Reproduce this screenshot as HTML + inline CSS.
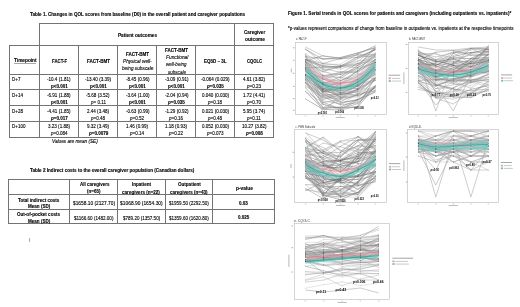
<!DOCTYPE html><html><head><meta charset="utf-8"><style>
html,body{margin:0;padding:0;background:#fff;}
body{width:520px;height:307px;position:relative;overflow:hidden;font-family:"Liberation Sans", sans-serif;}
.t{position:absolute;white-space:nowrap;line-height:1;color:#000;transform-origin:0 50%;-webkit-text-stroke:0.12px #000;}
.h{position:absolute;height:1px;background:#737373;}
.v{position:absolute;width:1px;background:#737373;}
svg{position:absolute;left:0;top:0;}
</style></head><body>
<div class="h" style="left:39px;top:23px;width:235px"></div>
<div class="h" style="left:9px;top:45px;width:265px"></div>
<div class="h" style="left:9px;top:74px;width:265px"></div>
<div class="h" style="left:9px;top:89px;width:265px"></div>
<div class="h" style="left:9px;top:105px;width:265px"></div>
<div class="h" style="left:9px;top:121px;width:265px"></div>
<div class="h" style="left:9px;top:137px;width:265px"></div>
<div class="h" style="left:8px;top:179px;width:267px"></div>
<div class="h" style="left:8px;top:194px;width:267px"></div>
<div class="h" style="left:8px;top:209px;width:267px"></div>
<div class="h" style="left:8px;top:223px;width:267px"></div>
<div class="v" style="left:39px;top:23px;height:115px"></div>
<div class="v" style="left:234px;top:23px;height:115px"></div>
<div class="v" style="left:273px;top:23px;height:115px"></div>
<div class="v" style="left:9px;top:45px;height:93px"></div>
<div class="v" style="left:78px;top:45px;height:92px"></div>
<div class="v" style="left:117px;top:45px;height:92px"></div>
<div class="v" style="left:156px;top:45px;height:92px"></div>
<div class="v" style="left:195px;top:45px;height:92px"></div>
<div class="v" style="left:8px;top:179px;height:45px"></div>
<div class="v" style="left:69px;top:179px;height:45px"></div>
<div class="v" style="left:117px;top:179px;height:45px"></div>
<div class="v" style="left:165px;top:179px;height:45px"></div>
<div class="v" style="left:212px;top:179px;height:45px"></div>
<div class="v" style="left:274px;top:179px;height:45px"></div>
<svg width="520" height="307" viewBox="0 0 520 307"><rect x="295.5" y="42.5" width="91.0" height="72.0" fill="#fff" stroke="#c4c4c4" stroke-width="0.7"/><polyline points="305.4,59.3 322.9,63.5 340.3,65.3 357.8,65.2 375.2,48.5" fill="none" stroke="#6c6c6c" stroke-width="0.42"/><polyline points="305.4,75.4 322.9,90.8 340.3,93.5 357.8,90.2 375.2,69.8" fill="none" stroke="#a2a2a2" stroke-width="0.42"/><polyline points="305.4,83.0 322.9,97.1 340.3,98.5 357.8,88.9 375.2,89.1" fill="none" stroke="#b4b4b4" stroke-width="0.42"/><polyline points="305.4,62.0 322.9,84.6 340.3,87.6 357.8,86.2 375.2,69.6" fill="none" stroke="#5a5a5a" stroke-width="0.42"/><polyline points="305.4,67.6 322.9,82.4 340.3,85.4 357.8,84.7 375.2,65.6" fill="none" stroke="#a2a2a2" stroke-width="0.42"/><polyline points="305.4,69.8 322.9,85.3 340.3,92.7 357.8,86.5 375.2,73.9" fill="none" stroke="#5a5a5a" stroke-width="0.42"/><polyline points="305.4,86.1 322.9,96.6 340.3,104.8 357.8,102.8 375.2,91.1" fill="none" stroke="#7e7e7e" stroke-width="0.42"/><polyline points="305.4,65.7 322.9,77.7 340.3,72.0 357.8,70.8 375.2,53.9" fill="none" stroke="#b4b4b4" stroke-width="0.42"/><polyline points="305.4,74.9 322.9,83.7 340.3,76.9 357.8,65.4 375.2,56.2" fill="none" stroke="#5a5a5a" stroke-width="0.42"/><polyline points="305.4,81.7 322.9,100.8 340.3,103.6 357.8,99.1 375.2,78.2" fill="none" stroke="#7e7e7e" stroke-width="0.42"/><polyline points="305.4,53.7 322.9,64.4 340.3,64.2 357.8,53.8 375.2,57.9" fill="none" stroke="#b4b4b4" stroke-width="0.42"/><polyline points="305.4,75.4 322.9,82.4 340.3,83.8 357.8,76.5 375.2,62.6" fill="none" stroke="#5a5a5a" stroke-width="0.42"/><polyline points="305.4,60.9 322.9,55.8 340.3,58.4 357.8,54.4 375.2,45.7" fill="none" stroke="#6c6c6c" stroke-width="0.42"/><polyline points="305.4,82.4 322.9,97.6 340.3,93.4 357.8,89.7 375.2,71.8" fill="none" stroke="#a2a2a2" stroke-width="0.42"/><polyline points="305.4,56.2 322.9,67.5 340.3,65.7 357.8,60.7 375.2,60.1" fill="none" stroke="#b4b4b4" stroke-width="0.42"/><polyline points="305.4,61.8 322.9,78.5 340.3,71.5 357.8,71.7 375.2,50.1" fill="none" stroke="#b4b4b4" stroke-width="0.42"/><polyline points="305.4,85.3 322.9,98.2 340.3,98.7 357.8,93.5 375.2,85.7" fill="none" stroke="#b4b4b4" stroke-width="0.42"/><polyline points="305.4,59.6 322.9,65.5 340.3,67.4 357.8,58.5 375.2,49.5" fill="none" stroke="#5a5a5a" stroke-width="0.42"/><polyline points="305.4,59.2 322.9,66.4 340.3,67.3 357.8,61.6 375.2,48.2" fill="none" stroke="#909090" stroke-width="0.42"/><polyline points="305.4,77.4 322.9,99.5 340.3,94.6 357.8,91.3 375.2,65.0" fill="none" stroke="#6c6c6c" stroke-width="0.42"/><polyline points="305.4,61.0 322.9,66.3 340.3,69.1 357.8,63.5 375.2,61.2" fill="none" stroke="#909090" stroke-width="0.42"/><polyline points="305.4,68.3 322.9,89.9 340.3,96.3 357.8,89.3 375.2,77.5" fill="none" stroke="#909090" stroke-width="0.42"/><polyline points="305.4,63.4 322.9,76.7 340.3,77.6 357.8,79.4 375.2,59.4" fill="none" stroke="#909090" stroke-width="0.42"/><polyline points="305.4,67.3 322.9,88.1 340.3,90.9 357.8,82.0 375.2,70.2" fill="none" stroke="#6c6c6c" stroke-width="0.42"/><polyline points="305.4,59.4 322.9,68.5 340.3,72.2 357.8,72.8 375.2,59.4" fill="none" stroke="#7e7e7e" stroke-width="0.42"/><polyline points="305.4,67.9 322.9,88.7 340.3,97.0 357.8,95.2 375.2,90.4" fill="none" stroke="#909090" stroke-width="0.42"/><polyline points="305.4,78.1 322.9,90.8 340.3,101.6 357.8,94.2 375.2,75.3" fill="none" stroke="#6c6c6c" stroke-width="0.42"/><polyline points="305.4,70.9 322.9,77.6 340.3,83.7 357.8,74.6 375.2,69.5" fill="none" stroke="#a2a2a2" stroke-width="0.42"/><polyline points="305.4,61.3 322.9,92.8 340.3,97.9 357.8,88.9 375.2,78.7" fill="none" stroke="#909090" stroke-width="0.42"/><polyline points="305.4,78.0 322.9,91.8 340.3,88.6 357.8,82.6 375.2,69.5" fill="none" stroke="#6c6c6c" stroke-width="0.42"/><polyline points="305.4,91.6 322.9,108.6 340.3,107.1 357.8,99.5 375.2,92.2" fill="none" stroke="#5a5a5a" stroke-width="0.42"/><polyline points="305.4,91.3 322.9,102.9 340.3,99.2 357.8,89.8 375.2,80.3" fill="none" stroke="#909090" stroke-width="0.42"/><polyline points="305.4,64.6 322.9,72.0 340.3,74.8 357.8,71.0 375.2,54.1" fill="none" stroke="#a2a2a2" stroke-width="0.42"/><polyline points="305.4,62.0 322.9,69.6 340.3,80.6 357.8,75.4 375.2,60.6" fill="none" stroke="#a2a2a2" stroke-width="0.42"/><polyline points="305.4,54.8 322.9,87.0 340.3,89.9 357.8,79.5 375.2,67.9" fill="none" stroke="#909090" stroke-width="0.42"/><polyline points="305.4,87.5 322.9,107.3 340.3,107.4 357.8,107.1 375.2,85.9" fill="none" stroke="#5a5a5a" stroke-width="0.42"/><polyline points="305.4,62.0 322.9,75.5 340.3,77.2 357.8,69.1 375.2,62.6" fill="none" stroke="#b4b4b4" stroke-width="0.42"/><polyline points="305.4,48.8 322.9,63.4 340.3,58.6 357.8,55.2 375.2,54.4" fill="none" stroke="#7e7e7e" stroke-width="0.42"/><polyline points="305.4,64.3 322.9,91.9 340.3,84.1 357.8,70.5 375.2,59.4" fill="none" stroke="#7e7e7e" stroke-width="0.42"/><polyline points="305.4,74.2 322.9,89.8 340.3,92.6 357.8,95.6 375.2,87.9" fill="none" stroke="#6c6c6c" stroke-width="0.42"/><polyline points="305.4,75.2 322.9,83.6 340.3,79.0 357.8,67.2 375.2,46.7" fill="none" stroke="#909090" stroke-width="0.42"/><polyline points="305.4,60.1 322.9,78.9 340.3,82.8 357.8,81.8 375.2,62.1" fill="none" stroke="#b4b4b4" stroke-width="0.42"/><polyline points="305.4,79.3 322.9,94.8 340.3,99.0 357.8,83.8 375.2,80.2" fill="none" stroke="#a2a2a2" stroke-width="0.42"/><polyline points="305.4,68.7 322.9,93.6 340.3,102.5 357.8,100.1 375.2,87.4" fill="none" stroke="#5a5a5a" stroke-width="0.42"/><polyline points="305.4,75.2 322.9,90.9 340.3,94.7 357.8,92.0 375.2,77.8" fill="none" stroke="#6c6c6c" stroke-width="0.42"/><polyline points="305.4,75.6 322.9,76.2 340.3,87.4 357.8,84.9 375.2,67.7" fill="none" stroke="#a2a2a2" stroke-width="0.42"/><polyline points="305.4,65.0 322.9,79.5 340.3,80.6 357.8,73.5 375.2,79.4" fill="none" stroke="#909090" stroke-width="0.42"/><polyline points="305.4,67.9 322.9,75.6 340.3,74.5 357.8,67.8 375.2,56.2" fill="none" stroke="#a2a2a2" stroke-width="0.42"/><polyline points="305.4,98.8 322.9,109.3 340.3,110.0 357.8,106.2 375.2,77.8" fill="none" stroke="#5a5a5a" stroke-width="0.42"/><polyline points="305.4,49.3 322.9,59.4 340.3,57.5 357.8,52.9 375.2,47.6" fill="none" stroke="#5a5a5a" stroke-width="0.42"/><polyline points="305.4,69.9 322.9,86.8 340.3,86.0 357.8,94.1 375.2,70.4" fill="none" stroke="#b4b4b4" stroke-width="0.42"/><polyline points="305.4,75.6 322.9,96.1 340.3,96.3 357.8,88.7 375.2,80.6" fill="none" stroke="#a2a2a2" stroke-width="0.42"/><polyline points="305.4,56.7 322.9,58.5 340.3,59.0 357.8,57.3 375.2,55.5" fill="none" stroke="#6c6c6c" stroke-width="0.42"/><polyline points="305.4,74.3 322.9,88.4 340.3,91.4 357.8,85.5 375.2,74.2" fill="none" stroke="#7e7e7e" stroke-width="0.42"/><polyline points="305.4,74.3 322.9,89.5 340.3,88.7 357.8,79.6 375.2,67.8" fill="none" stroke="#6c6c6c" stroke-width="0.42"/><polyline points="305.4,83.5 322.9,102.2 340.3,109.0 357.8,103.6 375.2,86.9" fill="none" stroke="#6c6c6c" stroke-width="0.42"/><polyline points="305.4,79.6 322.9,104.4 340.3,108.4 357.8,101.5 375.2,86.1" fill="none" stroke="#7e7e7e" stroke-width="0.42"/><polyline points="305.4,65.3 322.9,84.4 340.3,84.3 357.8,80.5 375.2,64.1" fill="none" stroke="#6c6c6c" stroke-width="0.42"/><polyline points="305.4,80.3 322.9,95.5 340.3,104.9 357.8,93.7 375.2,90.9" fill="none" stroke="#a2a2a2" stroke-width="0.42"/><polyline points="305.4,82.7 322.9,95.0 340.3,94.1 357.8,85.5 375.2,73.1" fill="none" stroke="#6c6c6c" stroke-width="0.42"/><polyline points="305.4,74.5 322.9,83.9 340.3,97.7 357.8,96.8 375.2,85.9" fill="none" stroke="#7e7e7e" stroke-width="0.42"/><polyline points="305.4,57.0 322.9,75.6 340.3,73.2 357.8,63.6 375.2,53.5" fill="none" stroke="#7e7e7e" stroke-width="0.42"/><polyline points="305.4,54.3 322.9,69.9 340.3,66.2 357.8,63.5 375.2,55.5" fill="none" stroke="#a2a2a2" stroke-width="0.42"/><polyline points="305.4,66.1 322.9,83.9 340.3,88.6 357.8,85.0 375.2,64.8" fill="none" stroke="#7e7e7e" stroke-width="0.42"/><polyline points="305.4,63.9 322.9,74.6 340.3,82.7 357.8,77.0 375.2,52.9" fill="none" stroke="#b4b4b4" stroke-width="0.42"/><polyline points="305.4,69.9 322.9,79.5 340.3,74.0 357.8,68.5 375.2,62.6" fill="none" stroke="#909090" stroke-width="0.42"/><polyline points="305.4,68.2 322.9,89.4 340.3,81.2 357.8,71.2 375.2,62.1" fill="none" stroke="#6c6c6c" stroke-width="0.42"/><polyline points="305.4,74.8 322.9,91.3 340.3,93.9 357.8,77.7 375.2,62.6" fill="none" stroke="#a2a2a2" stroke-width="0.42"/><polyline points="305.4,67.7 322.9,67.3 340.3,66.4 357.8,67.5 375.2,57.4" fill="none" stroke="#7e7e7e" stroke-width="0.42"/><polyline points="305.4,79.4 322.9,92.6 340.3,87.9 357.8,88.5 375.2,62.8" fill="none" stroke="#909090" stroke-width="0.42"/><polyline points="305.4,76.7 322.9,88.9 340.3,90.8 357.8,88.3 375.2,63.7" fill="none" stroke="#909090" stroke-width="0.42"/><polyline points="305.4,62.2 322.9,71.5 340.3,66.3 357.8,56.8 375.2,49.7" fill="none" stroke="#5a5a5a" stroke-width="0.42"/><polyline points="305.4,47.0 322.9,56.0 340.3,58.0 357.8,53.0 375.2,48.0" fill="none" stroke="#9a9a9a" stroke-width="0.5"/><polyline points="305.4,60.0 322.9,108.0 340.3,100.0 357.8,95.0 375.2,80.0" fill="none" stroke="#9a9a9a" stroke-width="0.5"/><polyline points="305.4,55.0 322.9,104.0 340.3,110.0 357.8,100.0 375.2,90.0" fill="none" stroke="#9a9a9a" stroke-width="0.5"/><polyline points="305.4,80.0 322.9,112.0 340.3,95.0 357.8,90.0 375.2,70.0" fill="none" stroke="#9a9a9a" stroke-width="0.5"/><polygon points="305.4,62.5 306.4,63.4 307.8,64.5 309.4,65.8 311.1,67.3 313.1,68.8 315.1,70.4 317.1,71.9 319.1,73.3 321.1,74.5 322.9,75.5 324.6,76.4 326.4,77.2 328.1,77.9 329.9,78.6 331.6,79.1 333.3,79.6 335.1,80.0 336.8,80.3 338.6,80.4 340.3,80.5 342.0,80.4 343.8,80.3 345.5,80.0 347.3,79.6 349.1,79.1 350.8,78.6 352.6,77.9 354.3,77.2 356.1,76.4 357.8,75.5 359.6,74.5 361.6,73.2 363.6,71.8 365.6,70.3 367.6,68.8 369.5,67.3 371.3,65.8 372.8,64.5 374.2,63.4 375.2,62.5 375.2,75.5 374.2,75.9 372.8,76.4 371.3,77.1 369.5,77.9 367.6,78.7 365.6,79.6 363.6,80.4 361.6,81.2 359.6,81.9 357.8,82.5 356.1,83.0 354.3,83.5 352.6,83.9 350.8,84.3 349.1,84.6 347.3,84.9 345.5,85.2 343.8,85.3 342.0,85.5 340.3,85.5 338.6,85.5 336.8,85.3 335.1,85.2 333.3,84.9 331.6,84.6 329.9,84.3 328.1,83.9 326.4,83.4 324.6,83.0 322.9,82.5 321.1,81.9 319.1,81.2 317.1,80.4 315.1,79.5 313.1,78.7 311.1,77.9 309.4,77.1 307.8,76.4 306.4,75.9 305.4,75.5" fill="#eeb4bd" fill-opacity="0.4"/><polyline points="305.4,69.0 306.4,69.6 307.8,70.5 309.4,71.5 311.1,72.6 313.1,73.8 315.1,75.0 317.1,76.1 319.1,77.2 321.1,78.2 322.9,79.0 324.6,79.7 326.4,80.3 328.1,80.9 329.9,81.4 331.6,81.9 333.3,82.3 335.1,82.6 336.8,82.8 338.6,83.0 340.3,83.0 342.0,83.0 343.8,82.8 345.5,82.6 347.3,82.3 349.1,81.9 350.8,81.4 352.6,80.9 354.3,80.3 356.1,79.7 357.8,79.0 359.6,78.2 361.6,77.2 363.6,76.1 365.6,75.0 367.6,73.8 369.5,72.6 371.3,71.5 372.8,70.5 374.2,69.6 375.2,69.0" fill="none" stroke="#d9707f" stroke-width="0.6" stroke-opacity="0.9"/><polygon points="305.4,64.5 306.4,65.6 307.8,67.0 309.4,68.6 311.1,70.5 313.1,72.4 315.1,74.4 317.1,76.3 319.1,78.0 321.1,79.5 322.9,80.7 324.6,81.7 326.4,82.7 328.1,83.5 329.9,84.1 331.6,84.7 333.3,85.2 335.1,85.5 336.8,85.7 338.6,85.8 340.3,85.8 342.0,85.6 343.8,85.3 345.5,84.9 347.3,84.4 349.1,83.7 350.8,83.0 352.6,82.1 354.3,81.1 356.1,80.0 357.8,78.7 359.6,77.2 361.6,75.5 363.6,73.4 365.6,71.3 367.6,69.0 369.5,66.8 371.3,64.7 372.8,62.8 374.2,61.2 375.2,60.0 375.2,73.0 374.2,73.7 372.8,74.7 371.3,75.9 369.5,77.2 367.6,78.7 365.6,80.2 363.6,81.7 361.6,83.1 359.6,84.3 357.8,85.3 356.1,86.1 354.3,86.9 352.6,87.5 350.8,88.2 349.1,88.7 347.3,89.1 345.5,89.5 343.8,89.8 342.0,90.1 340.3,90.2 338.6,90.3 336.8,90.2 335.1,90.1 333.3,89.9 331.6,89.7 329.9,89.3 328.1,88.9 326.4,88.4 324.6,87.9 322.9,87.3 321.1,86.5 319.1,85.6 317.1,84.5 315.1,83.3 313.1,82.1 311.1,80.9 309.4,79.8 307.8,78.8 306.4,78.1 305.4,77.5" fill="#6cc2b9" fill-opacity="0.62"/><polyline points="305.4,71.0 306.4,71.8 307.8,72.9 309.4,74.2 311.1,75.7 313.1,77.2 315.1,78.8 317.1,80.4 319.1,81.8 321.1,83.0 322.9,84.0 324.6,84.8 326.4,85.5 328.1,86.2 329.9,86.7 331.6,87.2 333.3,87.6 335.1,87.8 336.8,88.0 338.6,88.0 340.3,88.0 342.0,87.8 343.8,87.6 345.5,87.2 347.3,86.8 349.1,86.2 350.8,85.6 352.6,84.8 354.3,84.0 356.1,83.0 357.8,82.0 359.6,80.8 361.6,79.3 363.6,77.6 365.6,75.7 367.6,73.9 369.5,72.0 371.3,70.3 372.8,68.8 374.2,67.5 375.2,66.5" fill="none" stroke="#279a90" stroke-width="0.8" stroke-opacity="0.9"/><circle cx="305.4" cy="59.3" r="0.3" fill="#444" fill-opacity="0.55"/><circle cx="322.9" cy="63.5" r="0.3" fill="#444" fill-opacity="0.55"/><circle cx="340.3" cy="65.3" r="0.3" fill="#444" fill-opacity="0.55"/><circle cx="357.8" cy="65.2" r="0.3" fill="#444" fill-opacity="0.55"/><circle cx="375.2" cy="48.5" r="0.3" fill="#444" fill-opacity="0.55"/><circle cx="305.4" cy="75.4" r="0.3" fill="#444" fill-opacity="0.55"/><circle cx="322.9" cy="90.8" r="0.3" fill="#444" fill-opacity="0.55"/><circle cx="340.3" cy="93.5" r="0.3" fill="#444" fill-opacity="0.55"/><circle cx="357.8" cy="90.2" r="0.3" fill="#444" fill-opacity="0.55"/><circle cx="375.2" cy="69.8" r="0.3" fill="#444" fill-opacity="0.55"/><circle cx="305.4" cy="83.0" r="0.3" fill="#444" fill-opacity="0.55"/><circle cx="322.9" cy="97.1" r="0.3" fill="#444" fill-opacity="0.55"/><circle cx="340.3" cy="98.5" r="0.3" fill="#444" fill-opacity="0.55"/><circle cx="357.8" cy="88.9" r="0.3" fill="#444" fill-opacity="0.55"/><circle cx="375.2" cy="89.1" r="0.3" fill="#444" fill-opacity="0.55"/><circle cx="305.4" cy="62.0" r="0.3" fill="#444" fill-opacity="0.55"/><circle cx="322.9" cy="84.6" r="0.3" fill="#444" fill-opacity="0.55"/><circle cx="340.3" cy="87.6" r="0.3" fill="#444" fill-opacity="0.55"/><circle cx="357.8" cy="86.2" r="0.3" fill="#444" fill-opacity="0.55"/><circle cx="375.2" cy="69.6" r="0.3" fill="#444" fill-opacity="0.55"/><circle cx="305.4" cy="67.6" r="0.3" fill="#444" fill-opacity="0.55"/><circle cx="322.9" cy="82.4" r="0.3" fill="#444" fill-opacity="0.55"/><circle cx="340.3" cy="85.4" r="0.3" fill="#444" fill-opacity="0.55"/><circle cx="357.8" cy="84.7" r="0.3" fill="#444" fill-opacity="0.55"/><circle cx="375.2" cy="65.6" r="0.3" fill="#444" fill-opacity="0.55"/><circle cx="305.4" cy="69.8" r="0.3" fill="#444" fill-opacity="0.55"/><circle cx="322.9" cy="85.3" r="0.3" fill="#444" fill-opacity="0.55"/><circle cx="340.3" cy="92.7" r="0.3" fill="#444" fill-opacity="0.55"/><circle cx="357.8" cy="86.5" r="0.3" fill="#444" fill-opacity="0.55"/><circle cx="375.2" cy="73.9" r="0.3" fill="#444" fill-opacity="0.55"/><circle cx="305.4" cy="86.1" r="0.3" fill="#444" fill-opacity="0.55"/><circle cx="322.9" cy="96.6" r="0.3" fill="#444" fill-opacity="0.55"/><circle cx="340.3" cy="104.8" r="0.3" fill="#444" fill-opacity="0.55"/><circle cx="357.8" cy="102.8" r="0.3" fill="#444" fill-opacity="0.55"/><circle cx="375.2" cy="91.1" r="0.3" fill="#444" fill-opacity="0.55"/><circle cx="305.4" cy="65.7" r="0.3" fill="#444" fill-opacity="0.55"/><circle cx="322.9" cy="77.7" r="0.3" fill="#444" fill-opacity="0.55"/><circle cx="340.3" cy="72.0" r="0.3" fill="#444" fill-opacity="0.55"/><circle cx="357.8" cy="70.8" r="0.3" fill="#444" fill-opacity="0.55"/><circle cx="375.2" cy="53.9" r="0.3" fill="#444" fill-opacity="0.55"/><circle cx="305.4" cy="74.9" r="0.3" fill="#444" fill-opacity="0.55"/><circle cx="322.9" cy="83.7" r="0.3" fill="#444" fill-opacity="0.55"/><circle cx="340.3" cy="76.9" r="0.3" fill="#444" fill-opacity="0.55"/><circle cx="357.8" cy="65.4" r="0.3" fill="#444" fill-opacity="0.55"/><circle cx="375.2" cy="56.2" r="0.3" fill="#444" fill-opacity="0.55"/><circle cx="305.4" cy="81.7" r="0.3" fill="#444" fill-opacity="0.55"/><circle cx="322.9" cy="100.8" r="0.3" fill="#444" fill-opacity="0.55"/><circle cx="340.3" cy="103.6" r="0.3" fill="#444" fill-opacity="0.55"/><circle cx="357.8" cy="99.1" r="0.3" fill="#444" fill-opacity="0.55"/><circle cx="375.2" cy="78.2" r="0.3" fill="#444" fill-opacity="0.55"/><circle cx="305.4" cy="53.7" r="0.3" fill="#444" fill-opacity="0.55"/><circle cx="322.9" cy="64.4" r="0.3" fill="#444" fill-opacity="0.55"/><circle cx="340.3" cy="64.2" r="0.3" fill="#444" fill-opacity="0.55"/><circle cx="357.8" cy="53.8" r="0.3" fill="#444" fill-opacity="0.55"/><circle cx="375.2" cy="57.9" r="0.3" fill="#444" fill-opacity="0.55"/><circle cx="305.4" cy="75.4" r="0.3" fill="#444" fill-opacity="0.55"/><circle cx="322.9" cy="82.4" r="0.3" fill="#444" fill-opacity="0.55"/><circle cx="340.3" cy="83.8" r="0.3" fill="#444" fill-opacity="0.55"/><circle cx="357.8" cy="76.5" r="0.3" fill="#444" fill-opacity="0.55"/><circle cx="375.2" cy="62.6" r="0.3" fill="#444" fill-opacity="0.55"/><circle cx="305.4" cy="60.9" r="0.3" fill="#444" fill-opacity="0.55"/><circle cx="322.9" cy="55.8" r="0.3" fill="#444" fill-opacity="0.55"/><circle cx="340.3" cy="58.4" r="0.3" fill="#444" fill-opacity="0.55"/><circle cx="357.8" cy="54.4" r="0.3" fill="#444" fill-opacity="0.55"/><circle cx="375.2" cy="45.7" r="0.3" fill="#444" fill-opacity="0.55"/><circle cx="305.4" cy="82.4" r="0.3" fill="#444" fill-opacity="0.55"/><circle cx="322.9" cy="97.6" r="0.3" fill="#444" fill-opacity="0.55"/><circle cx="340.3" cy="93.4" r="0.3" fill="#444" fill-opacity="0.55"/><circle cx="357.8" cy="89.7" r="0.3" fill="#444" fill-opacity="0.55"/><circle cx="375.2" cy="71.8" r="0.3" fill="#444" fill-opacity="0.55"/><circle cx="305.4" cy="56.2" r="0.3" fill="#444" fill-opacity="0.55"/><circle cx="322.9" cy="67.5" r="0.3" fill="#444" fill-opacity="0.55"/><circle cx="340.3" cy="65.7" r="0.3" fill="#444" fill-opacity="0.55"/><circle cx="357.8" cy="60.7" r="0.3" fill="#444" fill-opacity="0.55"/><circle cx="375.2" cy="60.1" r="0.3" fill="#444" fill-opacity="0.55"/><circle cx="305.4" cy="61.8" r="0.3" fill="#444" fill-opacity="0.55"/><circle cx="322.9" cy="78.5" r="0.3" fill="#444" fill-opacity="0.55"/><circle cx="340.3" cy="71.5" r="0.3" fill="#444" fill-opacity="0.55"/><circle cx="357.8" cy="71.7" r="0.3" fill="#444" fill-opacity="0.55"/><circle cx="375.2" cy="50.1" r="0.3" fill="#444" fill-opacity="0.55"/><circle cx="305.4" cy="85.3" r="0.3" fill="#444" fill-opacity="0.55"/><circle cx="322.9" cy="98.2" r="0.3" fill="#444" fill-opacity="0.55"/><circle cx="340.3" cy="98.7" r="0.3" fill="#444" fill-opacity="0.55"/><circle cx="357.8" cy="93.5" r="0.3" fill="#444" fill-opacity="0.55"/><circle cx="375.2" cy="85.7" r="0.3" fill="#444" fill-opacity="0.55"/><circle cx="305.4" cy="59.6" r="0.3" fill="#444" fill-opacity="0.55"/><circle cx="322.9" cy="65.5" r="0.3" fill="#444" fill-opacity="0.55"/><circle cx="340.3" cy="67.4" r="0.3" fill="#444" fill-opacity="0.55"/><circle cx="357.8" cy="58.5" r="0.3" fill="#444" fill-opacity="0.55"/><circle cx="375.2" cy="49.5" r="0.3" fill="#444" fill-opacity="0.55"/><circle cx="305.4" cy="59.2" r="0.3" fill="#444" fill-opacity="0.55"/><circle cx="322.9" cy="66.4" r="0.3" fill="#444" fill-opacity="0.55"/><circle cx="340.3" cy="67.3" r="0.3" fill="#444" fill-opacity="0.55"/><circle cx="357.8" cy="61.6" r="0.3" fill="#444" fill-opacity="0.55"/><circle cx="375.2" cy="48.2" r="0.3" fill="#444" fill-opacity="0.55"/><circle cx="305.4" cy="77.4" r="0.3" fill="#444" fill-opacity="0.55"/><circle cx="322.9" cy="99.5" r="0.3" fill="#444" fill-opacity="0.55"/><circle cx="340.3" cy="94.6" r="0.3" fill="#444" fill-opacity="0.55"/><circle cx="357.8" cy="91.3" r="0.3" fill="#444" fill-opacity="0.55"/><circle cx="375.2" cy="65.0" r="0.3" fill="#444" fill-opacity="0.55"/><circle cx="305.4" cy="61.0" r="0.3" fill="#444" fill-opacity="0.55"/><circle cx="322.9" cy="66.3" r="0.3" fill="#444" fill-opacity="0.55"/><circle cx="340.3" cy="69.1" r="0.3" fill="#444" fill-opacity="0.55"/><circle cx="357.8" cy="63.5" r="0.3" fill="#444" fill-opacity="0.55"/><circle cx="375.2" cy="61.2" r="0.3" fill="#444" fill-opacity="0.55"/><circle cx="305.4" cy="68.3" r="0.3" fill="#444" fill-opacity="0.55"/><circle cx="322.9" cy="89.9" r="0.3" fill="#444" fill-opacity="0.55"/><circle cx="340.3" cy="96.3" r="0.3" fill="#444" fill-opacity="0.55"/><circle cx="357.8" cy="89.3" r="0.3" fill="#444" fill-opacity="0.55"/><circle cx="375.2" cy="77.5" r="0.3" fill="#444" fill-opacity="0.55"/><circle cx="305.4" cy="63.4" r="0.3" fill="#444" fill-opacity="0.55"/><circle cx="322.9" cy="76.7" r="0.3" fill="#444" fill-opacity="0.55"/><circle cx="340.3" cy="77.6" r="0.3" fill="#444" fill-opacity="0.55"/><circle cx="357.8" cy="79.4" r="0.3" fill="#444" fill-opacity="0.55"/><circle cx="375.2" cy="59.4" r="0.3" fill="#444" fill-opacity="0.55"/><circle cx="305.4" cy="67.3" r="0.3" fill="#444" fill-opacity="0.55"/><circle cx="322.9" cy="88.1" r="0.3" fill="#444" fill-opacity="0.55"/><circle cx="340.3" cy="90.9" r="0.3" fill="#444" fill-opacity="0.55"/><circle cx="357.8" cy="82.0" r="0.3" fill="#444" fill-opacity="0.55"/><circle cx="375.2" cy="70.2" r="0.3" fill="#444" fill-opacity="0.55"/><circle cx="305.4" cy="59.4" r="0.3" fill="#444" fill-opacity="0.55"/><circle cx="322.9" cy="68.5" r="0.3" fill="#444" fill-opacity="0.55"/><circle cx="340.3" cy="72.2" r="0.3" fill="#444" fill-opacity="0.55"/><circle cx="357.8" cy="72.8" r="0.3" fill="#444" fill-opacity="0.55"/><circle cx="375.2" cy="59.4" r="0.3" fill="#444" fill-opacity="0.55"/><circle cx="305.4" cy="67.9" r="0.3" fill="#444" fill-opacity="0.55"/><circle cx="322.9" cy="88.7" r="0.3" fill="#444" fill-opacity="0.55"/><circle cx="340.3" cy="97.0" r="0.3" fill="#444" fill-opacity="0.55"/><circle cx="357.8" cy="95.2" r="0.3" fill="#444" fill-opacity="0.55"/><circle cx="375.2" cy="90.4" r="0.3" fill="#444" fill-opacity="0.55"/><circle cx="305.4" cy="78.1" r="0.3" fill="#444" fill-opacity="0.55"/><circle cx="322.9" cy="90.8" r="0.3" fill="#444" fill-opacity="0.55"/><circle cx="340.3" cy="101.6" r="0.3" fill="#444" fill-opacity="0.55"/><circle cx="357.8" cy="94.2" r="0.3" fill="#444" fill-opacity="0.55"/><circle cx="375.2" cy="75.3" r="0.3" fill="#444" fill-opacity="0.55"/><circle cx="305.4" cy="70.9" r="0.3" fill="#444" fill-opacity="0.55"/><circle cx="322.9" cy="77.6" r="0.3" fill="#444" fill-opacity="0.55"/><circle cx="340.3" cy="83.7" r="0.3" fill="#444" fill-opacity="0.55"/><circle cx="357.8" cy="74.6" r="0.3" fill="#444" fill-opacity="0.55"/><circle cx="375.2" cy="69.5" r="0.3" fill="#444" fill-opacity="0.55"/><circle cx="305.4" cy="61.3" r="0.3" fill="#444" fill-opacity="0.55"/><circle cx="322.9" cy="92.8" r="0.3" fill="#444" fill-opacity="0.55"/><circle cx="340.3" cy="97.9" r="0.3" fill="#444" fill-opacity="0.55"/><circle cx="357.8" cy="88.9" r="0.3" fill="#444" fill-opacity="0.55"/><circle cx="375.2" cy="78.7" r="0.3" fill="#444" fill-opacity="0.55"/><circle cx="305.4" cy="78.0" r="0.3" fill="#444" fill-opacity="0.55"/><circle cx="322.9" cy="91.8" r="0.3" fill="#444" fill-opacity="0.55"/><circle cx="340.3" cy="88.6" r="0.3" fill="#444" fill-opacity="0.55"/><circle cx="357.8" cy="82.6" r="0.3" fill="#444" fill-opacity="0.55"/><circle cx="375.2" cy="69.5" r="0.3" fill="#444" fill-opacity="0.55"/><circle cx="305.4" cy="91.6" r="0.3" fill="#444" fill-opacity="0.55"/><circle cx="322.9" cy="108.6" r="0.3" fill="#444" fill-opacity="0.55"/><circle cx="340.3" cy="107.1" r="0.3" fill="#444" fill-opacity="0.55"/><circle cx="357.8" cy="99.5" r="0.3" fill="#444" fill-opacity="0.55"/><circle cx="375.2" cy="92.2" r="0.3" fill="#444" fill-opacity="0.55"/><circle cx="305.4" cy="91.3" r="0.3" fill="#444" fill-opacity="0.55"/><circle cx="322.9" cy="102.9" r="0.3" fill="#444" fill-opacity="0.55"/><circle cx="340.3" cy="99.2" r="0.3" fill="#444" fill-opacity="0.55"/><circle cx="357.8" cy="89.8" r="0.3" fill="#444" fill-opacity="0.55"/><circle cx="375.2" cy="80.3" r="0.3" fill="#444" fill-opacity="0.55"/><circle cx="305.4" cy="64.6" r="0.3" fill="#444" fill-opacity="0.55"/><circle cx="322.9" cy="72.0" r="0.3" fill="#444" fill-opacity="0.55"/><circle cx="340.3" cy="74.8" r="0.3" fill="#444" fill-opacity="0.55"/><circle cx="357.8" cy="71.0" r="0.3" fill="#444" fill-opacity="0.55"/><circle cx="375.2" cy="54.1" r="0.3" fill="#444" fill-opacity="0.55"/><circle cx="305.4" cy="62.0" r="0.3" fill="#444" fill-opacity="0.55"/><circle cx="322.9" cy="69.6" r="0.3" fill="#444" fill-opacity="0.55"/><circle cx="340.3" cy="80.6" r="0.3" fill="#444" fill-opacity="0.55"/><circle cx="357.8" cy="75.4" r="0.3" fill="#444" fill-opacity="0.55"/><circle cx="375.2" cy="60.6" r="0.3" fill="#444" fill-opacity="0.55"/><circle cx="305.4" cy="54.8" r="0.3" fill="#444" fill-opacity="0.55"/><circle cx="322.9" cy="87.0" r="0.3" fill="#444" fill-opacity="0.55"/><circle cx="340.3" cy="89.9" r="0.3" fill="#444" fill-opacity="0.55"/><circle cx="357.8" cy="79.5" r="0.3" fill="#444" fill-opacity="0.55"/><circle cx="375.2" cy="67.9" r="0.3" fill="#444" fill-opacity="0.55"/><circle cx="305.4" cy="87.5" r="0.3" fill="#444" fill-opacity="0.55"/><circle cx="322.9" cy="107.3" r="0.3" fill="#444" fill-opacity="0.55"/><circle cx="340.3" cy="107.4" r="0.3" fill="#444" fill-opacity="0.55"/><circle cx="357.8" cy="107.1" r="0.3" fill="#444" fill-opacity="0.55"/><circle cx="375.2" cy="85.9" r="0.3" fill="#444" fill-opacity="0.55"/><circle cx="305.4" cy="62.0" r="0.3" fill="#444" fill-opacity="0.55"/><circle cx="322.9" cy="75.5" r="0.3" fill="#444" fill-opacity="0.55"/><circle cx="340.3" cy="77.2" r="0.3" fill="#444" fill-opacity="0.55"/><circle cx="357.8" cy="69.1" r="0.3" fill="#444" fill-opacity="0.55"/><circle cx="375.2" cy="62.6" r="0.3" fill="#444" fill-opacity="0.55"/><circle cx="305.4" cy="48.8" r="0.3" fill="#444" fill-opacity="0.55"/><circle cx="322.9" cy="63.4" r="0.3" fill="#444" fill-opacity="0.55"/><circle cx="340.3" cy="58.6" r="0.3" fill="#444" fill-opacity="0.55"/><circle cx="357.8" cy="55.2" r="0.3" fill="#444" fill-opacity="0.55"/><circle cx="375.2" cy="54.4" r="0.3" fill="#444" fill-opacity="0.55"/><circle cx="305.4" cy="64.3" r="0.3" fill="#444" fill-opacity="0.55"/><circle cx="322.9" cy="91.9" r="0.3" fill="#444" fill-opacity="0.55"/><circle cx="340.3" cy="84.1" r="0.3" fill="#444" fill-opacity="0.55"/><circle cx="357.8" cy="70.5" r="0.3" fill="#444" fill-opacity="0.55"/><circle cx="375.2" cy="59.4" r="0.3" fill="#444" fill-opacity="0.55"/><circle cx="305.4" cy="74.2" r="0.3" fill="#444" fill-opacity="0.55"/><circle cx="322.9" cy="89.8" r="0.3" fill="#444" fill-opacity="0.55"/><circle cx="340.3" cy="92.6" r="0.3" fill="#444" fill-opacity="0.55"/><circle cx="357.8" cy="95.6" r="0.3" fill="#444" fill-opacity="0.55"/><circle cx="375.2" cy="87.9" r="0.3" fill="#444" fill-opacity="0.55"/><circle cx="305.4" cy="75.2" r="0.3" fill="#444" fill-opacity="0.55"/><circle cx="322.9" cy="83.6" r="0.3" fill="#444" fill-opacity="0.55"/><circle cx="340.3" cy="79.0" r="0.3" fill="#444" fill-opacity="0.55"/><circle cx="357.8" cy="67.2" r="0.3" fill="#444" fill-opacity="0.55"/><circle cx="375.2" cy="46.7" r="0.3" fill="#444" fill-opacity="0.55"/><circle cx="305.4" cy="60.1" r="0.3" fill="#444" fill-opacity="0.55"/><circle cx="322.9" cy="78.9" r="0.3" fill="#444" fill-opacity="0.55"/><circle cx="340.3" cy="82.8" r="0.3" fill="#444" fill-opacity="0.55"/><circle cx="357.8" cy="81.8" r="0.3" fill="#444" fill-opacity="0.55"/><circle cx="375.2" cy="62.1" r="0.3" fill="#444" fill-opacity="0.55"/><circle cx="305.4" cy="79.3" r="0.3" fill="#444" fill-opacity="0.55"/><circle cx="322.9" cy="94.8" r="0.3" fill="#444" fill-opacity="0.55"/><circle cx="340.3" cy="99.0" r="0.3" fill="#444" fill-opacity="0.55"/><circle cx="357.8" cy="83.8" r="0.3" fill="#444" fill-opacity="0.55"/><circle cx="375.2" cy="80.2" r="0.3" fill="#444" fill-opacity="0.55"/><circle cx="305.4" cy="68.7" r="0.3" fill="#444" fill-opacity="0.55"/><circle cx="322.9" cy="93.6" r="0.3" fill="#444" fill-opacity="0.55"/><circle cx="340.3" cy="102.5" r="0.3" fill="#444" fill-opacity="0.55"/><circle cx="357.8" cy="100.1" r="0.3" fill="#444" fill-opacity="0.55"/><circle cx="375.2" cy="87.4" r="0.3" fill="#444" fill-opacity="0.55"/><circle cx="305.4" cy="75.2" r="0.3" fill="#444" fill-opacity="0.55"/><circle cx="322.9" cy="90.9" r="0.3" fill="#444" fill-opacity="0.55"/><circle cx="340.3" cy="94.7" r="0.3" fill="#444" fill-opacity="0.55"/><circle cx="357.8" cy="92.0" r="0.3" fill="#444" fill-opacity="0.55"/><circle cx="375.2" cy="77.8" r="0.3" fill="#444" fill-opacity="0.55"/><circle cx="305.4" cy="75.6" r="0.3" fill="#444" fill-opacity="0.55"/><circle cx="322.9" cy="76.2" r="0.3" fill="#444" fill-opacity="0.55"/><circle cx="340.3" cy="87.4" r="0.3" fill="#444" fill-opacity="0.55"/><circle cx="357.8" cy="84.9" r="0.3" fill="#444" fill-opacity="0.55"/><circle cx="375.2" cy="67.7" r="0.3" fill="#444" fill-opacity="0.55"/><circle cx="305.4" cy="65.0" r="0.3" fill="#444" fill-opacity="0.55"/><circle cx="322.9" cy="79.5" r="0.3" fill="#444" fill-opacity="0.55"/><circle cx="340.3" cy="80.6" r="0.3" fill="#444" fill-opacity="0.55"/><circle cx="357.8" cy="73.5" r="0.3" fill="#444" fill-opacity="0.55"/><circle cx="375.2" cy="79.4" r="0.3" fill="#444" fill-opacity="0.55"/><circle cx="305.4" cy="67.9" r="0.3" fill="#444" fill-opacity="0.55"/><circle cx="322.9" cy="75.6" r="0.3" fill="#444" fill-opacity="0.55"/><circle cx="340.3" cy="74.5" r="0.3" fill="#444" fill-opacity="0.55"/><circle cx="357.8" cy="67.8" r="0.3" fill="#444" fill-opacity="0.55"/><circle cx="375.2" cy="56.2" r="0.3" fill="#444" fill-opacity="0.55"/><circle cx="305.4" cy="98.8" r="0.3" fill="#444" fill-opacity="0.55"/><circle cx="322.9" cy="109.3" r="0.3" fill="#444" fill-opacity="0.55"/><circle cx="340.3" cy="110.0" r="0.3" fill="#444" fill-opacity="0.55"/><circle cx="357.8" cy="106.2" r="0.3" fill="#444" fill-opacity="0.55"/><circle cx="375.2" cy="77.8" r="0.3" fill="#444" fill-opacity="0.55"/><circle cx="305.4" cy="49.3" r="0.3" fill="#444" fill-opacity="0.55"/><circle cx="322.9" cy="59.4" r="0.3" fill="#444" fill-opacity="0.55"/><circle cx="340.3" cy="57.5" r="0.3" fill="#444" fill-opacity="0.55"/><circle cx="357.8" cy="52.9" r="0.3" fill="#444" fill-opacity="0.55"/><circle cx="375.2" cy="47.6" r="0.3" fill="#444" fill-opacity="0.55"/><circle cx="305.4" cy="69.9" r="0.3" fill="#444" fill-opacity="0.55"/><circle cx="322.9" cy="86.8" r="0.3" fill="#444" fill-opacity="0.55"/><circle cx="340.3" cy="86.0" r="0.3" fill="#444" fill-opacity="0.55"/><circle cx="357.8" cy="94.1" r="0.3" fill="#444" fill-opacity="0.55"/><circle cx="375.2" cy="70.4" r="0.3" fill="#444" fill-opacity="0.55"/><circle cx="305.4" cy="75.6" r="0.3" fill="#444" fill-opacity="0.55"/><circle cx="322.9" cy="96.1" r="0.3" fill="#444" fill-opacity="0.55"/><circle cx="340.3" cy="96.3" r="0.3" fill="#444" fill-opacity="0.55"/><circle cx="357.8" cy="88.7" r="0.3" fill="#444" fill-opacity="0.55"/><circle cx="375.2" cy="80.6" r="0.3" fill="#444" fill-opacity="0.55"/><circle cx="305.4" cy="56.7" r="0.3" fill="#444" fill-opacity="0.55"/><circle cx="322.9" cy="58.5" r="0.3" fill="#444" fill-opacity="0.55"/><circle cx="340.3" cy="59.0" r="0.3" fill="#444" fill-opacity="0.55"/><circle cx="357.8" cy="57.3" r="0.3" fill="#444" fill-opacity="0.55"/><circle cx="375.2" cy="55.5" r="0.3" fill="#444" fill-opacity="0.55"/><circle cx="305.4" cy="74.3" r="0.3" fill="#444" fill-opacity="0.55"/><circle cx="322.9" cy="88.4" r="0.3" fill="#444" fill-opacity="0.55"/><circle cx="340.3" cy="91.4" r="0.3" fill="#444" fill-opacity="0.55"/><circle cx="357.8" cy="85.5" r="0.3" fill="#444" fill-opacity="0.55"/><circle cx="375.2" cy="74.2" r="0.3" fill="#444" fill-opacity="0.55"/><circle cx="305.4" cy="74.3" r="0.3" fill="#444" fill-opacity="0.55"/><circle cx="322.9" cy="89.5" r="0.3" fill="#444" fill-opacity="0.55"/><circle cx="340.3" cy="88.7" r="0.3" fill="#444" fill-opacity="0.55"/><circle cx="357.8" cy="79.6" r="0.3" fill="#444" fill-opacity="0.55"/><circle cx="375.2" cy="67.8" r="0.3" fill="#444" fill-opacity="0.55"/><circle cx="305.4" cy="83.5" r="0.3" fill="#444" fill-opacity="0.55"/><circle cx="322.9" cy="102.2" r="0.3" fill="#444" fill-opacity="0.55"/><circle cx="340.3" cy="109.0" r="0.3" fill="#444" fill-opacity="0.55"/><circle cx="357.8" cy="103.6" r="0.3" fill="#444" fill-opacity="0.55"/><circle cx="375.2" cy="86.9" r="0.3" fill="#444" fill-opacity="0.55"/><circle cx="305.4" cy="79.6" r="0.3" fill="#444" fill-opacity="0.55"/><circle cx="322.9" cy="104.4" r="0.3" fill="#444" fill-opacity="0.55"/><circle cx="340.3" cy="108.4" r="0.3" fill="#444" fill-opacity="0.55"/><circle cx="357.8" cy="101.5" r="0.3" fill="#444" fill-opacity="0.55"/><circle cx="375.2" cy="86.1" r="0.3" fill="#444" fill-opacity="0.55"/><circle cx="305.4" cy="65.3" r="0.3" fill="#444" fill-opacity="0.55"/><circle cx="322.9" cy="84.4" r="0.3" fill="#444" fill-opacity="0.55"/><circle cx="340.3" cy="84.3" r="0.3" fill="#444" fill-opacity="0.55"/><circle cx="357.8" cy="80.5" r="0.3" fill="#444" fill-opacity="0.55"/><circle cx="375.2" cy="64.1" r="0.3" fill="#444" fill-opacity="0.55"/><circle cx="305.4" cy="80.3" r="0.3" fill="#444" fill-opacity="0.55"/><circle cx="322.9" cy="95.5" r="0.3" fill="#444" fill-opacity="0.55"/><circle cx="340.3" cy="104.9" r="0.3" fill="#444" fill-opacity="0.55"/><circle cx="357.8" cy="93.7" r="0.3" fill="#444" fill-opacity="0.55"/><circle cx="375.2" cy="90.9" r="0.3" fill="#444" fill-opacity="0.55"/><circle cx="305.4" cy="82.7" r="0.3" fill="#444" fill-opacity="0.55"/><circle cx="322.9" cy="95.0" r="0.3" fill="#444" fill-opacity="0.55"/><circle cx="340.3" cy="94.1" r="0.3" fill="#444" fill-opacity="0.55"/><circle cx="357.8" cy="85.5" r="0.3" fill="#444" fill-opacity="0.55"/><circle cx="375.2" cy="73.1" r="0.3" fill="#444" fill-opacity="0.55"/><circle cx="305.4" cy="74.5" r="0.3" fill="#444" fill-opacity="0.55"/><circle cx="322.9" cy="83.9" r="0.3" fill="#444" fill-opacity="0.55"/><circle cx="340.3" cy="97.7" r="0.3" fill="#444" fill-opacity="0.55"/><circle cx="357.8" cy="96.8" r="0.3" fill="#444" fill-opacity="0.55"/><circle cx="375.2" cy="85.9" r="0.3" fill="#444" fill-opacity="0.55"/><circle cx="305.4" cy="57.0" r="0.3" fill="#444" fill-opacity="0.55"/><circle cx="322.9" cy="75.6" r="0.3" fill="#444" fill-opacity="0.55"/><circle cx="340.3" cy="73.2" r="0.3" fill="#444" fill-opacity="0.55"/><circle cx="357.8" cy="63.6" r="0.3" fill="#444" fill-opacity="0.55"/><circle cx="375.2" cy="53.5" r="0.3" fill="#444" fill-opacity="0.55"/><circle cx="305.4" cy="54.3" r="0.3" fill="#444" fill-opacity="0.55"/><circle cx="322.9" cy="69.9" r="0.3" fill="#444" fill-opacity="0.55"/><circle cx="340.3" cy="66.2" r="0.3" fill="#444" fill-opacity="0.55"/><circle cx="357.8" cy="63.5" r="0.3" fill="#444" fill-opacity="0.55"/><circle cx="375.2" cy="55.5" r="0.3" fill="#444" fill-opacity="0.55"/><circle cx="305.4" cy="66.1" r="0.3" fill="#444" fill-opacity="0.55"/><circle cx="322.9" cy="83.9" r="0.3" fill="#444" fill-opacity="0.55"/><circle cx="340.3" cy="88.6" r="0.3" fill="#444" fill-opacity="0.55"/><circle cx="357.8" cy="85.0" r="0.3" fill="#444" fill-opacity="0.55"/><circle cx="375.2" cy="64.8" r="0.3" fill="#444" fill-opacity="0.55"/><circle cx="305.4" cy="63.9" r="0.3" fill="#444" fill-opacity="0.55"/><circle cx="322.9" cy="74.6" r="0.3" fill="#444" fill-opacity="0.55"/><circle cx="340.3" cy="82.7" r="0.3" fill="#444" fill-opacity="0.55"/><circle cx="357.8" cy="77.0" r="0.3" fill="#444" fill-opacity="0.55"/><circle cx="375.2" cy="52.9" r="0.3" fill="#444" fill-opacity="0.55"/><circle cx="305.4" cy="69.9" r="0.3" fill="#444" fill-opacity="0.55"/><circle cx="322.9" cy="79.5" r="0.3" fill="#444" fill-opacity="0.55"/><circle cx="340.3" cy="74.0" r="0.3" fill="#444" fill-opacity="0.55"/><circle cx="357.8" cy="68.5" r="0.3" fill="#444" fill-opacity="0.55"/><circle cx="375.2" cy="62.6" r="0.3" fill="#444" fill-opacity="0.55"/><circle cx="305.4" cy="68.2" r="0.3" fill="#444" fill-opacity="0.55"/><circle cx="322.9" cy="89.4" r="0.3" fill="#444" fill-opacity="0.55"/><circle cx="340.3" cy="81.2" r="0.3" fill="#444" fill-opacity="0.55"/><circle cx="357.8" cy="71.2" r="0.3" fill="#444" fill-opacity="0.55"/><circle cx="375.2" cy="62.1" r="0.3" fill="#444" fill-opacity="0.55"/><circle cx="305.4" cy="74.8" r="0.3" fill="#444" fill-opacity="0.55"/><circle cx="322.9" cy="91.3" r="0.3" fill="#444" fill-opacity="0.55"/><circle cx="340.3" cy="93.9" r="0.3" fill="#444" fill-opacity="0.55"/><circle cx="357.8" cy="77.7" r="0.3" fill="#444" fill-opacity="0.55"/><circle cx="375.2" cy="62.6" r="0.3" fill="#444" fill-opacity="0.55"/><circle cx="305.4" cy="67.7" r="0.3" fill="#444" fill-opacity="0.55"/><circle cx="322.9" cy="67.3" r="0.3" fill="#444" fill-opacity="0.55"/><circle cx="340.3" cy="66.4" r="0.3" fill="#444" fill-opacity="0.55"/><circle cx="357.8" cy="67.5" r="0.3" fill="#444" fill-opacity="0.55"/><circle cx="375.2" cy="57.4" r="0.3" fill="#444" fill-opacity="0.55"/><circle cx="305.4" cy="79.4" r="0.3" fill="#444" fill-opacity="0.55"/><circle cx="322.9" cy="92.6" r="0.3" fill="#444" fill-opacity="0.55"/><circle cx="340.3" cy="87.9" r="0.3" fill="#444" fill-opacity="0.55"/><circle cx="357.8" cy="88.5" r="0.3" fill="#444" fill-opacity="0.55"/><circle cx="375.2" cy="62.8" r="0.3" fill="#444" fill-opacity="0.55"/><circle cx="305.4" cy="76.7" r="0.3" fill="#444" fill-opacity="0.55"/><circle cx="322.9" cy="88.9" r="0.3" fill="#444" fill-opacity="0.55"/><circle cx="340.3" cy="90.8" r="0.3" fill="#444" fill-opacity="0.55"/><circle cx="357.8" cy="88.3" r="0.3" fill="#444" fill-opacity="0.55"/><circle cx="375.2" cy="63.7" r="0.3" fill="#444" fill-opacity="0.55"/><circle cx="305.4" cy="62.2" r="0.3" fill="#444" fill-opacity="0.55"/><circle cx="322.9" cy="71.5" r="0.3" fill="#444" fill-opacity="0.55"/><circle cx="340.3" cy="66.3" r="0.3" fill="#444" fill-opacity="0.55"/><circle cx="357.8" cy="56.8" r="0.3" fill="#444" fill-opacity="0.55"/><circle cx="375.2" cy="49.7" r="0.3" fill="#444" fill-opacity="0.55"/><rect x="335.8" y="117.0" width="9" height="1.0" fill="#bdbdbd"/><rect x="304.6" y="115.6" width="1.6" height="0.8" fill="#c4c4c4"/><rect x="322.1" y="115.6" width="1.6" height="0.8" fill="#c4c4c4"/><rect x="339.5" y="115.6" width="1.6" height="0.8" fill="#c4c4c4"/><rect x="357.0" y="115.6" width="1.6" height="0.8" fill="#c4c4c4"/><rect x="374.4" y="115.6" width="1.6" height="0.8" fill="#c4c4c4"/><rect x="292.9" y="47.3" width="1.6" height="1.0" fill="#b0b0b0"/><rect x="292.9" y="59.8" width="1.6" height="1.0" fill="#b0b0b0"/><rect x="292.9" y="72.8" width="1.6" height="1.0" fill="#b0b0b0"/><rect x="292.9" y="85.9" width="1.6" height="1.0" fill="#b0b0b0"/><rect x="292.9" y="98.1" width="1.6" height="1.0" fill="#b0b0b0"/><rect x="292.9" y="109.8" width="1.6" height="1.0" fill="#b0b0b0"/><rect x="290.8" y="68.6" width="1.0" height="3.9" fill="#b8b8b8"/><rect x="388.6" y="74.7" width="11.6" height="1.0" fill="#a6a6a6"/><rect x="388.6" y="77.4" width="2.4" height="1.9" fill="#c8c8c8"/><rect x="388.9" y="77.7" width="1.8" height="1.3" fill="#e9a6b0"/><rect x="388.6" y="80.1" width="2.4" height="1.9" fill="#c8c8c8"/><rect x="388.9" y="80.4" width="1.8" height="1.3" fill="#6cc0b8"/><rect x="391.8" y="77.9" width="8.4" height="0.9" fill="#c2c2c2"/><rect x="391.8" y="80.6" width="9.4" height="0.9" fill="#c2c2c2"/><rect x="408.5" y="42.5" width="90.0" height="72.0" fill="#fff" stroke="#c4c4c4" stroke-width="0.7"/><polyline points="418.2,89.4 435.8,92.7 453.3,95.1 470.9,93.0 488.4,91.2" fill="none" stroke="#909090" stroke-width="0.42"/><polyline points="418.2,52.0 435.8,57.1 453.3,52.6 470.9,52.9 488.4,49.0" fill="none" stroke="#7e7e7e" stroke-width="0.42"/><polyline points="418.2,60.9 435.8,66.9 453.3,61.4 470.9,61.0 488.4,51.1" fill="none" stroke="#b4b4b4" stroke-width="0.42"/><polyline points="418.2,60.0 435.8,76.3 453.3,74.0 470.9,66.5 488.4,62.4" fill="none" stroke="#b4b4b4" stroke-width="0.42"/><polyline points="418.2,68.3 435.8,76.7 453.3,71.5 470.9,69.7 488.4,52.9" fill="none" stroke="#b4b4b4" stroke-width="0.42"/><polyline points="418.2,80.4 435.8,79.6 453.3,78.3 470.9,75.5 488.4,71.0" fill="none" stroke="#6c6c6c" stroke-width="0.42"/><polyline points="418.2,63.5 435.8,74.9 453.3,53.1 470.9,48.7 488.4,49.3" fill="none" stroke="#5a5a5a" stroke-width="0.42"/><polyline points="418.2,60.4 435.8,78.2 453.3,71.5 470.9,67.3 488.4,46.1" fill="none" stroke="#6c6c6c" stroke-width="0.42"/><polyline points="418.2,67.4 435.8,63.1 453.3,52.9 470.9,63.3 488.4,61.3" fill="none" stroke="#909090" stroke-width="0.42"/><polyline points="418.2,64.6 435.8,72.9 453.3,63.4 470.9,53.2 488.4,49.3" fill="none" stroke="#909090" stroke-width="0.42"/><polyline points="418.2,50.7 435.8,59.7 453.3,51.6 470.9,48.6 488.4,56.2" fill="none" stroke="#909090" stroke-width="0.42"/><polyline points="418.2,82.4 435.8,96.7 453.3,92.8 470.9,77.5 488.4,65.0" fill="none" stroke="#b4b4b4" stroke-width="0.42"/><polyline points="418.2,64.1 435.8,64.1 453.3,65.1 470.9,67.3 488.4,60.0" fill="none" stroke="#7e7e7e" stroke-width="0.42"/><polyline points="418.2,60.3 435.8,72.9 453.3,70.3 470.9,71.7 488.4,62.5" fill="none" stroke="#6c6c6c" stroke-width="0.42"/><polyline points="418.2,81.1 435.8,86.2 453.3,78.9 470.9,75.8 488.4,64.3" fill="none" stroke="#5a5a5a" stroke-width="0.42"/><polyline points="418.2,55.2 435.8,61.3 453.3,65.1 470.9,48.2 488.4,49.0" fill="none" stroke="#7e7e7e" stroke-width="0.42"/><polyline points="418.2,63.2 435.8,69.2 453.3,73.4 470.9,61.6 488.4,59.5" fill="none" stroke="#a2a2a2" stroke-width="0.42"/><polyline points="418.2,62.4 435.8,70.3 453.3,68.3 470.9,62.5 488.4,51.9" fill="none" stroke="#909090" stroke-width="0.42"/><polyline points="418.2,69.0 435.8,91.1 453.3,96.9 470.9,97.6 488.4,89.2" fill="none" stroke="#5a5a5a" stroke-width="0.42"/><polyline points="418.2,60.0 435.8,71.6 453.3,83.6 470.9,72.1 488.4,71.3" fill="none" stroke="#7e7e7e" stroke-width="0.42"/><polyline points="418.2,75.3 435.8,84.6 453.3,88.8 470.9,93.8 488.4,81.1" fill="none" stroke="#5a5a5a" stroke-width="0.42"/><polyline points="418.2,78.4 435.8,97.5 453.3,99.1 470.9,95.3 488.4,90.1" fill="none" stroke="#a2a2a2" stroke-width="0.42"/><polyline points="418.2,68.3 435.8,72.5 453.3,76.2 470.9,81.6 488.4,74.1" fill="none" stroke="#909090" stroke-width="0.42"/><polyline points="418.2,68.0 435.8,80.0 453.3,79.7 470.9,82.1 488.4,77.6" fill="none" stroke="#a2a2a2" stroke-width="0.42"/><polyline points="418.2,53.7 435.8,54.0 453.3,58.1 470.9,58.7 488.4,60.2" fill="none" stroke="#909090" stroke-width="0.42"/><polyline points="418.2,68.1 435.8,77.3 453.3,67.5 470.9,72.7 488.4,59.9" fill="none" stroke="#6c6c6c" stroke-width="0.42"/><polyline points="418.2,76.1 435.8,75.8 453.3,71.6 470.9,69.3 488.4,60.1" fill="none" stroke="#b4b4b4" stroke-width="0.42"/><polyline points="418.2,58.6 435.8,72.7 453.3,76.6 470.9,75.9 488.4,67.3" fill="none" stroke="#7e7e7e" stroke-width="0.42"/><polyline points="418.2,57.4 435.8,61.8 453.3,58.5 470.9,55.2 488.4,54.4" fill="none" stroke="#909090" stroke-width="0.42"/><polyline points="418.2,64.1 435.8,66.3 453.3,62.5 470.9,67.1 488.4,62.1" fill="none" stroke="#b4b4b4" stroke-width="0.42"/><polyline points="418.2,68.2 435.8,78.0 453.3,81.5 470.9,79.2 488.4,81.4" fill="none" stroke="#6c6c6c" stroke-width="0.42"/><polyline points="418.2,74.0 435.8,62.0 453.3,61.1 470.9,75.9 488.4,60.8" fill="none" stroke="#909090" stroke-width="0.42"/><polyline points="418.2,67.2 435.8,82.7 453.3,82.7 470.9,87.7 488.4,72.8" fill="none" stroke="#b4b4b4" stroke-width="0.42"/><polyline points="418.2,53.4 435.8,60.0 453.3,55.5 470.9,49.9 488.4,47.9" fill="none" stroke="#a2a2a2" stroke-width="0.42"/><polyline points="418.2,68.7 435.8,76.7 453.3,74.3 470.9,72.9 488.4,66.0" fill="none" stroke="#b4b4b4" stroke-width="0.42"/><polyline points="418.2,58.7 435.8,70.3 453.3,72.5 470.9,70.0 488.4,68.9" fill="none" stroke="#7e7e7e" stroke-width="0.42"/><polyline points="418.2,54.9 435.8,61.9 453.3,58.8 470.9,63.8 488.4,61.3" fill="none" stroke="#5a5a5a" stroke-width="0.42"/><polyline points="418.2,87.2 435.8,93.8 453.3,91.6 470.9,82.0 488.4,79.4" fill="none" stroke="#7e7e7e" stroke-width="0.42"/><polyline points="418.2,63.2 435.8,70.1 453.3,63.7 470.9,64.3 488.4,59.6" fill="none" stroke="#7e7e7e" stroke-width="0.42"/><polyline points="418.2,70.0 435.8,80.2 453.3,74.8 470.9,58.3 488.4,50.4" fill="none" stroke="#7e7e7e" stroke-width="0.42"/><polyline points="418.2,59.6 435.8,63.9 453.3,69.7 470.9,66.1 488.4,70.7" fill="none" stroke="#7e7e7e" stroke-width="0.42"/><polyline points="418.2,67.8 435.8,80.6 453.3,83.7 470.9,85.5 488.4,70.7" fill="none" stroke="#b4b4b4" stroke-width="0.42"/><polyline points="418.2,76.9 435.8,85.7 453.3,79.8 470.9,80.5 488.4,76.9" fill="none" stroke="#7e7e7e" stroke-width="0.42"/><polyline points="418.2,78.9 435.8,92.0 453.3,94.2 470.9,81.4 488.4,87.1" fill="none" stroke="#b4b4b4" stroke-width="0.42"/><polyline points="418.2,80.9 435.8,94.3 453.3,97.1 470.9,94.6 488.4,82.6" fill="none" stroke="#b4b4b4" stroke-width="0.42"/><polyline points="418.2,73.0 435.8,81.2 453.3,75.2 470.9,74.4 488.4,70.8" fill="none" stroke="#909090" stroke-width="0.42"/><polyline points="418.2,83.0 435.8,97.6 453.3,88.0 470.9,73.3 488.4,66.7" fill="none" stroke="#a2a2a2" stroke-width="0.42"/><polyline points="418.2,63.9 435.8,65.4 453.3,56.6 470.9,52.4 488.4,51.7" fill="none" stroke="#5a5a5a" stroke-width="0.42"/><polyline points="418.2,59.1 435.8,73.1 453.3,74.6 470.9,67.0 488.4,53.2" fill="none" stroke="#a2a2a2" stroke-width="0.42"/><polyline points="418.2,64.1 435.8,84.3 453.3,81.2 470.9,88.6 488.4,77.1" fill="none" stroke="#b4b4b4" stroke-width="0.42"/><polyline points="418.2,63.9 435.8,76.8 453.3,72.1 470.9,69.5 488.4,54.0" fill="none" stroke="#6c6c6c" stroke-width="0.42"/><polyline points="418.2,72.6 435.8,88.7 453.3,84.8 470.9,82.9 488.4,74.1" fill="none" stroke="#909090" stroke-width="0.42"/><polyline points="418.2,49.6 435.8,76.8 453.3,80.6 470.9,82.5 488.4,79.2" fill="none" stroke="#a2a2a2" stroke-width="0.42"/><polyline points="418.2,67.7 435.8,92.3 453.3,81.4 470.9,76.5 488.4,67.5" fill="none" stroke="#a2a2a2" stroke-width="0.42"/><polyline points="418.2,63.9 435.8,76.8 453.3,72.4 470.9,61.5 488.4,47.6" fill="none" stroke="#6c6c6c" stroke-width="0.42"/><polyline points="418.2,70.6 435.8,85.2 453.3,90.1 470.9,96.7 488.4,87.0" fill="none" stroke="#a2a2a2" stroke-width="0.42"/><polyline points="418.2,75.9 435.8,88.7 453.3,87.7 470.9,80.2 488.4,80.3" fill="none" stroke="#b4b4b4" stroke-width="0.42"/><polyline points="418.2,59.2 435.8,65.1 453.3,59.3 470.9,66.8 488.4,60.4" fill="none" stroke="#5a5a5a" stroke-width="0.42"/><polyline points="418.2,61.0 435.8,67.2 453.3,65.9 470.9,63.4 488.4,45.5" fill="none" stroke="#7e7e7e" stroke-width="0.42"/><polyline points="418.2,54.4 435.8,65.9 453.3,72.4 470.9,63.3 488.4,58.1" fill="none" stroke="#5a5a5a" stroke-width="0.42"/><polyline points="418.2,60.2 435.8,52.3 453.3,50.4 470.9,55.1 488.4,55.2" fill="none" stroke="#6c6c6c" stroke-width="0.42"/><polyline points="418.2,63.9 435.8,71.6 453.3,62.8 470.9,60.7 488.4,49.0" fill="none" stroke="#909090" stroke-width="0.42"/><polyline points="418.2,68.2 435.8,85.8 453.3,78.5 470.9,80.6 488.4,84.5" fill="none" stroke="#a2a2a2" stroke-width="0.42"/><polyline points="418.2,64.0 435.8,79.8 453.3,80.3 470.9,74.3 488.4,54.2" fill="none" stroke="#6c6c6c" stroke-width="0.42"/><polyline points="418.2,55.2 435.8,52.8 453.3,67.1 470.9,65.6 488.4,58.4" fill="none" stroke="#a2a2a2" stroke-width="0.42"/><polyline points="418.2,52.5 435.8,72.5 453.3,65.5 470.9,71.4 488.4,73.0" fill="none" stroke="#7e7e7e" stroke-width="0.42"/><polyline points="418.2,66.7 435.8,70.1 453.3,69.8 470.9,58.8 488.4,57.4" fill="none" stroke="#5a5a5a" stroke-width="0.42"/><polyline points="418.2,82.9 435.8,97.1 453.3,96.6 470.9,89.4 488.4,85.6" fill="none" stroke="#5a5a5a" stroke-width="0.42"/><polyline points="418.2,55.7 435.8,60.6 453.3,64.9 470.9,77.0 488.4,71.5" fill="none" stroke="#5a5a5a" stroke-width="0.42"/><polyline points="418.2,66.3 435.8,61.1 453.3,62.1 470.9,53.6 488.4,52.2" fill="none" stroke="#b4b4b4" stroke-width="0.42"/><polyline points="418.2,51.1 435.8,60.1 453.3,57.7 470.9,58.7 488.4,51.1" fill="none" stroke="#909090" stroke-width="0.42"/><polyline points="418.2,66.0 435.8,84.2 453.3,89.1 470.9,90.7 488.4,89.0" fill="none" stroke="#7e7e7e" stroke-width="0.42"/><polyline points="418.2,60.0 435.8,111.0 453.3,62.0 470.9,62.0 488.4,58.0" fill="none" stroke="#9a9a9a" stroke-width="0.5"/><polyline points="418.2,72.0 435.8,85.0 453.3,111.0 470.9,75.0 488.4,70.0" fill="none" stroke="#9a9a9a" stroke-width="0.5"/><polyline points="418.2,47.0 435.8,50.0 453.3,50.0 470.9,48.0 488.4,47.0" fill="none" stroke="#9a9a9a" stroke-width="0.5"/><polyline points="418.2,80.0 435.8,105.0 453.3,88.0 470.9,80.0 488.4,75.0" fill="none" stroke="#9a9a9a" stroke-width="0.5"/><polyline points="418.2,85.0 435.8,98.0 453.3,104.0 470.9,92.0 488.4,84.0" fill="none" stroke="#9a9a9a" stroke-width="0.5"/><polygon points="418.2,62.5 419.2,62.8 420.6,63.3 422.2,63.8 424.0,64.3 425.9,64.9 427.9,65.5 430.0,66.0 432.0,66.6 434.0,67.0 435.8,67.4 437.6,67.7 439.3,68.0 441.1,68.2 442.8,68.5 444.6,68.7 446.3,68.8 448.0,68.9 449.8,69.0 451.5,69.0 453.3,69.0 455.1,68.9 456.8,68.8 458.6,68.6 460.3,68.4 462.1,68.2 463.9,67.9 465.6,67.5 467.4,67.2 469.1,66.8 470.9,66.4 472.7,65.9 474.7,65.3 476.7,64.7 478.7,64.0 480.7,63.3 482.7,62.7 484.4,62.0 486.0,61.4 487.4,60.9 488.4,60.5 488.4,71.5 487.4,71.6 486.0,71.7 484.4,71.9 482.7,72.2 480.7,72.4 478.7,72.7 476.7,72.9 474.7,73.2 472.7,73.4 470.9,73.6 469.1,73.8 467.4,74.0 465.6,74.1 463.9,74.3 462.1,74.5 460.3,74.6 458.6,74.7 456.8,74.8 455.1,74.9 453.3,75.0 451.5,75.0 449.8,75.0 448.0,75.0 446.3,75.0 444.6,75.0 442.8,74.9 441.1,74.8 439.3,74.8 437.6,74.7 435.8,74.6 434.0,74.5 432.0,74.4 430.0,74.3 427.9,74.1 425.9,74.0 424.0,73.8 422.2,73.7 420.6,73.6 419.2,73.5 418.2,73.5" fill="#eeb4bd" fill-opacity="0.4"/><polyline points="418.2,68.0 419.2,68.2 420.6,68.4 422.2,68.7 424.0,69.1 425.9,69.4 427.9,69.8 430.0,70.2 432.0,70.5 434.0,70.8 435.8,71.0 437.6,71.2 439.3,71.4 441.1,71.5 442.8,71.7 444.6,71.8 446.3,71.9 448.0,72.0 449.8,72.0 451.5,72.0 453.3,72.0 455.1,71.9 456.8,71.8 458.6,71.7 460.3,71.5 462.1,71.3 463.9,71.1 465.6,70.8 467.4,70.6 469.1,70.3 470.9,70.0 472.7,69.7 474.7,69.3 476.7,68.8 478.7,68.4 480.7,67.9 482.7,67.4 484.4,67.0 486.0,66.6 487.4,66.2 488.4,66.0" fill="none" stroke="#d9707f" stroke-width="0.6" stroke-opacity="0.9"/><polygon points="418.2,64.0 419.2,64.4 420.6,65.0 422.2,65.7 424.0,66.5 425.9,67.3 427.9,68.0 430.0,68.8 432.0,69.5 434.0,70.1 435.8,70.6 437.6,71.0 439.3,71.4 441.1,71.8 442.8,72.1 444.6,72.3 446.3,72.6 448.0,72.7 449.8,72.8 451.5,72.8 453.3,72.8 455.1,72.7 456.8,72.5 458.6,72.3 460.3,72.0 462.1,71.6 463.9,71.2 465.6,70.8 467.4,70.2 469.1,69.7 470.9,69.1 472.7,68.4 474.7,67.6 476.7,66.7 478.7,65.7 480.7,64.7 482.7,63.6 484.4,62.7 486.0,61.8 487.4,61.1 488.4,60.5 488.4,70.5 487.4,70.7 486.0,71.1 484.4,71.5 482.7,72.0 480.7,72.5 478.7,73.0 476.7,73.5 474.7,74.1 472.7,74.5 470.9,74.9 469.1,75.2 467.4,75.5 465.6,75.8 463.9,76.1 462.1,76.4 460.3,76.6 458.6,76.8 456.8,77.0 455.1,77.1 453.3,77.2 451.5,77.3 449.8,77.3 448.0,77.2 446.3,77.2 444.6,77.1 442.8,77.0 441.1,76.9 439.3,76.7 437.6,76.6 435.8,76.4 434.0,76.2 432.0,76.0 430.0,75.7 427.9,75.4 425.9,75.1 424.0,74.8 422.2,74.5 420.6,74.3 419.2,74.1 418.2,74.0" fill="#6cc2b9" fill-opacity="0.62"/><polyline points="418.2,69.0 419.2,69.3 420.6,69.7 422.2,70.1 424.0,70.6 425.9,71.2 427.9,71.7 430.0,72.2 432.0,72.7 434.0,73.2 435.8,73.5 437.6,73.8 439.3,74.1 441.1,74.3 442.8,74.5 444.6,74.7 446.3,74.9 448.0,75.0 449.8,75.0 451.5,75.0 453.3,75.0 455.1,74.9 456.8,74.7 458.6,74.5 460.3,74.3 462.1,74.0 463.9,73.7 465.6,73.3 467.4,72.9 469.1,72.5 470.9,72.0 472.7,71.5 474.7,70.8 476.7,70.1 478.7,69.3 480.7,68.6 482.7,67.8 484.4,67.1 486.0,66.4 487.4,65.9 488.4,65.5" fill="none" stroke="#279a90" stroke-width="0.8" stroke-opacity="0.9"/><circle cx="418.2" cy="89.4" r="0.3" fill="#444" fill-opacity="0.55"/><circle cx="435.8" cy="92.7" r="0.3" fill="#444" fill-opacity="0.55"/><circle cx="453.3" cy="95.1" r="0.3" fill="#444" fill-opacity="0.55"/><circle cx="470.9" cy="93.0" r="0.3" fill="#444" fill-opacity="0.55"/><circle cx="488.4" cy="91.2" r="0.3" fill="#444" fill-opacity="0.55"/><circle cx="418.2" cy="52.0" r="0.3" fill="#444" fill-opacity="0.55"/><circle cx="435.8" cy="57.1" r="0.3" fill="#444" fill-opacity="0.55"/><circle cx="453.3" cy="52.6" r="0.3" fill="#444" fill-opacity="0.55"/><circle cx="470.9" cy="52.9" r="0.3" fill="#444" fill-opacity="0.55"/><circle cx="488.4" cy="49.0" r="0.3" fill="#444" fill-opacity="0.55"/><circle cx="418.2" cy="60.9" r="0.3" fill="#444" fill-opacity="0.55"/><circle cx="435.8" cy="66.9" r="0.3" fill="#444" fill-opacity="0.55"/><circle cx="453.3" cy="61.4" r="0.3" fill="#444" fill-opacity="0.55"/><circle cx="470.9" cy="61.0" r="0.3" fill="#444" fill-opacity="0.55"/><circle cx="488.4" cy="51.1" r="0.3" fill="#444" fill-opacity="0.55"/><circle cx="418.2" cy="60.0" r="0.3" fill="#444" fill-opacity="0.55"/><circle cx="435.8" cy="76.3" r="0.3" fill="#444" fill-opacity="0.55"/><circle cx="453.3" cy="74.0" r="0.3" fill="#444" fill-opacity="0.55"/><circle cx="470.9" cy="66.5" r="0.3" fill="#444" fill-opacity="0.55"/><circle cx="488.4" cy="62.4" r="0.3" fill="#444" fill-opacity="0.55"/><circle cx="418.2" cy="68.3" r="0.3" fill="#444" fill-opacity="0.55"/><circle cx="435.8" cy="76.7" r="0.3" fill="#444" fill-opacity="0.55"/><circle cx="453.3" cy="71.5" r="0.3" fill="#444" fill-opacity="0.55"/><circle cx="470.9" cy="69.7" r="0.3" fill="#444" fill-opacity="0.55"/><circle cx="488.4" cy="52.9" r="0.3" fill="#444" fill-opacity="0.55"/><circle cx="418.2" cy="80.4" r="0.3" fill="#444" fill-opacity="0.55"/><circle cx="435.8" cy="79.6" r="0.3" fill="#444" fill-opacity="0.55"/><circle cx="453.3" cy="78.3" r="0.3" fill="#444" fill-opacity="0.55"/><circle cx="470.9" cy="75.5" r="0.3" fill="#444" fill-opacity="0.55"/><circle cx="488.4" cy="71.0" r="0.3" fill="#444" fill-opacity="0.55"/><circle cx="418.2" cy="63.5" r="0.3" fill="#444" fill-opacity="0.55"/><circle cx="435.8" cy="74.9" r="0.3" fill="#444" fill-opacity="0.55"/><circle cx="453.3" cy="53.1" r="0.3" fill="#444" fill-opacity="0.55"/><circle cx="470.9" cy="48.7" r="0.3" fill="#444" fill-opacity="0.55"/><circle cx="488.4" cy="49.3" r="0.3" fill="#444" fill-opacity="0.55"/><circle cx="418.2" cy="60.4" r="0.3" fill="#444" fill-opacity="0.55"/><circle cx="435.8" cy="78.2" r="0.3" fill="#444" fill-opacity="0.55"/><circle cx="453.3" cy="71.5" r="0.3" fill="#444" fill-opacity="0.55"/><circle cx="470.9" cy="67.3" r="0.3" fill="#444" fill-opacity="0.55"/><circle cx="488.4" cy="46.1" r="0.3" fill="#444" fill-opacity="0.55"/><circle cx="418.2" cy="67.4" r="0.3" fill="#444" fill-opacity="0.55"/><circle cx="435.8" cy="63.1" r="0.3" fill="#444" fill-opacity="0.55"/><circle cx="453.3" cy="52.9" r="0.3" fill="#444" fill-opacity="0.55"/><circle cx="470.9" cy="63.3" r="0.3" fill="#444" fill-opacity="0.55"/><circle cx="488.4" cy="61.3" r="0.3" fill="#444" fill-opacity="0.55"/><circle cx="418.2" cy="64.6" r="0.3" fill="#444" fill-opacity="0.55"/><circle cx="435.8" cy="72.9" r="0.3" fill="#444" fill-opacity="0.55"/><circle cx="453.3" cy="63.4" r="0.3" fill="#444" fill-opacity="0.55"/><circle cx="470.9" cy="53.2" r="0.3" fill="#444" fill-opacity="0.55"/><circle cx="488.4" cy="49.3" r="0.3" fill="#444" fill-opacity="0.55"/><circle cx="418.2" cy="50.7" r="0.3" fill="#444" fill-opacity="0.55"/><circle cx="435.8" cy="59.7" r="0.3" fill="#444" fill-opacity="0.55"/><circle cx="453.3" cy="51.6" r="0.3" fill="#444" fill-opacity="0.55"/><circle cx="470.9" cy="48.6" r="0.3" fill="#444" fill-opacity="0.55"/><circle cx="488.4" cy="56.2" r="0.3" fill="#444" fill-opacity="0.55"/><circle cx="418.2" cy="82.4" r="0.3" fill="#444" fill-opacity="0.55"/><circle cx="435.8" cy="96.7" r="0.3" fill="#444" fill-opacity="0.55"/><circle cx="453.3" cy="92.8" r="0.3" fill="#444" fill-opacity="0.55"/><circle cx="470.9" cy="77.5" r="0.3" fill="#444" fill-opacity="0.55"/><circle cx="488.4" cy="65.0" r="0.3" fill="#444" fill-opacity="0.55"/><circle cx="418.2" cy="64.1" r="0.3" fill="#444" fill-opacity="0.55"/><circle cx="435.8" cy="64.1" r="0.3" fill="#444" fill-opacity="0.55"/><circle cx="453.3" cy="65.1" r="0.3" fill="#444" fill-opacity="0.55"/><circle cx="470.9" cy="67.3" r="0.3" fill="#444" fill-opacity="0.55"/><circle cx="488.4" cy="60.0" r="0.3" fill="#444" fill-opacity="0.55"/><circle cx="418.2" cy="60.3" r="0.3" fill="#444" fill-opacity="0.55"/><circle cx="435.8" cy="72.9" r="0.3" fill="#444" fill-opacity="0.55"/><circle cx="453.3" cy="70.3" r="0.3" fill="#444" fill-opacity="0.55"/><circle cx="470.9" cy="71.7" r="0.3" fill="#444" fill-opacity="0.55"/><circle cx="488.4" cy="62.5" r="0.3" fill="#444" fill-opacity="0.55"/><circle cx="418.2" cy="81.1" r="0.3" fill="#444" fill-opacity="0.55"/><circle cx="435.8" cy="86.2" r="0.3" fill="#444" fill-opacity="0.55"/><circle cx="453.3" cy="78.9" r="0.3" fill="#444" fill-opacity="0.55"/><circle cx="470.9" cy="75.8" r="0.3" fill="#444" fill-opacity="0.55"/><circle cx="488.4" cy="64.3" r="0.3" fill="#444" fill-opacity="0.55"/><circle cx="418.2" cy="55.2" r="0.3" fill="#444" fill-opacity="0.55"/><circle cx="435.8" cy="61.3" r="0.3" fill="#444" fill-opacity="0.55"/><circle cx="453.3" cy="65.1" r="0.3" fill="#444" fill-opacity="0.55"/><circle cx="470.9" cy="48.2" r="0.3" fill="#444" fill-opacity="0.55"/><circle cx="488.4" cy="49.0" r="0.3" fill="#444" fill-opacity="0.55"/><circle cx="418.2" cy="63.2" r="0.3" fill="#444" fill-opacity="0.55"/><circle cx="435.8" cy="69.2" r="0.3" fill="#444" fill-opacity="0.55"/><circle cx="453.3" cy="73.4" r="0.3" fill="#444" fill-opacity="0.55"/><circle cx="470.9" cy="61.6" r="0.3" fill="#444" fill-opacity="0.55"/><circle cx="488.4" cy="59.5" r="0.3" fill="#444" fill-opacity="0.55"/><circle cx="418.2" cy="62.4" r="0.3" fill="#444" fill-opacity="0.55"/><circle cx="435.8" cy="70.3" r="0.3" fill="#444" fill-opacity="0.55"/><circle cx="453.3" cy="68.3" r="0.3" fill="#444" fill-opacity="0.55"/><circle cx="470.9" cy="62.5" r="0.3" fill="#444" fill-opacity="0.55"/><circle cx="488.4" cy="51.9" r="0.3" fill="#444" fill-opacity="0.55"/><circle cx="418.2" cy="69.0" r="0.3" fill="#444" fill-opacity="0.55"/><circle cx="435.8" cy="91.1" r="0.3" fill="#444" fill-opacity="0.55"/><circle cx="453.3" cy="96.9" r="0.3" fill="#444" fill-opacity="0.55"/><circle cx="470.9" cy="97.6" r="0.3" fill="#444" fill-opacity="0.55"/><circle cx="488.4" cy="89.2" r="0.3" fill="#444" fill-opacity="0.55"/><circle cx="418.2" cy="60.0" r="0.3" fill="#444" fill-opacity="0.55"/><circle cx="435.8" cy="71.6" r="0.3" fill="#444" fill-opacity="0.55"/><circle cx="453.3" cy="83.6" r="0.3" fill="#444" fill-opacity="0.55"/><circle cx="470.9" cy="72.1" r="0.3" fill="#444" fill-opacity="0.55"/><circle cx="488.4" cy="71.3" r="0.3" fill="#444" fill-opacity="0.55"/><circle cx="418.2" cy="75.3" r="0.3" fill="#444" fill-opacity="0.55"/><circle cx="435.8" cy="84.6" r="0.3" fill="#444" fill-opacity="0.55"/><circle cx="453.3" cy="88.8" r="0.3" fill="#444" fill-opacity="0.55"/><circle cx="470.9" cy="93.8" r="0.3" fill="#444" fill-opacity="0.55"/><circle cx="488.4" cy="81.1" r="0.3" fill="#444" fill-opacity="0.55"/><circle cx="418.2" cy="78.4" r="0.3" fill="#444" fill-opacity="0.55"/><circle cx="435.8" cy="97.5" r="0.3" fill="#444" fill-opacity="0.55"/><circle cx="453.3" cy="99.1" r="0.3" fill="#444" fill-opacity="0.55"/><circle cx="470.9" cy="95.3" r="0.3" fill="#444" fill-opacity="0.55"/><circle cx="488.4" cy="90.1" r="0.3" fill="#444" fill-opacity="0.55"/><circle cx="418.2" cy="68.3" r="0.3" fill="#444" fill-opacity="0.55"/><circle cx="435.8" cy="72.5" r="0.3" fill="#444" fill-opacity="0.55"/><circle cx="453.3" cy="76.2" r="0.3" fill="#444" fill-opacity="0.55"/><circle cx="470.9" cy="81.6" r="0.3" fill="#444" fill-opacity="0.55"/><circle cx="488.4" cy="74.1" r="0.3" fill="#444" fill-opacity="0.55"/><circle cx="418.2" cy="68.0" r="0.3" fill="#444" fill-opacity="0.55"/><circle cx="435.8" cy="80.0" r="0.3" fill="#444" fill-opacity="0.55"/><circle cx="453.3" cy="79.7" r="0.3" fill="#444" fill-opacity="0.55"/><circle cx="470.9" cy="82.1" r="0.3" fill="#444" fill-opacity="0.55"/><circle cx="488.4" cy="77.6" r="0.3" fill="#444" fill-opacity="0.55"/><circle cx="418.2" cy="53.7" r="0.3" fill="#444" fill-opacity="0.55"/><circle cx="435.8" cy="54.0" r="0.3" fill="#444" fill-opacity="0.55"/><circle cx="453.3" cy="58.1" r="0.3" fill="#444" fill-opacity="0.55"/><circle cx="470.9" cy="58.7" r="0.3" fill="#444" fill-opacity="0.55"/><circle cx="488.4" cy="60.2" r="0.3" fill="#444" fill-opacity="0.55"/><circle cx="418.2" cy="68.1" r="0.3" fill="#444" fill-opacity="0.55"/><circle cx="435.8" cy="77.3" r="0.3" fill="#444" fill-opacity="0.55"/><circle cx="453.3" cy="67.5" r="0.3" fill="#444" fill-opacity="0.55"/><circle cx="470.9" cy="72.7" r="0.3" fill="#444" fill-opacity="0.55"/><circle cx="488.4" cy="59.9" r="0.3" fill="#444" fill-opacity="0.55"/><circle cx="418.2" cy="76.1" r="0.3" fill="#444" fill-opacity="0.55"/><circle cx="435.8" cy="75.8" r="0.3" fill="#444" fill-opacity="0.55"/><circle cx="453.3" cy="71.6" r="0.3" fill="#444" fill-opacity="0.55"/><circle cx="470.9" cy="69.3" r="0.3" fill="#444" fill-opacity="0.55"/><circle cx="488.4" cy="60.1" r="0.3" fill="#444" fill-opacity="0.55"/><circle cx="418.2" cy="58.6" r="0.3" fill="#444" fill-opacity="0.55"/><circle cx="435.8" cy="72.7" r="0.3" fill="#444" fill-opacity="0.55"/><circle cx="453.3" cy="76.6" r="0.3" fill="#444" fill-opacity="0.55"/><circle cx="470.9" cy="75.9" r="0.3" fill="#444" fill-opacity="0.55"/><circle cx="488.4" cy="67.3" r="0.3" fill="#444" fill-opacity="0.55"/><circle cx="418.2" cy="57.4" r="0.3" fill="#444" fill-opacity="0.55"/><circle cx="435.8" cy="61.8" r="0.3" fill="#444" fill-opacity="0.55"/><circle cx="453.3" cy="58.5" r="0.3" fill="#444" fill-opacity="0.55"/><circle cx="470.9" cy="55.2" r="0.3" fill="#444" fill-opacity="0.55"/><circle cx="488.4" cy="54.4" r="0.3" fill="#444" fill-opacity="0.55"/><circle cx="418.2" cy="64.1" r="0.3" fill="#444" fill-opacity="0.55"/><circle cx="435.8" cy="66.3" r="0.3" fill="#444" fill-opacity="0.55"/><circle cx="453.3" cy="62.5" r="0.3" fill="#444" fill-opacity="0.55"/><circle cx="470.9" cy="67.1" r="0.3" fill="#444" fill-opacity="0.55"/><circle cx="488.4" cy="62.1" r="0.3" fill="#444" fill-opacity="0.55"/><circle cx="418.2" cy="68.2" r="0.3" fill="#444" fill-opacity="0.55"/><circle cx="435.8" cy="78.0" r="0.3" fill="#444" fill-opacity="0.55"/><circle cx="453.3" cy="81.5" r="0.3" fill="#444" fill-opacity="0.55"/><circle cx="470.9" cy="79.2" r="0.3" fill="#444" fill-opacity="0.55"/><circle cx="488.4" cy="81.4" r="0.3" fill="#444" fill-opacity="0.55"/><circle cx="418.2" cy="74.0" r="0.3" fill="#444" fill-opacity="0.55"/><circle cx="435.8" cy="62.0" r="0.3" fill="#444" fill-opacity="0.55"/><circle cx="453.3" cy="61.1" r="0.3" fill="#444" fill-opacity="0.55"/><circle cx="470.9" cy="75.9" r="0.3" fill="#444" fill-opacity="0.55"/><circle cx="488.4" cy="60.8" r="0.3" fill="#444" fill-opacity="0.55"/><circle cx="418.2" cy="67.2" r="0.3" fill="#444" fill-opacity="0.55"/><circle cx="435.8" cy="82.7" r="0.3" fill="#444" fill-opacity="0.55"/><circle cx="453.3" cy="82.7" r="0.3" fill="#444" fill-opacity="0.55"/><circle cx="470.9" cy="87.7" r="0.3" fill="#444" fill-opacity="0.55"/><circle cx="488.4" cy="72.8" r="0.3" fill="#444" fill-opacity="0.55"/><circle cx="418.2" cy="53.4" r="0.3" fill="#444" fill-opacity="0.55"/><circle cx="435.8" cy="60.0" r="0.3" fill="#444" fill-opacity="0.55"/><circle cx="453.3" cy="55.5" r="0.3" fill="#444" fill-opacity="0.55"/><circle cx="470.9" cy="49.9" r="0.3" fill="#444" fill-opacity="0.55"/><circle cx="488.4" cy="47.9" r="0.3" fill="#444" fill-opacity="0.55"/><circle cx="418.2" cy="68.7" r="0.3" fill="#444" fill-opacity="0.55"/><circle cx="435.8" cy="76.7" r="0.3" fill="#444" fill-opacity="0.55"/><circle cx="453.3" cy="74.3" r="0.3" fill="#444" fill-opacity="0.55"/><circle cx="470.9" cy="72.9" r="0.3" fill="#444" fill-opacity="0.55"/><circle cx="488.4" cy="66.0" r="0.3" fill="#444" fill-opacity="0.55"/><circle cx="418.2" cy="58.7" r="0.3" fill="#444" fill-opacity="0.55"/><circle cx="435.8" cy="70.3" r="0.3" fill="#444" fill-opacity="0.55"/><circle cx="453.3" cy="72.5" r="0.3" fill="#444" fill-opacity="0.55"/><circle cx="470.9" cy="70.0" r="0.3" fill="#444" fill-opacity="0.55"/><circle cx="488.4" cy="68.9" r="0.3" fill="#444" fill-opacity="0.55"/><circle cx="418.2" cy="54.9" r="0.3" fill="#444" fill-opacity="0.55"/><circle cx="435.8" cy="61.9" r="0.3" fill="#444" fill-opacity="0.55"/><circle cx="453.3" cy="58.8" r="0.3" fill="#444" fill-opacity="0.55"/><circle cx="470.9" cy="63.8" r="0.3" fill="#444" fill-opacity="0.55"/><circle cx="488.4" cy="61.3" r="0.3" fill="#444" fill-opacity="0.55"/><circle cx="418.2" cy="87.2" r="0.3" fill="#444" fill-opacity="0.55"/><circle cx="435.8" cy="93.8" r="0.3" fill="#444" fill-opacity="0.55"/><circle cx="453.3" cy="91.6" r="0.3" fill="#444" fill-opacity="0.55"/><circle cx="470.9" cy="82.0" r="0.3" fill="#444" fill-opacity="0.55"/><circle cx="488.4" cy="79.4" r="0.3" fill="#444" fill-opacity="0.55"/><circle cx="418.2" cy="63.2" r="0.3" fill="#444" fill-opacity="0.55"/><circle cx="435.8" cy="70.1" r="0.3" fill="#444" fill-opacity="0.55"/><circle cx="453.3" cy="63.7" r="0.3" fill="#444" fill-opacity="0.55"/><circle cx="470.9" cy="64.3" r="0.3" fill="#444" fill-opacity="0.55"/><circle cx="488.4" cy="59.6" r="0.3" fill="#444" fill-opacity="0.55"/><circle cx="418.2" cy="70.0" r="0.3" fill="#444" fill-opacity="0.55"/><circle cx="435.8" cy="80.2" r="0.3" fill="#444" fill-opacity="0.55"/><circle cx="453.3" cy="74.8" r="0.3" fill="#444" fill-opacity="0.55"/><circle cx="470.9" cy="58.3" r="0.3" fill="#444" fill-opacity="0.55"/><circle cx="488.4" cy="50.4" r="0.3" fill="#444" fill-opacity="0.55"/><circle cx="418.2" cy="59.6" r="0.3" fill="#444" fill-opacity="0.55"/><circle cx="435.8" cy="63.9" r="0.3" fill="#444" fill-opacity="0.55"/><circle cx="453.3" cy="69.7" r="0.3" fill="#444" fill-opacity="0.55"/><circle cx="470.9" cy="66.1" r="0.3" fill="#444" fill-opacity="0.55"/><circle cx="488.4" cy="70.7" r="0.3" fill="#444" fill-opacity="0.55"/><circle cx="418.2" cy="67.8" r="0.3" fill="#444" fill-opacity="0.55"/><circle cx="435.8" cy="80.6" r="0.3" fill="#444" fill-opacity="0.55"/><circle cx="453.3" cy="83.7" r="0.3" fill="#444" fill-opacity="0.55"/><circle cx="470.9" cy="85.5" r="0.3" fill="#444" fill-opacity="0.55"/><circle cx="488.4" cy="70.7" r="0.3" fill="#444" fill-opacity="0.55"/><circle cx="418.2" cy="76.9" r="0.3" fill="#444" fill-opacity="0.55"/><circle cx="435.8" cy="85.7" r="0.3" fill="#444" fill-opacity="0.55"/><circle cx="453.3" cy="79.8" r="0.3" fill="#444" fill-opacity="0.55"/><circle cx="470.9" cy="80.5" r="0.3" fill="#444" fill-opacity="0.55"/><circle cx="488.4" cy="76.9" r="0.3" fill="#444" fill-opacity="0.55"/><circle cx="418.2" cy="78.9" r="0.3" fill="#444" fill-opacity="0.55"/><circle cx="435.8" cy="92.0" r="0.3" fill="#444" fill-opacity="0.55"/><circle cx="453.3" cy="94.2" r="0.3" fill="#444" fill-opacity="0.55"/><circle cx="470.9" cy="81.4" r="0.3" fill="#444" fill-opacity="0.55"/><circle cx="488.4" cy="87.1" r="0.3" fill="#444" fill-opacity="0.55"/><circle cx="418.2" cy="80.9" r="0.3" fill="#444" fill-opacity="0.55"/><circle cx="435.8" cy="94.3" r="0.3" fill="#444" fill-opacity="0.55"/><circle cx="453.3" cy="97.1" r="0.3" fill="#444" fill-opacity="0.55"/><circle cx="470.9" cy="94.6" r="0.3" fill="#444" fill-opacity="0.55"/><circle cx="488.4" cy="82.6" r="0.3" fill="#444" fill-opacity="0.55"/><circle cx="418.2" cy="73.0" r="0.3" fill="#444" fill-opacity="0.55"/><circle cx="435.8" cy="81.2" r="0.3" fill="#444" fill-opacity="0.55"/><circle cx="453.3" cy="75.2" r="0.3" fill="#444" fill-opacity="0.55"/><circle cx="470.9" cy="74.4" r="0.3" fill="#444" fill-opacity="0.55"/><circle cx="488.4" cy="70.8" r="0.3" fill="#444" fill-opacity="0.55"/><circle cx="418.2" cy="83.0" r="0.3" fill="#444" fill-opacity="0.55"/><circle cx="435.8" cy="97.6" r="0.3" fill="#444" fill-opacity="0.55"/><circle cx="453.3" cy="88.0" r="0.3" fill="#444" fill-opacity="0.55"/><circle cx="470.9" cy="73.3" r="0.3" fill="#444" fill-opacity="0.55"/><circle cx="488.4" cy="66.7" r="0.3" fill="#444" fill-opacity="0.55"/><circle cx="418.2" cy="63.9" r="0.3" fill="#444" fill-opacity="0.55"/><circle cx="435.8" cy="65.4" r="0.3" fill="#444" fill-opacity="0.55"/><circle cx="453.3" cy="56.6" r="0.3" fill="#444" fill-opacity="0.55"/><circle cx="470.9" cy="52.4" r="0.3" fill="#444" fill-opacity="0.55"/><circle cx="488.4" cy="51.7" r="0.3" fill="#444" fill-opacity="0.55"/><circle cx="418.2" cy="59.1" r="0.3" fill="#444" fill-opacity="0.55"/><circle cx="435.8" cy="73.1" r="0.3" fill="#444" fill-opacity="0.55"/><circle cx="453.3" cy="74.6" r="0.3" fill="#444" fill-opacity="0.55"/><circle cx="470.9" cy="67.0" r="0.3" fill="#444" fill-opacity="0.55"/><circle cx="488.4" cy="53.2" r="0.3" fill="#444" fill-opacity="0.55"/><circle cx="418.2" cy="64.1" r="0.3" fill="#444" fill-opacity="0.55"/><circle cx="435.8" cy="84.3" r="0.3" fill="#444" fill-opacity="0.55"/><circle cx="453.3" cy="81.2" r="0.3" fill="#444" fill-opacity="0.55"/><circle cx="470.9" cy="88.6" r="0.3" fill="#444" fill-opacity="0.55"/><circle cx="488.4" cy="77.1" r="0.3" fill="#444" fill-opacity="0.55"/><circle cx="418.2" cy="63.9" r="0.3" fill="#444" fill-opacity="0.55"/><circle cx="435.8" cy="76.8" r="0.3" fill="#444" fill-opacity="0.55"/><circle cx="453.3" cy="72.1" r="0.3" fill="#444" fill-opacity="0.55"/><circle cx="470.9" cy="69.5" r="0.3" fill="#444" fill-opacity="0.55"/><circle cx="488.4" cy="54.0" r="0.3" fill="#444" fill-opacity="0.55"/><circle cx="418.2" cy="72.6" r="0.3" fill="#444" fill-opacity="0.55"/><circle cx="435.8" cy="88.7" r="0.3" fill="#444" fill-opacity="0.55"/><circle cx="453.3" cy="84.8" r="0.3" fill="#444" fill-opacity="0.55"/><circle cx="470.9" cy="82.9" r="0.3" fill="#444" fill-opacity="0.55"/><circle cx="488.4" cy="74.1" r="0.3" fill="#444" fill-opacity="0.55"/><circle cx="418.2" cy="49.6" r="0.3" fill="#444" fill-opacity="0.55"/><circle cx="435.8" cy="76.8" r="0.3" fill="#444" fill-opacity="0.55"/><circle cx="453.3" cy="80.6" r="0.3" fill="#444" fill-opacity="0.55"/><circle cx="470.9" cy="82.5" r="0.3" fill="#444" fill-opacity="0.55"/><circle cx="488.4" cy="79.2" r="0.3" fill="#444" fill-opacity="0.55"/><circle cx="418.2" cy="67.7" r="0.3" fill="#444" fill-opacity="0.55"/><circle cx="435.8" cy="92.3" r="0.3" fill="#444" fill-opacity="0.55"/><circle cx="453.3" cy="81.4" r="0.3" fill="#444" fill-opacity="0.55"/><circle cx="470.9" cy="76.5" r="0.3" fill="#444" fill-opacity="0.55"/><circle cx="488.4" cy="67.5" r="0.3" fill="#444" fill-opacity="0.55"/><circle cx="418.2" cy="63.9" r="0.3" fill="#444" fill-opacity="0.55"/><circle cx="435.8" cy="76.8" r="0.3" fill="#444" fill-opacity="0.55"/><circle cx="453.3" cy="72.4" r="0.3" fill="#444" fill-opacity="0.55"/><circle cx="470.9" cy="61.5" r="0.3" fill="#444" fill-opacity="0.55"/><circle cx="488.4" cy="47.6" r="0.3" fill="#444" fill-opacity="0.55"/><circle cx="418.2" cy="70.6" r="0.3" fill="#444" fill-opacity="0.55"/><circle cx="435.8" cy="85.2" r="0.3" fill="#444" fill-opacity="0.55"/><circle cx="453.3" cy="90.1" r="0.3" fill="#444" fill-opacity="0.55"/><circle cx="470.9" cy="96.7" r="0.3" fill="#444" fill-opacity="0.55"/><circle cx="488.4" cy="87.0" r="0.3" fill="#444" fill-opacity="0.55"/><circle cx="418.2" cy="75.9" r="0.3" fill="#444" fill-opacity="0.55"/><circle cx="435.8" cy="88.7" r="0.3" fill="#444" fill-opacity="0.55"/><circle cx="453.3" cy="87.7" r="0.3" fill="#444" fill-opacity="0.55"/><circle cx="470.9" cy="80.2" r="0.3" fill="#444" fill-opacity="0.55"/><circle cx="488.4" cy="80.3" r="0.3" fill="#444" fill-opacity="0.55"/><circle cx="418.2" cy="59.2" r="0.3" fill="#444" fill-opacity="0.55"/><circle cx="435.8" cy="65.1" r="0.3" fill="#444" fill-opacity="0.55"/><circle cx="453.3" cy="59.3" r="0.3" fill="#444" fill-opacity="0.55"/><circle cx="470.9" cy="66.8" r="0.3" fill="#444" fill-opacity="0.55"/><circle cx="488.4" cy="60.4" r="0.3" fill="#444" fill-opacity="0.55"/><circle cx="418.2" cy="61.0" r="0.3" fill="#444" fill-opacity="0.55"/><circle cx="435.8" cy="67.2" r="0.3" fill="#444" fill-opacity="0.55"/><circle cx="453.3" cy="65.9" r="0.3" fill="#444" fill-opacity="0.55"/><circle cx="470.9" cy="63.4" r="0.3" fill="#444" fill-opacity="0.55"/><circle cx="488.4" cy="45.5" r="0.3" fill="#444" fill-opacity="0.55"/><circle cx="418.2" cy="54.4" r="0.3" fill="#444" fill-opacity="0.55"/><circle cx="435.8" cy="65.9" r="0.3" fill="#444" fill-opacity="0.55"/><circle cx="453.3" cy="72.4" r="0.3" fill="#444" fill-opacity="0.55"/><circle cx="470.9" cy="63.3" r="0.3" fill="#444" fill-opacity="0.55"/><circle cx="488.4" cy="58.1" r="0.3" fill="#444" fill-opacity="0.55"/><circle cx="418.2" cy="60.2" r="0.3" fill="#444" fill-opacity="0.55"/><circle cx="435.8" cy="52.3" r="0.3" fill="#444" fill-opacity="0.55"/><circle cx="453.3" cy="50.4" r="0.3" fill="#444" fill-opacity="0.55"/><circle cx="470.9" cy="55.1" r="0.3" fill="#444" fill-opacity="0.55"/><circle cx="488.4" cy="55.2" r="0.3" fill="#444" fill-opacity="0.55"/><circle cx="418.2" cy="63.9" r="0.3" fill="#444" fill-opacity="0.55"/><circle cx="435.8" cy="71.6" r="0.3" fill="#444" fill-opacity="0.55"/><circle cx="453.3" cy="62.8" r="0.3" fill="#444" fill-opacity="0.55"/><circle cx="470.9" cy="60.7" r="0.3" fill="#444" fill-opacity="0.55"/><circle cx="488.4" cy="49.0" r="0.3" fill="#444" fill-opacity="0.55"/><circle cx="418.2" cy="68.2" r="0.3" fill="#444" fill-opacity="0.55"/><circle cx="435.8" cy="85.8" r="0.3" fill="#444" fill-opacity="0.55"/><circle cx="453.3" cy="78.5" r="0.3" fill="#444" fill-opacity="0.55"/><circle cx="470.9" cy="80.6" r="0.3" fill="#444" fill-opacity="0.55"/><circle cx="488.4" cy="84.5" r="0.3" fill="#444" fill-opacity="0.55"/><circle cx="418.2" cy="64.0" r="0.3" fill="#444" fill-opacity="0.55"/><circle cx="435.8" cy="79.8" r="0.3" fill="#444" fill-opacity="0.55"/><circle cx="453.3" cy="80.3" r="0.3" fill="#444" fill-opacity="0.55"/><circle cx="470.9" cy="74.3" r="0.3" fill="#444" fill-opacity="0.55"/><circle cx="488.4" cy="54.2" r="0.3" fill="#444" fill-opacity="0.55"/><circle cx="418.2" cy="55.2" r="0.3" fill="#444" fill-opacity="0.55"/><circle cx="435.8" cy="52.8" r="0.3" fill="#444" fill-opacity="0.55"/><circle cx="453.3" cy="67.1" r="0.3" fill="#444" fill-opacity="0.55"/><circle cx="470.9" cy="65.6" r="0.3" fill="#444" fill-opacity="0.55"/><circle cx="488.4" cy="58.4" r="0.3" fill="#444" fill-opacity="0.55"/><circle cx="418.2" cy="52.5" r="0.3" fill="#444" fill-opacity="0.55"/><circle cx="435.8" cy="72.5" r="0.3" fill="#444" fill-opacity="0.55"/><circle cx="453.3" cy="65.5" r="0.3" fill="#444" fill-opacity="0.55"/><circle cx="470.9" cy="71.4" r="0.3" fill="#444" fill-opacity="0.55"/><circle cx="488.4" cy="73.0" r="0.3" fill="#444" fill-opacity="0.55"/><circle cx="418.2" cy="66.7" r="0.3" fill="#444" fill-opacity="0.55"/><circle cx="435.8" cy="70.1" r="0.3" fill="#444" fill-opacity="0.55"/><circle cx="453.3" cy="69.8" r="0.3" fill="#444" fill-opacity="0.55"/><circle cx="470.9" cy="58.8" r="0.3" fill="#444" fill-opacity="0.55"/><circle cx="488.4" cy="57.4" r="0.3" fill="#444" fill-opacity="0.55"/><circle cx="418.2" cy="82.9" r="0.3" fill="#444" fill-opacity="0.55"/><circle cx="435.8" cy="97.1" r="0.3" fill="#444" fill-opacity="0.55"/><circle cx="453.3" cy="96.6" r="0.3" fill="#444" fill-opacity="0.55"/><circle cx="470.9" cy="89.4" r="0.3" fill="#444" fill-opacity="0.55"/><circle cx="488.4" cy="85.6" r="0.3" fill="#444" fill-opacity="0.55"/><circle cx="418.2" cy="55.7" r="0.3" fill="#444" fill-opacity="0.55"/><circle cx="435.8" cy="60.6" r="0.3" fill="#444" fill-opacity="0.55"/><circle cx="453.3" cy="64.9" r="0.3" fill="#444" fill-opacity="0.55"/><circle cx="470.9" cy="77.0" r="0.3" fill="#444" fill-opacity="0.55"/><circle cx="488.4" cy="71.5" r="0.3" fill="#444" fill-opacity="0.55"/><circle cx="418.2" cy="66.3" r="0.3" fill="#444" fill-opacity="0.55"/><circle cx="435.8" cy="61.1" r="0.3" fill="#444" fill-opacity="0.55"/><circle cx="453.3" cy="62.1" r="0.3" fill="#444" fill-opacity="0.55"/><circle cx="470.9" cy="53.6" r="0.3" fill="#444" fill-opacity="0.55"/><circle cx="488.4" cy="52.2" r="0.3" fill="#444" fill-opacity="0.55"/><circle cx="418.2" cy="51.1" r="0.3" fill="#444" fill-opacity="0.55"/><circle cx="435.8" cy="60.1" r="0.3" fill="#444" fill-opacity="0.55"/><circle cx="453.3" cy="57.7" r="0.3" fill="#444" fill-opacity="0.55"/><circle cx="470.9" cy="58.7" r="0.3" fill="#444" fill-opacity="0.55"/><circle cx="488.4" cy="51.1" r="0.3" fill="#444" fill-opacity="0.55"/><circle cx="418.2" cy="66.0" r="0.3" fill="#444" fill-opacity="0.55"/><circle cx="435.8" cy="84.2" r="0.3" fill="#444" fill-opacity="0.55"/><circle cx="453.3" cy="89.1" r="0.3" fill="#444" fill-opacity="0.55"/><circle cx="470.9" cy="90.7" r="0.3" fill="#444" fill-opacity="0.55"/><circle cx="488.4" cy="89.0" r="0.3" fill="#444" fill-opacity="0.55"/><rect x="448.8" y="117.0" width="9" height="1.0" fill="#bdbdbd"/><rect x="417.4" y="115.6" width="1.6" height="0.8" fill="#c4c4c4"/><rect x="435.0" y="115.6" width="1.6" height="0.8" fill="#c4c4c4"/><rect x="452.5" y="115.6" width="1.6" height="0.8" fill="#c4c4c4"/><rect x="470.1" y="115.6" width="1.6" height="0.8" fill="#c4c4c4"/><rect x="487.6" y="115.6" width="1.6" height="0.8" fill="#c4c4c4"/><rect x="405.7" y="44.0" width="1.6" height="1.0" fill="#b0b0b0"/><rect x="405.7" y="68.0" width="1.6" height="1.0" fill="#b0b0b0"/><rect x="405.7" y="92.1" width="1.6" height="1.0" fill="#b0b0b0"/><rect x="403.4" y="72.4" width="1.0" height="11.7" fill="#b8b8b8"/><rect x="501.0" y="74.4" width="11.2" height="1.0" fill="#a6a6a6"/><rect x="501.0" y="77.1" width="2.4" height="1.9" fill="#c8c8c8"/><rect x="501.3" y="77.4" width="1.8" height="1.3" fill="#e9a6b0"/><rect x="501.0" y="79.8" width="2.4" height="1.9" fill="#c8c8c8"/><rect x="501.3" y="80.1" width="1.8" height="1.3" fill="#6cc0b8"/><rect x="504.2" y="77.6" width="7.8" height="0.9" fill="#c2c2c2"/><rect x="504.2" y="80.3" width="8.8" height="0.9" fill="#c2c2c2"/><rect x="294.5" y="129.5" width="92.0" height="73.0" fill="#fff" stroke="#c4c4c4" stroke-width="0.7"/><polyline points="305.6,163.3 323.1,185.8 340.5,180.4 358.0,184.4 375.4,168.8" fill="none" stroke="#909090" stroke-width="0.42"/><polyline points="305.6,158.3 323.1,187.3 340.5,191.8 358.0,186.4 375.4,180.7" fill="none" stroke="#b4b4b4" stroke-width="0.42"/><polyline points="305.6,177.8 323.1,187.5 340.5,195.8 358.0,182.0 375.4,165.3" fill="none" stroke="#5a5a5a" stroke-width="0.42"/><polyline points="305.6,155.9 323.1,152.5 340.5,142.0 358.0,149.7 375.4,134.3" fill="none" stroke="#909090" stroke-width="0.42"/><polyline points="305.6,159.6 323.1,166.4 340.5,170.0 358.0,153.0 375.4,139.2" fill="none" stroke="#b4b4b4" stroke-width="0.42"/><polyline points="305.6,165.3 323.1,182.8 340.5,178.2 358.0,169.6 375.4,136.5" fill="none" stroke="#5a5a5a" stroke-width="0.42"/><polyline points="305.6,154.9 323.1,143.0 340.5,146.8 358.0,151.7 375.4,145.3" fill="none" stroke="#909090" stroke-width="0.42"/><polyline points="305.6,173.2 323.1,186.5 340.5,186.6 358.0,185.8 375.4,178.1" fill="none" stroke="#6c6c6c" stroke-width="0.42"/><polyline points="305.6,176.6 323.1,184.3 340.5,182.0 358.0,171.6 375.4,148.7" fill="none" stroke="#6c6c6c" stroke-width="0.42"/><polyline points="305.6,161.4 323.1,163.5 340.5,176.1 358.0,154.3 375.4,131.6" fill="none" stroke="#b4b4b4" stroke-width="0.42"/><polyline points="305.6,148.7 323.1,137.7 340.5,157.8 358.0,140.8 375.4,137.0" fill="none" stroke="#b4b4b4" stroke-width="0.42"/><polyline points="305.6,154.6 323.1,181.2 340.5,166.3 358.0,171.0 375.4,150.7" fill="none" stroke="#b4b4b4" stroke-width="0.42"/><polyline points="305.6,159.8 323.1,163.1 340.5,171.9 358.0,156.6 375.4,142.9" fill="none" stroke="#5a5a5a" stroke-width="0.42"/><polyline points="305.6,166.9 323.1,195.4 340.5,176.7 358.0,185.4 375.4,181.9" fill="none" stroke="#6c6c6c" stroke-width="0.42"/><polyline points="305.6,155.2 323.1,168.3 340.5,167.1 358.0,176.9 375.4,166.0" fill="none" stroke="#7e7e7e" stroke-width="0.42"/><polyline points="305.6,159.0 323.1,166.7 340.5,167.9 358.0,161.3 375.4,139.5" fill="none" stroke="#6c6c6c" stroke-width="0.42"/><polyline points="305.6,190.8 323.1,181.7 340.5,152.3 358.0,146.1 375.4,131.7" fill="none" stroke="#6c6c6c" stroke-width="0.42"/><polyline points="305.6,167.2 323.1,175.2 340.5,176.8 358.0,174.8 375.4,171.5" fill="none" stroke="#7e7e7e" stroke-width="0.42"/><polyline points="305.6,155.7 323.1,162.0 340.5,182.5 358.0,182.2 375.4,159.4" fill="none" stroke="#6c6c6c" stroke-width="0.42"/><polyline points="305.6,189.5 323.1,192.8 340.5,190.5 358.0,174.9 375.4,164.9" fill="none" stroke="#6c6c6c" stroke-width="0.42"/><polyline points="305.6,150.3 323.1,149.8 340.5,141.1 358.0,140.4 375.4,138.5" fill="none" stroke="#a2a2a2" stroke-width="0.42"/><polyline points="305.6,155.9 323.1,151.4 340.5,160.5 358.0,156.0 375.4,151.5" fill="none" stroke="#b4b4b4" stroke-width="0.42"/><polyline points="305.6,178.8 323.1,187.1 340.5,188.8 358.0,183.4 375.4,159.1" fill="none" stroke="#b4b4b4" stroke-width="0.42"/><polyline points="305.6,171.4 323.1,195.1 340.5,199.7 358.0,192.5 375.4,176.9" fill="none" stroke="#5a5a5a" stroke-width="0.42"/><polyline points="305.6,151.1 323.1,153.0 340.5,152.4 358.0,139.8 375.4,139.5" fill="none" stroke="#7e7e7e" stroke-width="0.42"/><polyline points="305.6,139.9 323.1,153.4 340.5,156.9 358.0,141.5 375.4,156.5" fill="none" stroke="#6c6c6c" stroke-width="0.42"/><polyline points="305.6,161.9 323.1,182.9 340.5,179.3 358.0,170.0 375.4,151.3" fill="none" stroke="#5a5a5a" stroke-width="0.42"/><polyline points="305.6,171.1 323.1,172.0 340.5,183.9 358.0,176.1 375.4,172.4" fill="none" stroke="#7e7e7e" stroke-width="0.42"/><polyline points="305.6,162.5 323.1,170.1 340.5,159.8 358.0,148.7 375.4,133.0" fill="none" stroke="#6c6c6c" stroke-width="0.42"/><polyline points="305.6,171.2 323.1,183.7 340.5,180.4 358.0,179.1 375.4,176.0" fill="none" stroke="#909090" stroke-width="0.42"/><polyline points="305.6,159.9 323.1,165.5 340.5,165.0 358.0,167.3 375.4,159.7" fill="none" stroke="#5a5a5a" stroke-width="0.42"/><polyline points="305.6,149.0 323.1,162.7 340.5,161.4 358.0,149.7 375.4,149.0" fill="none" stroke="#b4b4b4" stroke-width="0.42"/><polyline points="305.6,173.5 323.1,176.2 340.5,180.0 358.0,179.5 375.4,160.1" fill="none" stroke="#5a5a5a" stroke-width="0.42"/><polyline points="305.6,160.3 323.1,177.0 340.5,163.9 358.0,161.8 375.4,156.2" fill="none" stroke="#5a5a5a" stroke-width="0.42"/><polyline points="305.6,169.1 323.1,165.6 340.5,171.5 358.0,158.7 375.4,151.4" fill="none" stroke="#5a5a5a" stroke-width="0.42"/><polyline points="305.6,170.5 323.1,182.6 340.5,178.7 358.0,168.4 375.4,164.0" fill="none" stroke="#7e7e7e" stroke-width="0.42"/><polyline points="305.6,149.4 323.1,164.4 340.5,172.0 358.0,164.5 375.4,175.4" fill="none" stroke="#7e7e7e" stroke-width="0.42"/><polyline points="305.6,163.0 323.1,194.4 340.5,179.3 358.0,154.1 375.4,150.9" fill="none" stroke="#5a5a5a" stroke-width="0.42"/><polyline points="305.6,170.9 323.1,177.8 340.5,180.3 358.0,158.2 375.4,138.9" fill="none" stroke="#7e7e7e" stroke-width="0.42"/><polyline points="305.6,147.5 323.1,155.3 340.5,166.3 358.0,161.8 375.4,152.5" fill="none" stroke="#909090" stroke-width="0.42"/><polyline points="305.6,152.2 323.1,157.9 340.5,161.9 358.0,154.3 375.4,154.0" fill="none" stroke="#a2a2a2" stroke-width="0.42"/><polyline points="305.6,149.7 323.1,178.6 340.5,172.8 358.0,177.4 375.4,156.6" fill="none" stroke="#b4b4b4" stroke-width="0.42"/><polyline points="305.6,185.1 323.1,196.4 340.5,197.0 358.0,197.3 375.4,178.0" fill="none" stroke="#b4b4b4" stroke-width="0.42"/><polyline points="305.6,147.4 323.1,137.1 340.5,151.1 358.0,139.9 375.4,141.1" fill="none" stroke="#7e7e7e" stroke-width="0.42"/><polyline points="305.6,161.6 323.1,191.5 340.5,178.9 358.0,176.1 375.4,159.2" fill="none" stroke="#5a5a5a" stroke-width="0.42"/><polyline points="305.6,169.4 323.1,161.5 340.5,160.9 358.0,163.4 375.4,166.0" fill="none" stroke="#5a5a5a" stroke-width="0.42"/><polyline points="305.6,184.4 323.1,185.8 340.5,189.3 358.0,183.3 375.4,156.5" fill="none" stroke="#7e7e7e" stroke-width="0.42"/><polyline points="305.6,141.8 323.1,159.4 340.5,164.6 358.0,158.3 375.4,157.5" fill="none" stroke="#7e7e7e" stroke-width="0.42"/><polyline points="305.6,148.0 323.1,163.2 340.5,166.3 358.0,160.8 375.4,152.7" fill="none" stroke="#909090" stroke-width="0.42"/><polyline points="305.6,164.5 323.1,177.1 340.5,182.5 358.0,195.0 375.4,178.9" fill="none" stroke="#909090" stroke-width="0.42"/><polyline points="305.6,176.2 323.1,192.3 340.5,192.1 358.0,194.3 375.4,172.7" fill="none" stroke="#909090" stroke-width="0.42"/><polyline points="305.6,178.2 323.1,180.2 340.5,178.7 358.0,176.7 375.4,172.0" fill="none" stroke="#5a5a5a" stroke-width="0.42"/><polyline points="305.6,174.7 323.1,193.6 340.5,194.8 358.0,181.2 375.4,173.7" fill="none" stroke="#6c6c6c" stroke-width="0.42"/><polyline points="305.6,166.2 323.1,166.7 340.5,178.5 358.0,175.3 375.4,152.7" fill="none" stroke="#b4b4b4" stroke-width="0.42"/><polyline points="305.6,168.2 323.1,164.9 340.5,160.0 358.0,158.6 375.4,131.9" fill="none" stroke="#a2a2a2" stroke-width="0.42"/><polyline points="305.6,162.5 323.1,159.0 340.5,168.6 358.0,157.1 375.4,145.9" fill="none" stroke="#b4b4b4" stroke-width="0.42"/><polyline points="305.6,141.0 323.1,147.5 340.5,159.0 358.0,158.2 375.4,135.2" fill="none" stroke="#909090" stroke-width="0.42"/><polyline points="305.6,174.9 323.1,193.9 340.5,193.5 358.0,194.8 375.4,171.2" fill="none" stroke="#909090" stroke-width="0.42"/><polyline points="305.6,160.8 323.1,181.9 340.5,196.7 358.0,192.7 375.4,168.8" fill="none" stroke="#6c6c6c" stroke-width="0.42"/><polyline points="305.6,137.1 323.1,151.0 340.5,141.1 358.0,137.1 375.4,150.7" fill="none" stroke="#a2a2a2" stroke-width="0.42"/><polyline points="305.6,176.9 323.1,194.9 340.5,197.1 358.0,192.3 375.4,179.7" fill="none" stroke="#7e7e7e" stroke-width="0.42"/><polyline points="305.6,157.8 323.1,171.7 340.5,176.9 358.0,176.0 375.4,158.8" fill="none" stroke="#5a5a5a" stroke-width="0.42"/><polyline points="305.6,188.6 323.1,198.6 340.5,185.9 358.0,192.8 375.4,171.0" fill="none" stroke="#7e7e7e" stroke-width="0.42"/><polyline points="305.6,138.4 323.1,161.0 340.5,160.5 358.0,156.2 375.4,140.6" fill="none" stroke="#5a5a5a" stroke-width="0.42"/><polyline points="305.6,163.8 323.1,161.9 340.5,164.0 358.0,154.8 375.4,141.7" fill="none" stroke="#b4b4b4" stroke-width="0.42"/><polyline points="305.6,132.7 323.1,150.9 340.5,156.9 358.0,136.3 375.4,146.0" fill="none" stroke="#909090" stroke-width="0.42"/><polyline points="305.6,162.4 323.1,178.7 340.5,181.7 358.0,189.2 375.4,176.4" fill="none" stroke="#5a5a5a" stroke-width="0.42"/><polyline points="305.6,148.0 323.1,151.2 340.5,160.9 358.0,150.4 375.4,145.8" fill="none" stroke="#909090" stroke-width="0.42"/><polyline points="305.6,176.3 323.1,192.2 340.5,195.7 358.0,189.1 375.4,176.0" fill="none" stroke="#a2a2a2" stroke-width="0.42"/><polyline points="305.6,153.7 323.1,157.6 340.5,146.5 358.0,136.5 375.4,149.2" fill="none" stroke="#7e7e7e" stroke-width="0.42"/><polyline points="305.6,142.0 323.1,153.5 340.5,160.6 358.0,152.5 375.4,153.2" fill="none" stroke="#5a5a5a" stroke-width="0.42"/><polyline points="305.6,175.2 323.1,195.6 340.5,193.2 358.0,174.8 375.4,167.3" fill="none" stroke="#a2a2a2" stroke-width="0.42"/><polyline points="305.6,166.3 323.1,183.6 340.5,190.3 358.0,196.7 375.4,180.8" fill="none" stroke="#b4b4b4" stroke-width="0.42"/><polyline points="305.6,171.3 323.1,172.4 340.5,154.6 358.0,145.6 375.4,147.6" fill="none" stroke="#7e7e7e" stroke-width="0.42"/><polyline points="305.6,138.5 323.1,158.7 340.5,155.6 358.0,147.0 375.4,134.4" fill="none" stroke="#b4b4b4" stroke-width="0.42"/><polyline points="305.6,165.0 323.1,165.2 340.5,169.4 358.0,168.4 375.4,163.7" fill="none" stroke="#7e7e7e" stroke-width="0.42"/><polyline points="305.6,151.4 323.1,177.0 340.5,197.1 358.0,182.1 375.4,155.7" fill="none" stroke="#909090" stroke-width="0.42"/><polyline points="305.6,164.4 323.1,155.8 340.5,162.2 358.0,162.2 375.4,137.7" fill="none" stroke="#7e7e7e" stroke-width="0.42"/><polyline points="305.6,133.0 323.1,140.0 340.5,150.0 358.0,160.0 375.4,132.0" fill="none" stroke="#9a9a9a" stroke-width="0.5"/><polyline points="305.6,140.0 323.1,198.0 340.5,190.0 358.0,185.0 375.4,170.0" fill="none" stroke="#9a9a9a" stroke-width="0.5"/><polygon points="305.6,156.0 306.6,156.7 308.0,157.6 309.6,158.6 311.3,159.7 313.3,160.9 315.3,162.1 317.3,163.3 319.3,164.3 321.3,165.3 323.1,166.0 324.8,166.6 326.6,167.2 328.3,167.7 330.1,168.1 331.8,168.4 333.5,168.7 335.3,168.9 337.0,169.0 338.8,169.1 340.5,169.0 342.2,168.9 344.0,168.6 345.7,168.3 347.5,167.9 349.3,167.4 351.0,166.8 352.8,166.2 354.5,165.5 356.3,164.8 358.0,164.0 359.8,163.1 361.8,162.0 363.8,160.9 365.8,159.6 367.8,158.3 369.7,157.0 371.5,155.8 373.0,154.7 374.4,153.7 375.4,153.0 375.4,165.0 374.4,165.3 373.0,165.6 371.5,166.1 369.7,166.6 367.8,167.2 365.8,167.8 363.8,168.4 361.8,169.0 359.8,169.6 358.0,170.0 356.3,170.4 354.5,170.8 352.8,171.2 351.0,171.5 349.3,171.9 347.5,172.2 345.7,172.5 344.0,172.7 342.2,172.9 340.5,173.0 338.8,173.1 337.0,173.1 335.3,173.1 333.5,173.0 331.8,172.9 330.1,172.8 328.3,172.6 326.6,172.5 324.8,172.2 323.1,172.0 321.3,171.7 319.3,171.3 317.3,170.8 315.3,170.3 313.3,169.8 311.3,169.3 309.6,168.9 308.0,168.5 306.6,168.2 305.6,168.0" fill="#eeb4bd" fill-opacity="0.4"/><polyline points="305.6,162.0 306.6,162.4 308.0,163.0 309.6,163.7 311.3,164.5 313.3,165.4 315.3,166.2 317.3,167.0 319.3,167.8 321.3,168.5 323.1,169.0 324.8,169.4 326.6,169.8 328.3,170.2 330.1,170.4 331.8,170.7 333.5,170.9 335.3,171.0 337.0,171.1 338.8,171.1 340.5,171.0 342.2,170.9 344.0,170.6 345.7,170.4 347.5,170.0 349.3,169.6 351.0,169.2 352.8,168.7 354.5,168.2 356.3,167.6 358.0,167.0 359.8,166.3 361.8,165.5 363.8,164.6 365.8,163.7 367.8,162.8 369.7,161.8 371.5,160.9 373.0,160.2 374.4,159.5 375.4,159.0" fill="none" stroke="#d9707f" stroke-width="0.6" stroke-opacity="0.9"/><polygon points="305.6,158.5 306.6,159.3 308.0,160.2 309.6,161.4 311.3,162.7 313.3,164.0 315.3,165.3 317.3,166.6 319.3,167.8 321.3,168.9 323.1,169.7 324.8,170.5 326.6,171.2 328.3,171.8 330.1,172.4 331.8,172.9 333.5,173.3 335.3,173.6 337.0,173.8 338.8,173.9 340.5,173.8 342.2,173.6 344.0,173.2 345.7,172.7 347.5,172.1 349.3,171.3 351.0,170.5 352.8,169.6 354.5,168.7 356.3,167.7 358.0,166.7 359.8,165.6 361.8,164.3 363.8,162.9 365.8,161.3 367.8,159.8 369.7,158.3 371.5,156.8 373.0,155.5 374.4,154.4 375.4,153.5 375.4,166.5 374.4,166.9 373.0,167.4 371.5,168.0 369.7,168.7 367.8,169.5 365.8,170.3 363.8,171.1 361.8,171.9 359.8,172.6 358.0,173.3 356.3,173.9 354.5,174.5 352.8,175.1 351.0,175.7 349.3,176.3 347.5,176.8 345.7,177.3 344.0,177.7 342.2,178.0 340.5,178.2 338.8,178.3 337.0,178.3 335.3,178.2 333.5,178.1 331.8,177.8 330.1,177.6 328.3,177.3 326.6,176.9 324.8,176.6 323.1,176.3 321.3,175.9 319.3,175.4 317.3,174.8 315.3,174.2 313.3,173.6 311.3,173.1 309.6,172.5 308.0,172.1 306.6,171.7 305.6,171.5" fill="#6cc2b9" fill-opacity="0.62"/><polyline points="305.6,165.0 306.6,165.5 308.0,166.2 309.6,167.0 311.3,167.9 313.3,168.8 315.3,169.8 317.3,170.7 319.3,171.6 321.3,172.4 323.1,173.0 324.8,173.5 326.6,174.1 328.3,174.6 330.1,175.0 331.8,175.4 333.5,175.7 335.3,175.9 337.0,176.1 338.8,176.1 340.5,176.0 342.2,175.8 344.0,175.4 345.7,175.0 347.5,174.4 349.3,173.8 351.0,173.1 352.8,172.4 354.5,171.6 356.3,170.8 358.0,170.0 359.8,169.1 361.8,168.1 363.8,167.0 365.8,165.8 367.8,164.6 369.7,163.5 371.5,162.4 373.0,161.4 374.4,160.6 375.4,160.0" fill="none" stroke="#279a90" stroke-width="0.8" stroke-opacity="0.9"/><circle cx="305.6" cy="163.3" r="0.3" fill="#444" fill-opacity="0.55"/><circle cx="323.1" cy="185.8" r="0.3" fill="#444" fill-opacity="0.55"/><circle cx="340.5" cy="180.4" r="0.3" fill="#444" fill-opacity="0.55"/><circle cx="358.0" cy="184.4" r="0.3" fill="#444" fill-opacity="0.55"/><circle cx="375.4" cy="168.8" r="0.3" fill="#444" fill-opacity="0.55"/><circle cx="305.6" cy="158.3" r="0.3" fill="#444" fill-opacity="0.55"/><circle cx="323.1" cy="187.3" r="0.3" fill="#444" fill-opacity="0.55"/><circle cx="340.5" cy="191.8" r="0.3" fill="#444" fill-opacity="0.55"/><circle cx="358.0" cy="186.4" r="0.3" fill="#444" fill-opacity="0.55"/><circle cx="375.4" cy="180.7" r="0.3" fill="#444" fill-opacity="0.55"/><circle cx="305.6" cy="177.8" r="0.3" fill="#444" fill-opacity="0.55"/><circle cx="323.1" cy="187.5" r="0.3" fill="#444" fill-opacity="0.55"/><circle cx="340.5" cy="195.8" r="0.3" fill="#444" fill-opacity="0.55"/><circle cx="358.0" cy="182.0" r="0.3" fill="#444" fill-opacity="0.55"/><circle cx="375.4" cy="165.3" r="0.3" fill="#444" fill-opacity="0.55"/><circle cx="305.6" cy="155.9" r="0.3" fill="#444" fill-opacity="0.55"/><circle cx="323.1" cy="152.5" r="0.3" fill="#444" fill-opacity="0.55"/><circle cx="340.5" cy="142.0" r="0.3" fill="#444" fill-opacity="0.55"/><circle cx="358.0" cy="149.7" r="0.3" fill="#444" fill-opacity="0.55"/><circle cx="375.4" cy="134.3" r="0.3" fill="#444" fill-opacity="0.55"/><circle cx="305.6" cy="159.6" r="0.3" fill="#444" fill-opacity="0.55"/><circle cx="323.1" cy="166.4" r="0.3" fill="#444" fill-opacity="0.55"/><circle cx="340.5" cy="170.0" r="0.3" fill="#444" fill-opacity="0.55"/><circle cx="358.0" cy="153.0" r="0.3" fill="#444" fill-opacity="0.55"/><circle cx="375.4" cy="139.2" r="0.3" fill="#444" fill-opacity="0.55"/><circle cx="305.6" cy="165.3" r="0.3" fill="#444" fill-opacity="0.55"/><circle cx="323.1" cy="182.8" r="0.3" fill="#444" fill-opacity="0.55"/><circle cx="340.5" cy="178.2" r="0.3" fill="#444" fill-opacity="0.55"/><circle cx="358.0" cy="169.6" r="0.3" fill="#444" fill-opacity="0.55"/><circle cx="375.4" cy="136.5" r="0.3" fill="#444" fill-opacity="0.55"/><circle cx="305.6" cy="154.9" r="0.3" fill="#444" fill-opacity="0.55"/><circle cx="323.1" cy="143.0" r="0.3" fill="#444" fill-opacity="0.55"/><circle cx="340.5" cy="146.8" r="0.3" fill="#444" fill-opacity="0.55"/><circle cx="358.0" cy="151.7" r="0.3" fill="#444" fill-opacity="0.55"/><circle cx="375.4" cy="145.3" r="0.3" fill="#444" fill-opacity="0.55"/><circle cx="305.6" cy="173.2" r="0.3" fill="#444" fill-opacity="0.55"/><circle cx="323.1" cy="186.5" r="0.3" fill="#444" fill-opacity="0.55"/><circle cx="340.5" cy="186.6" r="0.3" fill="#444" fill-opacity="0.55"/><circle cx="358.0" cy="185.8" r="0.3" fill="#444" fill-opacity="0.55"/><circle cx="375.4" cy="178.1" r="0.3" fill="#444" fill-opacity="0.55"/><circle cx="305.6" cy="176.6" r="0.3" fill="#444" fill-opacity="0.55"/><circle cx="323.1" cy="184.3" r="0.3" fill="#444" fill-opacity="0.55"/><circle cx="340.5" cy="182.0" r="0.3" fill="#444" fill-opacity="0.55"/><circle cx="358.0" cy="171.6" r="0.3" fill="#444" fill-opacity="0.55"/><circle cx="375.4" cy="148.7" r="0.3" fill="#444" fill-opacity="0.55"/><circle cx="305.6" cy="161.4" r="0.3" fill="#444" fill-opacity="0.55"/><circle cx="323.1" cy="163.5" r="0.3" fill="#444" fill-opacity="0.55"/><circle cx="340.5" cy="176.1" r="0.3" fill="#444" fill-opacity="0.55"/><circle cx="358.0" cy="154.3" r="0.3" fill="#444" fill-opacity="0.55"/><circle cx="375.4" cy="131.6" r="0.3" fill="#444" fill-opacity="0.55"/><circle cx="305.6" cy="148.7" r="0.3" fill="#444" fill-opacity="0.55"/><circle cx="323.1" cy="137.7" r="0.3" fill="#444" fill-opacity="0.55"/><circle cx="340.5" cy="157.8" r="0.3" fill="#444" fill-opacity="0.55"/><circle cx="358.0" cy="140.8" r="0.3" fill="#444" fill-opacity="0.55"/><circle cx="375.4" cy="137.0" r="0.3" fill="#444" fill-opacity="0.55"/><circle cx="305.6" cy="154.6" r="0.3" fill="#444" fill-opacity="0.55"/><circle cx="323.1" cy="181.2" r="0.3" fill="#444" fill-opacity="0.55"/><circle cx="340.5" cy="166.3" r="0.3" fill="#444" fill-opacity="0.55"/><circle cx="358.0" cy="171.0" r="0.3" fill="#444" fill-opacity="0.55"/><circle cx="375.4" cy="150.7" r="0.3" fill="#444" fill-opacity="0.55"/><circle cx="305.6" cy="159.8" r="0.3" fill="#444" fill-opacity="0.55"/><circle cx="323.1" cy="163.1" r="0.3" fill="#444" fill-opacity="0.55"/><circle cx="340.5" cy="171.9" r="0.3" fill="#444" fill-opacity="0.55"/><circle cx="358.0" cy="156.6" r="0.3" fill="#444" fill-opacity="0.55"/><circle cx="375.4" cy="142.9" r="0.3" fill="#444" fill-opacity="0.55"/><circle cx="305.6" cy="166.9" r="0.3" fill="#444" fill-opacity="0.55"/><circle cx="323.1" cy="195.4" r="0.3" fill="#444" fill-opacity="0.55"/><circle cx="340.5" cy="176.7" r="0.3" fill="#444" fill-opacity="0.55"/><circle cx="358.0" cy="185.4" r="0.3" fill="#444" fill-opacity="0.55"/><circle cx="375.4" cy="181.9" r="0.3" fill="#444" fill-opacity="0.55"/><circle cx="305.6" cy="155.2" r="0.3" fill="#444" fill-opacity="0.55"/><circle cx="323.1" cy="168.3" r="0.3" fill="#444" fill-opacity="0.55"/><circle cx="340.5" cy="167.1" r="0.3" fill="#444" fill-opacity="0.55"/><circle cx="358.0" cy="176.9" r="0.3" fill="#444" fill-opacity="0.55"/><circle cx="375.4" cy="166.0" r="0.3" fill="#444" fill-opacity="0.55"/><circle cx="305.6" cy="159.0" r="0.3" fill="#444" fill-opacity="0.55"/><circle cx="323.1" cy="166.7" r="0.3" fill="#444" fill-opacity="0.55"/><circle cx="340.5" cy="167.9" r="0.3" fill="#444" fill-opacity="0.55"/><circle cx="358.0" cy="161.3" r="0.3" fill="#444" fill-opacity="0.55"/><circle cx="375.4" cy="139.5" r="0.3" fill="#444" fill-opacity="0.55"/><circle cx="305.6" cy="190.8" r="0.3" fill="#444" fill-opacity="0.55"/><circle cx="323.1" cy="181.7" r="0.3" fill="#444" fill-opacity="0.55"/><circle cx="340.5" cy="152.3" r="0.3" fill="#444" fill-opacity="0.55"/><circle cx="358.0" cy="146.1" r="0.3" fill="#444" fill-opacity="0.55"/><circle cx="375.4" cy="131.7" r="0.3" fill="#444" fill-opacity="0.55"/><circle cx="305.6" cy="167.2" r="0.3" fill="#444" fill-opacity="0.55"/><circle cx="323.1" cy="175.2" r="0.3" fill="#444" fill-opacity="0.55"/><circle cx="340.5" cy="176.8" r="0.3" fill="#444" fill-opacity="0.55"/><circle cx="358.0" cy="174.8" r="0.3" fill="#444" fill-opacity="0.55"/><circle cx="375.4" cy="171.5" r="0.3" fill="#444" fill-opacity="0.55"/><circle cx="305.6" cy="155.7" r="0.3" fill="#444" fill-opacity="0.55"/><circle cx="323.1" cy="162.0" r="0.3" fill="#444" fill-opacity="0.55"/><circle cx="340.5" cy="182.5" r="0.3" fill="#444" fill-opacity="0.55"/><circle cx="358.0" cy="182.2" r="0.3" fill="#444" fill-opacity="0.55"/><circle cx="375.4" cy="159.4" r="0.3" fill="#444" fill-opacity="0.55"/><circle cx="305.6" cy="189.5" r="0.3" fill="#444" fill-opacity="0.55"/><circle cx="323.1" cy="192.8" r="0.3" fill="#444" fill-opacity="0.55"/><circle cx="340.5" cy="190.5" r="0.3" fill="#444" fill-opacity="0.55"/><circle cx="358.0" cy="174.9" r="0.3" fill="#444" fill-opacity="0.55"/><circle cx="375.4" cy="164.9" r="0.3" fill="#444" fill-opacity="0.55"/><circle cx="305.6" cy="150.3" r="0.3" fill="#444" fill-opacity="0.55"/><circle cx="323.1" cy="149.8" r="0.3" fill="#444" fill-opacity="0.55"/><circle cx="340.5" cy="141.1" r="0.3" fill="#444" fill-opacity="0.55"/><circle cx="358.0" cy="140.4" r="0.3" fill="#444" fill-opacity="0.55"/><circle cx="375.4" cy="138.5" r="0.3" fill="#444" fill-opacity="0.55"/><circle cx="305.6" cy="155.9" r="0.3" fill="#444" fill-opacity="0.55"/><circle cx="323.1" cy="151.4" r="0.3" fill="#444" fill-opacity="0.55"/><circle cx="340.5" cy="160.5" r="0.3" fill="#444" fill-opacity="0.55"/><circle cx="358.0" cy="156.0" r="0.3" fill="#444" fill-opacity="0.55"/><circle cx="375.4" cy="151.5" r="0.3" fill="#444" fill-opacity="0.55"/><circle cx="305.6" cy="178.8" r="0.3" fill="#444" fill-opacity="0.55"/><circle cx="323.1" cy="187.1" r="0.3" fill="#444" fill-opacity="0.55"/><circle cx="340.5" cy="188.8" r="0.3" fill="#444" fill-opacity="0.55"/><circle cx="358.0" cy="183.4" r="0.3" fill="#444" fill-opacity="0.55"/><circle cx="375.4" cy="159.1" r="0.3" fill="#444" fill-opacity="0.55"/><circle cx="305.6" cy="171.4" r="0.3" fill="#444" fill-opacity="0.55"/><circle cx="323.1" cy="195.1" r="0.3" fill="#444" fill-opacity="0.55"/><circle cx="340.5" cy="199.7" r="0.3" fill="#444" fill-opacity="0.55"/><circle cx="358.0" cy="192.5" r="0.3" fill="#444" fill-opacity="0.55"/><circle cx="375.4" cy="176.9" r="0.3" fill="#444" fill-opacity="0.55"/><circle cx="305.6" cy="151.1" r="0.3" fill="#444" fill-opacity="0.55"/><circle cx="323.1" cy="153.0" r="0.3" fill="#444" fill-opacity="0.55"/><circle cx="340.5" cy="152.4" r="0.3" fill="#444" fill-opacity="0.55"/><circle cx="358.0" cy="139.8" r="0.3" fill="#444" fill-opacity="0.55"/><circle cx="375.4" cy="139.5" r="0.3" fill="#444" fill-opacity="0.55"/><circle cx="305.6" cy="139.9" r="0.3" fill="#444" fill-opacity="0.55"/><circle cx="323.1" cy="153.4" r="0.3" fill="#444" fill-opacity="0.55"/><circle cx="340.5" cy="156.9" r="0.3" fill="#444" fill-opacity="0.55"/><circle cx="358.0" cy="141.5" r="0.3" fill="#444" fill-opacity="0.55"/><circle cx="375.4" cy="156.5" r="0.3" fill="#444" fill-opacity="0.55"/><circle cx="305.6" cy="161.9" r="0.3" fill="#444" fill-opacity="0.55"/><circle cx="323.1" cy="182.9" r="0.3" fill="#444" fill-opacity="0.55"/><circle cx="340.5" cy="179.3" r="0.3" fill="#444" fill-opacity="0.55"/><circle cx="358.0" cy="170.0" r="0.3" fill="#444" fill-opacity="0.55"/><circle cx="375.4" cy="151.3" r="0.3" fill="#444" fill-opacity="0.55"/><circle cx="305.6" cy="171.1" r="0.3" fill="#444" fill-opacity="0.55"/><circle cx="323.1" cy="172.0" r="0.3" fill="#444" fill-opacity="0.55"/><circle cx="340.5" cy="183.9" r="0.3" fill="#444" fill-opacity="0.55"/><circle cx="358.0" cy="176.1" r="0.3" fill="#444" fill-opacity="0.55"/><circle cx="375.4" cy="172.4" r="0.3" fill="#444" fill-opacity="0.55"/><circle cx="305.6" cy="162.5" r="0.3" fill="#444" fill-opacity="0.55"/><circle cx="323.1" cy="170.1" r="0.3" fill="#444" fill-opacity="0.55"/><circle cx="340.5" cy="159.8" r="0.3" fill="#444" fill-opacity="0.55"/><circle cx="358.0" cy="148.7" r="0.3" fill="#444" fill-opacity="0.55"/><circle cx="375.4" cy="133.0" r="0.3" fill="#444" fill-opacity="0.55"/><circle cx="305.6" cy="171.2" r="0.3" fill="#444" fill-opacity="0.55"/><circle cx="323.1" cy="183.7" r="0.3" fill="#444" fill-opacity="0.55"/><circle cx="340.5" cy="180.4" r="0.3" fill="#444" fill-opacity="0.55"/><circle cx="358.0" cy="179.1" r="0.3" fill="#444" fill-opacity="0.55"/><circle cx="375.4" cy="176.0" r="0.3" fill="#444" fill-opacity="0.55"/><circle cx="305.6" cy="159.9" r="0.3" fill="#444" fill-opacity="0.55"/><circle cx="323.1" cy="165.5" r="0.3" fill="#444" fill-opacity="0.55"/><circle cx="340.5" cy="165.0" r="0.3" fill="#444" fill-opacity="0.55"/><circle cx="358.0" cy="167.3" r="0.3" fill="#444" fill-opacity="0.55"/><circle cx="375.4" cy="159.7" r="0.3" fill="#444" fill-opacity="0.55"/><circle cx="305.6" cy="149.0" r="0.3" fill="#444" fill-opacity="0.55"/><circle cx="323.1" cy="162.7" r="0.3" fill="#444" fill-opacity="0.55"/><circle cx="340.5" cy="161.4" r="0.3" fill="#444" fill-opacity="0.55"/><circle cx="358.0" cy="149.7" r="0.3" fill="#444" fill-opacity="0.55"/><circle cx="375.4" cy="149.0" r="0.3" fill="#444" fill-opacity="0.55"/><circle cx="305.6" cy="173.5" r="0.3" fill="#444" fill-opacity="0.55"/><circle cx="323.1" cy="176.2" r="0.3" fill="#444" fill-opacity="0.55"/><circle cx="340.5" cy="180.0" r="0.3" fill="#444" fill-opacity="0.55"/><circle cx="358.0" cy="179.5" r="0.3" fill="#444" fill-opacity="0.55"/><circle cx="375.4" cy="160.1" r="0.3" fill="#444" fill-opacity="0.55"/><circle cx="305.6" cy="160.3" r="0.3" fill="#444" fill-opacity="0.55"/><circle cx="323.1" cy="177.0" r="0.3" fill="#444" fill-opacity="0.55"/><circle cx="340.5" cy="163.9" r="0.3" fill="#444" fill-opacity="0.55"/><circle cx="358.0" cy="161.8" r="0.3" fill="#444" fill-opacity="0.55"/><circle cx="375.4" cy="156.2" r="0.3" fill="#444" fill-opacity="0.55"/><circle cx="305.6" cy="169.1" r="0.3" fill="#444" fill-opacity="0.55"/><circle cx="323.1" cy="165.6" r="0.3" fill="#444" fill-opacity="0.55"/><circle cx="340.5" cy="171.5" r="0.3" fill="#444" fill-opacity="0.55"/><circle cx="358.0" cy="158.7" r="0.3" fill="#444" fill-opacity="0.55"/><circle cx="375.4" cy="151.4" r="0.3" fill="#444" fill-opacity="0.55"/><circle cx="305.6" cy="170.5" r="0.3" fill="#444" fill-opacity="0.55"/><circle cx="323.1" cy="182.6" r="0.3" fill="#444" fill-opacity="0.55"/><circle cx="340.5" cy="178.7" r="0.3" fill="#444" fill-opacity="0.55"/><circle cx="358.0" cy="168.4" r="0.3" fill="#444" fill-opacity="0.55"/><circle cx="375.4" cy="164.0" r="0.3" fill="#444" fill-opacity="0.55"/><circle cx="305.6" cy="149.4" r="0.3" fill="#444" fill-opacity="0.55"/><circle cx="323.1" cy="164.4" r="0.3" fill="#444" fill-opacity="0.55"/><circle cx="340.5" cy="172.0" r="0.3" fill="#444" fill-opacity="0.55"/><circle cx="358.0" cy="164.5" r="0.3" fill="#444" fill-opacity="0.55"/><circle cx="375.4" cy="175.4" r="0.3" fill="#444" fill-opacity="0.55"/><circle cx="305.6" cy="163.0" r="0.3" fill="#444" fill-opacity="0.55"/><circle cx="323.1" cy="194.4" r="0.3" fill="#444" fill-opacity="0.55"/><circle cx="340.5" cy="179.3" r="0.3" fill="#444" fill-opacity="0.55"/><circle cx="358.0" cy="154.1" r="0.3" fill="#444" fill-opacity="0.55"/><circle cx="375.4" cy="150.9" r="0.3" fill="#444" fill-opacity="0.55"/><circle cx="305.6" cy="170.9" r="0.3" fill="#444" fill-opacity="0.55"/><circle cx="323.1" cy="177.8" r="0.3" fill="#444" fill-opacity="0.55"/><circle cx="340.5" cy="180.3" r="0.3" fill="#444" fill-opacity="0.55"/><circle cx="358.0" cy="158.2" r="0.3" fill="#444" fill-opacity="0.55"/><circle cx="375.4" cy="138.9" r="0.3" fill="#444" fill-opacity="0.55"/><circle cx="305.6" cy="147.5" r="0.3" fill="#444" fill-opacity="0.55"/><circle cx="323.1" cy="155.3" r="0.3" fill="#444" fill-opacity="0.55"/><circle cx="340.5" cy="166.3" r="0.3" fill="#444" fill-opacity="0.55"/><circle cx="358.0" cy="161.8" r="0.3" fill="#444" fill-opacity="0.55"/><circle cx="375.4" cy="152.5" r="0.3" fill="#444" fill-opacity="0.55"/><circle cx="305.6" cy="152.2" r="0.3" fill="#444" fill-opacity="0.55"/><circle cx="323.1" cy="157.9" r="0.3" fill="#444" fill-opacity="0.55"/><circle cx="340.5" cy="161.9" r="0.3" fill="#444" fill-opacity="0.55"/><circle cx="358.0" cy="154.3" r="0.3" fill="#444" fill-opacity="0.55"/><circle cx="375.4" cy="154.0" r="0.3" fill="#444" fill-opacity="0.55"/><circle cx="305.6" cy="149.7" r="0.3" fill="#444" fill-opacity="0.55"/><circle cx="323.1" cy="178.6" r="0.3" fill="#444" fill-opacity="0.55"/><circle cx="340.5" cy="172.8" r="0.3" fill="#444" fill-opacity="0.55"/><circle cx="358.0" cy="177.4" r="0.3" fill="#444" fill-opacity="0.55"/><circle cx="375.4" cy="156.6" r="0.3" fill="#444" fill-opacity="0.55"/><circle cx="305.6" cy="185.1" r="0.3" fill="#444" fill-opacity="0.55"/><circle cx="323.1" cy="196.4" r="0.3" fill="#444" fill-opacity="0.55"/><circle cx="340.5" cy="197.0" r="0.3" fill="#444" fill-opacity="0.55"/><circle cx="358.0" cy="197.3" r="0.3" fill="#444" fill-opacity="0.55"/><circle cx="375.4" cy="178.0" r="0.3" fill="#444" fill-opacity="0.55"/><circle cx="305.6" cy="147.4" r="0.3" fill="#444" fill-opacity="0.55"/><circle cx="323.1" cy="137.1" r="0.3" fill="#444" fill-opacity="0.55"/><circle cx="340.5" cy="151.1" r="0.3" fill="#444" fill-opacity="0.55"/><circle cx="358.0" cy="139.9" r="0.3" fill="#444" fill-opacity="0.55"/><circle cx="375.4" cy="141.1" r="0.3" fill="#444" fill-opacity="0.55"/><circle cx="305.6" cy="161.6" r="0.3" fill="#444" fill-opacity="0.55"/><circle cx="323.1" cy="191.5" r="0.3" fill="#444" fill-opacity="0.55"/><circle cx="340.5" cy="178.9" r="0.3" fill="#444" fill-opacity="0.55"/><circle cx="358.0" cy="176.1" r="0.3" fill="#444" fill-opacity="0.55"/><circle cx="375.4" cy="159.2" r="0.3" fill="#444" fill-opacity="0.55"/><circle cx="305.6" cy="169.4" r="0.3" fill="#444" fill-opacity="0.55"/><circle cx="323.1" cy="161.5" r="0.3" fill="#444" fill-opacity="0.55"/><circle cx="340.5" cy="160.9" r="0.3" fill="#444" fill-opacity="0.55"/><circle cx="358.0" cy="163.4" r="0.3" fill="#444" fill-opacity="0.55"/><circle cx="375.4" cy="166.0" r="0.3" fill="#444" fill-opacity="0.55"/><circle cx="305.6" cy="184.4" r="0.3" fill="#444" fill-opacity="0.55"/><circle cx="323.1" cy="185.8" r="0.3" fill="#444" fill-opacity="0.55"/><circle cx="340.5" cy="189.3" r="0.3" fill="#444" fill-opacity="0.55"/><circle cx="358.0" cy="183.3" r="0.3" fill="#444" fill-opacity="0.55"/><circle cx="375.4" cy="156.5" r="0.3" fill="#444" fill-opacity="0.55"/><circle cx="305.6" cy="141.8" r="0.3" fill="#444" fill-opacity="0.55"/><circle cx="323.1" cy="159.4" r="0.3" fill="#444" fill-opacity="0.55"/><circle cx="340.5" cy="164.6" r="0.3" fill="#444" fill-opacity="0.55"/><circle cx="358.0" cy="158.3" r="0.3" fill="#444" fill-opacity="0.55"/><circle cx="375.4" cy="157.5" r="0.3" fill="#444" fill-opacity="0.55"/><circle cx="305.6" cy="148.0" r="0.3" fill="#444" fill-opacity="0.55"/><circle cx="323.1" cy="163.2" r="0.3" fill="#444" fill-opacity="0.55"/><circle cx="340.5" cy="166.3" r="0.3" fill="#444" fill-opacity="0.55"/><circle cx="358.0" cy="160.8" r="0.3" fill="#444" fill-opacity="0.55"/><circle cx="375.4" cy="152.7" r="0.3" fill="#444" fill-opacity="0.55"/><circle cx="305.6" cy="164.5" r="0.3" fill="#444" fill-opacity="0.55"/><circle cx="323.1" cy="177.1" r="0.3" fill="#444" fill-opacity="0.55"/><circle cx="340.5" cy="182.5" r="0.3" fill="#444" fill-opacity="0.55"/><circle cx="358.0" cy="195.0" r="0.3" fill="#444" fill-opacity="0.55"/><circle cx="375.4" cy="178.9" r="0.3" fill="#444" fill-opacity="0.55"/><circle cx="305.6" cy="176.2" r="0.3" fill="#444" fill-opacity="0.55"/><circle cx="323.1" cy="192.3" r="0.3" fill="#444" fill-opacity="0.55"/><circle cx="340.5" cy="192.1" r="0.3" fill="#444" fill-opacity="0.55"/><circle cx="358.0" cy="194.3" r="0.3" fill="#444" fill-opacity="0.55"/><circle cx="375.4" cy="172.7" r="0.3" fill="#444" fill-opacity="0.55"/><circle cx="305.6" cy="178.2" r="0.3" fill="#444" fill-opacity="0.55"/><circle cx="323.1" cy="180.2" r="0.3" fill="#444" fill-opacity="0.55"/><circle cx="340.5" cy="178.7" r="0.3" fill="#444" fill-opacity="0.55"/><circle cx="358.0" cy="176.7" r="0.3" fill="#444" fill-opacity="0.55"/><circle cx="375.4" cy="172.0" r="0.3" fill="#444" fill-opacity="0.55"/><circle cx="305.6" cy="174.7" r="0.3" fill="#444" fill-opacity="0.55"/><circle cx="323.1" cy="193.6" r="0.3" fill="#444" fill-opacity="0.55"/><circle cx="340.5" cy="194.8" r="0.3" fill="#444" fill-opacity="0.55"/><circle cx="358.0" cy="181.2" r="0.3" fill="#444" fill-opacity="0.55"/><circle cx="375.4" cy="173.7" r="0.3" fill="#444" fill-opacity="0.55"/><circle cx="305.6" cy="166.2" r="0.3" fill="#444" fill-opacity="0.55"/><circle cx="323.1" cy="166.7" r="0.3" fill="#444" fill-opacity="0.55"/><circle cx="340.5" cy="178.5" r="0.3" fill="#444" fill-opacity="0.55"/><circle cx="358.0" cy="175.3" r="0.3" fill="#444" fill-opacity="0.55"/><circle cx="375.4" cy="152.7" r="0.3" fill="#444" fill-opacity="0.55"/><circle cx="305.6" cy="168.2" r="0.3" fill="#444" fill-opacity="0.55"/><circle cx="323.1" cy="164.9" r="0.3" fill="#444" fill-opacity="0.55"/><circle cx="340.5" cy="160.0" r="0.3" fill="#444" fill-opacity="0.55"/><circle cx="358.0" cy="158.6" r="0.3" fill="#444" fill-opacity="0.55"/><circle cx="375.4" cy="131.9" r="0.3" fill="#444" fill-opacity="0.55"/><circle cx="305.6" cy="162.5" r="0.3" fill="#444" fill-opacity="0.55"/><circle cx="323.1" cy="159.0" r="0.3" fill="#444" fill-opacity="0.55"/><circle cx="340.5" cy="168.6" r="0.3" fill="#444" fill-opacity="0.55"/><circle cx="358.0" cy="157.1" r="0.3" fill="#444" fill-opacity="0.55"/><circle cx="375.4" cy="145.9" r="0.3" fill="#444" fill-opacity="0.55"/><circle cx="305.6" cy="141.0" r="0.3" fill="#444" fill-opacity="0.55"/><circle cx="323.1" cy="147.5" r="0.3" fill="#444" fill-opacity="0.55"/><circle cx="340.5" cy="159.0" r="0.3" fill="#444" fill-opacity="0.55"/><circle cx="358.0" cy="158.2" r="0.3" fill="#444" fill-opacity="0.55"/><circle cx="375.4" cy="135.2" r="0.3" fill="#444" fill-opacity="0.55"/><circle cx="305.6" cy="174.9" r="0.3" fill="#444" fill-opacity="0.55"/><circle cx="323.1" cy="193.9" r="0.3" fill="#444" fill-opacity="0.55"/><circle cx="340.5" cy="193.5" r="0.3" fill="#444" fill-opacity="0.55"/><circle cx="358.0" cy="194.8" r="0.3" fill="#444" fill-opacity="0.55"/><circle cx="375.4" cy="171.2" r="0.3" fill="#444" fill-opacity="0.55"/><circle cx="305.6" cy="160.8" r="0.3" fill="#444" fill-opacity="0.55"/><circle cx="323.1" cy="181.9" r="0.3" fill="#444" fill-opacity="0.55"/><circle cx="340.5" cy="196.7" r="0.3" fill="#444" fill-opacity="0.55"/><circle cx="358.0" cy="192.7" r="0.3" fill="#444" fill-opacity="0.55"/><circle cx="375.4" cy="168.8" r="0.3" fill="#444" fill-opacity="0.55"/><circle cx="305.6" cy="137.1" r="0.3" fill="#444" fill-opacity="0.55"/><circle cx="323.1" cy="151.0" r="0.3" fill="#444" fill-opacity="0.55"/><circle cx="340.5" cy="141.1" r="0.3" fill="#444" fill-opacity="0.55"/><circle cx="358.0" cy="137.1" r="0.3" fill="#444" fill-opacity="0.55"/><circle cx="375.4" cy="150.7" r="0.3" fill="#444" fill-opacity="0.55"/><circle cx="305.6" cy="176.9" r="0.3" fill="#444" fill-opacity="0.55"/><circle cx="323.1" cy="194.9" r="0.3" fill="#444" fill-opacity="0.55"/><circle cx="340.5" cy="197.1" r="0.3" fill="#444" fill-opacity="0.55"/><circle cx="358.0" cy="192.3" r="0.3" fill="#444" fill-opacity="0.55"/><circle cx="375.4" cy="179.7" r="0.3" fill="#444" fill-opacity="0.55"/><circle cx="305.6" cy="157.8" r="0.3" fill="#444" fill-opacity="0.55"/><circle cx="323.1" cy="171.7" r="0.3" fill="#444" fill-opacity="0.55"/><circle cx="340.5" cy="176.9" r="0.3" fill="#444" fill-opacity="0.55"/><circle cx="358.0" cy="176.0" r="0.3" fill="#444" fill-opacity="0.55"/><circle cx="375.4" cy="158.8" r="0.3" fill="#444" fill-opacity="0.55"/><circle cx="305.6" cy="188.6" r="0.3" fill="#444" fill-opacity="0.55"/><circle cx="323.1" cy="198.6" r="0.3" fill="#444" fill-opacity="0.55"/><circle cx="340.5" cy="185.9" r="0.3" fill="#444" fill-opacity="0.55"/><circle cx="358.0" cy="192.8" r="0.3" fill="#444" fill-opacity="0.55"/><circle cx="375.4" cy="171.0" r="0.3" fill="#444" fill-opacity="0.55"/><circle cx="305.6" cy="138.4" r="0.3" fill="#444" fill-opacity="0.55"/><circle cx="323.1" cy="161.0" r="0.3" fill="#444" fill-opacity="0.55"/><circle cx="340.5" cy="160.5" r="0.3" fill="#444" fill-opacity="0.55"/><circle cx="358.0" cy="156.2" r="0.3" fill="#444" fill-opacity="0.55"/><circle cx="375.4" cy="140.6" r="0.3" fill="#444" fill-opacity="0.55"/><circle cx="305.6" cy="163.8" r="0.3" fill="#444" fill-opacity="0.55"/><circle cx="323.1" cy="161.9" r="0.3" fill="#444" fill-opacity="0.55"/><circle cx="340.5" cy="164.0" r="0.3" fill="#444" fill-opacity="0.55"/><circle cx="358.0" cy="154.8" r="0.3" fill="#444" fill-opacity="0.55"/><circle cx="375.4" cy="141.7" r="0.3" fill="#444" fill-opacity="0.55"/><circle cx="305.6" cy="132.7" r="0.3" fill="#444" fill-opacity="0.55"/><circle cx="323.1" cy="150.9" r="0.3" fill="#444" fill-opacity="0.55"/><circle cx="340.5" cy="156.9" r="0.3" fill="#444" fill-opacity="0.55"/><circle cx="358.0" cy="136.3" r="0.3" fill="#444" fill-opacity="0.55"/><circle cx="375.4" cy="146.0" r="0.3" fill="#444" fill-opacity="0.55"/><circle cx="305.6" cy="162.4" r="0.3" fill="#444" fill-opacity="0.55"/><circle cx="323.1" cy="178.7" r="0.3" fill="#444" fill-opacity="0.55"/><circle cx="340.5" cy="181.7" r="0.3" fill="#444" fill-opacity="0.55"/><circle cx="358.0" cy="189.2" r="0.3" fill="#444" fill-opacity="0.55"/><circle cx="375.4" cy="176.4" r="0.3" fill="#444" fill-opacity="0.55"/><circle cx="305.6" cy="148.0" r="0.3" fill="#444" fill-opacity="0.55"/><circle cx="323.1" cy="151.2" r="0.3" fill="#444" fill-opacity="0.55"/><circle cx="340.5" cy="160.9" r="0.3" fill="#444" fill-opacity="0.55"/><circle cx="358.0" cy="150.4" r="0.3" fill="#444" fill-opacity="0.55"/><circle cx="375.4" cy="145.8" r="0.3" fill="#444" fill-opacity="0.55"/><circle cx="305.6" cy="176.3" r="0.3" fill="#444" fill-opacity="0.55"/><circle cx="323.1" cy="192.2" r="0.3" fill="#444" fill-opacity="0.55"/><circle cx="340.5" cy="195.7" r="0.3" fill="#444" fill-opacity="0.55"/><circle cx="358.0" cy="189.1" r="0.3" fill="#444" fill-opacity="0.55"/><circle cx="375.4" cy="176.0" r="0.3" fill="#444" fill-opacity="0.55"/><circle cx="305.6" cy="153.7" r="0.3" fill="#444" fill-opacity="0.55"/><circle cx="323.1" cy="157.6" r="0.3" fill="#444" fill-opacity="0.55"/><circle cx="340.5" cy="146.5" r="0.3" fill="#444" fill-opacity="0.55"/><circle cx="358.0" cy="136.5" r="0.3" fill="#444" fill-opacity="0.55"/><circle cx="375.4" cy="149.2" r="0.3" fill="#444" fill-opacity="0.55"/><circle cx="305.6" cy="142.0" r="0.3" fill="#444" fill-opacity="0.55"/><circle cx="323.1" cy="153.5" r="0.3" fill="#444" fill-opacity="0.55"/><circle cx="340.5" cy="160.6" r="0.3" fill="#444" fill-opacity="0.55"/><circle cx="358.0" cy="152.5" r="0.3" fill="#444" fill-opacity="0.55"/><circle cx="375.4" cy="153.2" r="0.3" fill="#444" fill-opacity="0.55"/><circle cx="305.6" cy="175.2" r="0.3" fill="#444" fill-opacity="0.55"/><circle cx="323.1" cy="195.6" r="0.3" fill="#444" fill-opacity="0.55"/><circle cx="340.5" cy="193.2" r="0.3" fill="#444" fill-opacity="0.55"/><circle cx="358.0" cy="174.8" r="0.3" fill="#444" fill-opacity="0.55"/><circle cx="375.4" cy="167.3" r="0.3" fill="#444" fill-opacity="0.55"/><circle cx="305.6" cy="166.3" r="0.3" fill="#444" fill-opacity="0.55"/><circle cx="323.1" cy="183.6" r="0.3" fill="#444" fill-opacity="0.55"/><circle cx="340.5" cy="190.3" r="0.3" fill="#444" fill-opacity="0.55"/><circle cx="358.0" cy="196.7" r="0.3" fill="#444" fill-opacity="0.55"/><circle cx="375.4" cy="180.8" r="0.3" fill="#444" fill-opacity="0.55"/><circle cx="305.6" cy="171.3" r="0.3" fill="#444" fill-opacity="0.55"/><circle cx="323.1" cy="172.4" r="0.3" fill="#444" fill-opacity="0.55"/><circle cx="340.5" cy="154.6" r="0.3" fill="#444" fill-opacity="0.55"/><circle cx="358.0" cy="145.6" r="0.3" fill="#444" fill-opacity="0.55"/><circle cx="375.4" cy="147.6" r="0.3" fill="#444" fill-opacity="0.55"/><circle cx="305.6" cy="138.5" r="0.3" fill="#444" fill-opacity="0.55"/><circle cx="323.1" cy="158.7" r="0.3" fill="#444" fill-opacity="0.55"/><circle cx="340.5" cy="155.6" r="0.3" fill="#444" fill-opacity="0.55"/><circle cx="358.0" cy="147.0" r="0.3" fill="#444" fill-opacity="0.55"/><circle cx="375.4" cy="134.4" r="0.3" fill="#444" fill-opacity="0.55"/><circle cx="305.6" cy="165.0" r="0.3" fill="#444" fill-opacity="0.55"/><circle cx="323.1" cy="165.2" r="0.3" fill="#444" fill-opacity="0.55"/><circle cx="340.5" cy="169.4" r="0.3" fill="#444" fill-opacity="0.55"/><circle cx="358.0" cy="168.4" r="0.3" fill="#444" fill-opacity="0.55"/><circle cx="375.4" cy="163.7" r="0.3" fill="#444" fill-opacity="0.55"/><circle cx="305.6" cy="151.4" r="0.3" fill="#444" fill-opacity="0.55"/><circle cx="323.1" cy="177.0" r="0.3" fill="#444" fill-opacity="0.55"/><circle cx="340.5" cy="197.1" r="0.3" fill="#444" fill-opacity="0.55"/><circle cx="358.0" cy="182.1" r="0.3" fill="#444" fill-opacity="0.55"/><circle cx="375.4" cy="155.7" r="0.3" fill="#444" fill-opacity="0.55"/><circle cx="305.6" cy="164.4" r="0.3" fill="#444" fill-opacity="0.55"/><circle cx="323.1" cy="155.8" r="0.3" fill="#444" fill-opacity="0.55"/><circle cx="340.5" cy="162.2" r="0.3" fill="#444" fill-opacity="0.55"/><circle cx="358.0" cy="162.2" r="0.3" fill="#444" fill-opacity="0.55"/><circle cx="375.4" cy="137.7" r="0.3" fill="#444" fill-opacity="0.55"/><rect x="336.0" y="205.0" width="9" height="1.0" fill="#bdbdbd"/><rect x="304.8" y="203.6" width="1.6" height="0.8" fill="#c4c4c4"/><rect x="322.3" y="203.6" width="1.6" height="0.8" fill="#c4c4c4"/><rect x="339.7" y="203.6" width="1.6" height="0.8" fill="#c4c4c4"/><rect x="357.2" y="203.6" width="1.6" height="0.8" fill="#c4c4c4"/><rect x="374.6" y="203.6" width="1.6" height="0.8" fill="#c4c4c4"/><rect x="292.5" y="151.8" width="1.6" height="1.0" fill="#b0b0b0"/><rect x="292.5" y="176.6" width="1.6" height="1.0" fill="#b0b0b0"/><rect x="290.5" y="164.0" width="1.0" height="4.0" fill="#b8b8b8"/><rect x="388.9" y="163.1" width="11.4" height="1.0" fill="#a6a6a6"/><rect x="388.9" y="165.8" width="2.4" height="1.9" fill="#c8c8c8"/><rect x="389.2" y="166.1" width="1.8" height="1.3" fill="#e9a6b0"/><rect x="388.9" y="168.5" width="2.4" height="1.9" fill="#c8c8c8"/><rect x="389.2" y="168.8" width="1.8" height="1.3" fill="#6cc0b8"/><rect x="392.1" y="166.3" width="8.0" height="0.9" fill="#c2c2c2"/><rect x="392.1" y="169.0" width="9.0" height="0.9" fill="#c2c2c2"/><rect x="407.5" y="129.5" width="91.0" height="73.0" fill="#fff" stroke="#c4c4c4" stroke-width="0.7"/><polyline points="418.2,143.0 435.8,149.0 453.3,146.0 470.9,146.0 488.4,152.0" fill="none" stroke="#b8b8b8" stroke-width="0.42"/><polyline points="418.2,146.0 435.8,156.0 453.3,152.0 470.9,152.0 488.4,146.0" fill="none" stroke="#a0a0a0" stroke-width="0.42"/><polyline points="418.2,140.0 435.8,140.0 453.3,140.0 470.9,143.0 488.4,146.0" fill="none" stroke="#909090" stroke-width="0.42"/><polyline points="418.2,156.0 435.8,162.0 453.3,156.0 470.9,156.0 488.4,149.0" fill="none" stroke="#a0a0a0" stroke-width="0.42"/><polyline points="418.2,140.0 435.8,152.0 453.3,149.0 470.9,136.0 488.4,136.0" fill="none" stroke="#c4c4c4" stroke-width="0.42"/><polyline points="418.2,143.0 435.8,136.0 453.3,131.0 470.9,136.0 488.4,131.0" fill="none" stroke="#909090" stroke-width="0.42"/><polyline points="418.2,140.0 435.8,143.0 453.3,152.0 470.9,149.0 488.4,143.0" fill="none" stroke="#c4c4c4" stroke-width="0.42"/><polyline points="418.2,143.0 435.8,152.0 453.3,146.0 470.9,156.0 488.4,146.0" fill="none" stroke="#909090" stroke-width="0.42"/><polyline points="418.2,136.0 435.8,140.0 453.3,131.0 470.9,131.0 488.4,136.0" fill="none" stroke="#a0a0a0" stroke-width="0.42"/><polyline points="418.2,149.0 435.8,152.0 453.3,149.0 470.9,156.0 488.4,156.0" fill="none" stroke="#909090" stroke-width="0.42"/><polyline points="418.2,143.0 435.8,152.0 453.3,146.0 470.9,146.0 488.4,149.0" fill="none" stroke="#acacac" stroke-width="0.42"/><polyline points="418.2,143.0 435.8,143.0 453.3,143.0 470.9,140.0 488.4,136.0" fill="none" stroke="#c4c4c4" stroke-width="0.42"/><polyline points="418.2,136.0 435.8,149.0 453.3,143.0 470.9,149.0 488.4,152.0" fill="none" stroke="#b8b8b8" stroke-width="0.42"/><polyline points="418.2,143.0 435.8,149.0 453.3,149.0 470.9,149.0 488.4,140.0" fill="none" stroke="#b8b8b8" stroke-width="0.42"/><polyline points="418.2,143.0 435.8,152.0 453.3,152.0 470.9,162.0 488.4,170.0" fill="none" stroke="#acacac" stroke-width="0.42"/><polyline points="418.2,146.0 435.8,162.0 453.3,149.0 470.9,149.0 488.4,131.0" fill="none" stroke="#acacac" stroke-width="0.42"/><polyline points="418.2,149.0 435.8,152.0 453.3,162.0 470.9,156.0 488.4,146.0" fill="none" stroke="#a0a0a0" stroke-width="0.42"/><polyline points="418.2,152.0 435.8,146.0 453.3,136.0 470.9,136.0 488.4,140.0" fill="none" stroke="#a0a0a0" stroke-width="0.42"/><polyline points="418.2,140.0 435.8,143.0 453.3,131.0 470.9,143.0 488.4,140.0" fill="none" stroke="#909090" stroke-width="0.42"/><polyline points="418.2,146.0 435.8,149.0 453.3,149.0 470.9,152.0 488.4,146.0" fill="none" stroke="#b8b8b8" stroke-width="0.42"/><polyline points="418.2,143.0 435.8,149.0 453.3,152.0 470.9,152.0 488.4,152.0" fill="none" stroke="#909090" stroke-width="0.42"/><polyline points="418.2,146.0 435.8,152.0 453.3,152.0 470.9,149.0 488.4,146.0" fill="none" stroke="#c4c4c4" stroke-width="0.42"/><polyline points="418.2,152.0 435.8,156.0 453.3,152.0 470.9,170.0 488.4,170.0" fill="none" stroke="#909090" stroke-width="0.42"/><polyline points="418.2,149.0 435.8,152.0 453.3,146.0 470.9,152.0 488.4,149.0" fill="none" stroke="#b8b8b8" stroke-width="0.42"/><polyline points="418.2,143.0 435.8,152.0 453.3,156.0 470.9,162.0 488.4,156.0" fill="none" stroke="#909090" stroke-width="0.42"/><polyline points="418.2,156.0 435.8,162.0 453.3,156.0 470.9,162.0 488.4,162.0" fill="none" stroke="#c4c4c4" stroke-width="0.42"/><polyline points="418.2,143.0 435.8,149.0 453.3,152.0 470.9,162.0 488.4,162.0" fill="none" stroke="#909090" stroke-width="0.42"/><polyline points="418.2,146.0 435.8,156.0 453.3,149.0 470.9,156.0 488.4,156.0" fill="none" stroke="#909090" stroke-width="0.42"/><polyline points="418.2,152.0 435.8,149.0 453.3,149.0 470.9,140.0 488.4,136.0" fill="none" stroke="#c4c4c4" stroke-width="0.42"/><polyline points="418.2,143.0 435.8,149.0 453.3,162.0 470.9,170.0 488.4,162.0" fill="none" stroke="#c4c4c4" stroke-width="0.42"/><polyline points="418.2,140.0 435.8,149.0 453.3,152.0 470.9,143.0 488.4,143.0" fill="none" stroke="#acacac" stroke-width="0.42"/><polyline points="418.2,136.0 435.8,136.0 453.3,136.0 470.9,136.0 488.4,146.0" fill="none" stroke="#b8b8b8" stroke-width="0.42"/><polyline points="418.2,146.0 435.8,149.0 453.3,162.0 470.9,156.0 488.4,156.0" fill="none" stroke="#909090" stroke-width="0.42"/><polyline points="418.2,143.0 435.8,146.0 453.3,143.0 470.9,152.0 488.4,149.0" fill="none" stroke="#b8b8b8" stroke-width="0.42"/><polyline points="418.2,146.0 435.8,152.0 453.3,146.0 470.9,140.0 488.4,136.0" fill="none" stroke="#b8b8b8" stroke-width="0.42"/><polyline points="418.2,131.0 435.8,136.0 453.3,131.0 470.9,136.0 488.4,131.0" fill="none" stroke="#acacac" stroke-width="0.42"/><polyline points="418.2,146.0 435.8,146.0 453.3,149.0 470.9,140.0 488.4,143.0" fill="none" stroke="#c4c4c4" stroke-width="0.42"/><polyline points="418.2,140.0 435.8,143.0 453.3,140.0 470.9,136.0 488.4,131.0" fill="none" stroke="#a0a0a0" stroke-width="0.42"/><polyline points="418.2,152.0 435.8,149.0 453.3,140.0 470.9,140.0 488.4,140.0" fill="none" stroke="#909090" stroke-width="0.42"/><polyline points="418.2,143.0 435.8,140.0 453.3,136.0 470.9,140.0 488.4,136.0" fill="none" stroke="#acacac" stroke-width="0.42"/><polyline points="418.2,149.0 435.8,156.0 453.3,152.0 470.9,146.0 488.4,156.0" fill="none" stroke="#909090" stroke-width="0.42"/><polyline points="418.2,146.0 435.8,149.0 453.3,146.0 470.9,140.0 488.4,136.0" fill="none" stroke="#acacac" stroke-width="0.42"/><polyline points="418.2,146.0 435.8,143.0 453.3,143.0 470.9,149.0 488.4,149.0" fill="none" stroke="#b8b8b8" stroke-width="0.42"/><polyline points="418.2,143.0 435.8,152.0 453.3,156.0 470.9,162.0 488.4,156.0" fill="none" stroke="#b8b8b8" stroke-width="0.42"/><polyline points="418.2,131.0 435.8,140.0 453.3,140.0 470.9,136.0 488.4,140.0" fill="none" stroke="#acacac" stroke-width="0.42"/><polyline points="418.2,140.0 435.8,140.0 453.3,149.0 470.9,140.0 488.4,143.0" fill="none" stroke="#909090" stroke-width="0.42"/><polyline points="418.2,149.0 435.8,162.0 453.3,162.0 470.9,170.0 488.4,162.0" fill="none" stroke="#b8b8b8" stroke-width="0.42"/><polyline points="418.2,143.0 435.8,136.0 453.3,131.0 470.9,131.0 488.4,131.0" fill="none" stroke="#909090" stroke-width="0.42"/><polyline points="418.2,135.0 435.8,197.0 453.3,140.0 470.9,145.0 488.4,140.0" fill="none" stroke="#9a9a9a" stroke-width="0.5"/><polyline points="418.2,140.0 435.8,150.0 453.3,138.0 470.9,197.0 488.4,140.0" fill="none" stroke="#9a9a9a" stroke-width="0.5"/><polyline points="418.2,150.0 435.8,185.0 453.3,150.0 470.9,150.0 488.4,145.0" fill="none" stroke="#9a9a9a" stroke-width="0.5"/><polyline points="418.2,131.0 435.8,131.0 453.3,131.0 470.9,131.0 488.4,131.0" fill="none" stroke="#9a9a9a" stroke-width="0.5"/><polyline points="418.2,150.0 435.8,170.0 453.3,135.0 470.9,140.0 488.4,138.0" fill="none" stroke="#9a9a9a" stroke-width="0.5"/><polyline points="418.2,145.0 435.8,160.0 453.3,155.0 470.9,170.0 488.4,150.0" fill="none" stroke="#9a9a9a" stroke-width="0.5"/><polygon points="418.2,138.0 419.2,138.2 420.6,138.6 422.2,138.9 424.0,139.4 425.9,139.8 427.9,140.2 430.0,140.6 432.0,141.0 434.0,141.3 435.8,141.5 437.6,141.7 439.3,141.8 441.1,141.9 442.8,142.0 444.6,142.1 446.3,142.1 448.0,142.1 449.8,142.1 451.5,142.0 453.3,142.0 455.1,141.9 456.8,141.8 458.6,141.7 460.3,141.6 462.1,141.4 463.9,141.3 465.6,141.1 467.4,140.9 469.1,140.7 470.9,140.5 472.7,140.3 474.7,140.0 476.7,139.8 478.7,139.5 480.7,139.2 482.7,138.9 484.4,138.7 486.0,138.4 487.4,138.2 488.4,138.0 488.4,148.0 487.4,147.9 486.0,147.9 484.4,147.8 482.7,147.7 480.7,147.7 478.7,147.6 476.7,147.6 474.7,147.5 472.7,147.5 470.9,147.5 469.1,147.5 467.4,147.5 465.6,147.6 463.9,147.6 462.1,147.7 460.3,147.8 458.6,147.8 456.8,147.9 455.1,147.9 453.3,148.0 451.5,148.1 449.8,148.1 448.0,148.2 446.3,148.2 444.6,148.3 442.8,148.4 441.1,148.4 439.3,148.5 437.6,148.5 435.8,148.5 434.0,148.5 432.0,148.4 430.0,148.4 427.9,148.3 425.9,148.2 424.0,148.1 422.2,148.1 420.6,148.0 419.2,148.0 418.2,148.0" fill="#eeb4bd" fill-opacity="0.4"/><polyline points="418.2,143.0 419.2,143.1 420.6,143.3 422.2,143.5 424.0,143.8 425.9,144.0 427.9,144.2 430.0,144.5 432.0,144.7 434.0,144.9 435.8,145.0 437.6,145.1 439.3,145.1 441.1,145.2 442.8,145.2 444.6,145.2 446.3,145.2 448.0,145.1 449.8,145.1 451.5,145.0 453.3,145.0 455.1,144.9 456.8,144.9 458.6,144.8 460.3,144.7 462.1,144.6 463.9,144.4 465.6,144.3 467.4,144.2 469.1,144.1 470.9,144.0 472.7,143.9 474.7,143.8 476.7,143.7 478.7,143.6 480.7,143.4 482.7,143.3 484.4,143.2 486.0,143.1 487.4,143.1 488.4,143.0" fill="none" stroke="#d9707f" stroke-width="0.6" stroke-opacity="0.9"/><polygon points="418.2,138.5 419.2,138.8 420.6,139.2 422.2,139.7 424.0,140.3 425.9,140.8 427.9,141.4 430.0,141.9 432.0,142.4 434.0,142.7 435.8,143.0 437.6,143.2 439.3,143.2 441.1,143.3 442.8,143.2 444.6,143.1 446.3,143.0 448.0,142.9 449.8,142.7 451.5,142.6 453.3,142.5 455.1,142.4 456.8,142.3 458.6,142.1 460.3,142.0 462.1,141.8 463.9,141.7 465.6,141.5 467.4,141.3 469.1,141.2 470.9,141.0 472.7,140.8 474.7,140.6 476.7,140.4 478.7,140.2 480.7,140.0 482.7,139.7 484.4,139.5 486.0,139.3 487.4,139.1 488.4,139.0 488.4,150.0 487.4,149.9 486.0,149.8 484.4,149.7 482.7,149.5 480.7,149.4 478.7,149.3 476.7,149.2 474.7,149.1 472.7,149.0 470.9,149.0 469.1,149.0 467.4,149.0 465.6,149.0 463.9,149.0 462.1,149.1 460.3,149.2 458.6,149.2 456.8,149.3 455.1,149.4 453.3,149.5 451.5,149.6 449.8,149.8 448.0,150.0 446.3,150.2 444.6,150.4 442.8,150.6 441.1,150.7 439.3,150.9 437.6,151.0 435.8,151.0 434.0,151.0 432.0,150.8 430.0,150.7 427.9,150.5 425.9,150.3 424.0,150.1 422.2,149.9 420.6,149.7 419.2,149.6 418.2,149.5" fill="#6cc2b9" fill-opacity="0.62"/><polyline points="418.2,144.0 419.2,144.2 420.6,144.5 422.2,144.8 424.0,145.2 425.9,145.6 427.9,145.9 430.0,146.3 432.0,146.6 434.0,146.8 435.8,147.0 437.6,147.1 439.3,147.1 441.1,147.0 442.8,146.9 444.6,146.8 446.3,146.6 448.0,146.4 449.8,146.3 451.5,146.1 453.3,146.0 455.1,145.9 456.8,145.8 458.6,145.7 460.3,145.6 462.1,145.5 463.9,145.4 465.6,145.3 467.4,145.2 469.1,145.1 470.9,145.0 472.7,144.9 474.7,144.9 476.7,144.8 478.7,144.7 480.7,144.7 482.7,144.6 484.4,144.6 486.0,144.6 487.4,144.5 488.4,144.5" fill="none" stroke="#279a90" stroke-width="0.8" stroke-opacity="0.9"/><circle cx="418.2" cy="143.0" r="0.3" fill="#444" fill-opacity="0.55"/><circle cx="435.8" cy="149.0" r="0.3" fill="#444" fill-opacity="0.55"/><circle cx="453.3" cy="146.0" r="0.3" fill="#444" fill-opacity="0.55"/><circle cx="470.9" cy="146.0" r="0.3" fill="#444" fill-opacity="0.55"/><circle cx="488.4" cy="152.0" r="0.3" fill="#444" fill-opacity="0.55"/><circle cx="418.2" cy="146.0" r="0.3" fill="#444" fill-opacity="0.55"/><circle cx="435.8" cy="156.0" r="0.3" fill="#444" fill-opacity="0.55"/><circle cx="453.3" cy="152.0" r="0.3" fill="#444" fill-opacity="0.55"/><circle cx="470.9" cy="152.0" r="0.3" fill="#444" fill-opacity="0.55"/><circle cx="488.4" cy="146.0" r="0.3" fill="#444" fill-opacity="0.55"/><circle cx="418.2" cy="140.0" r="0.3" fill="#444" fill-opacity="0.55"/><circle cx="435.8" cy="140.0" r="0.3" fill="#444" fill-opacity="0.55"/><circle cx="453.3" cy="140.0" r="0.3" fill="#444" fill-opacity="0.55"/><circle cx="470.9" cy="143.0" r="0.3" fill="#444" fill-opacity="0.55"/><circle cx="488.4" cy="146.0" r="0.3" fill="#444" fill-opacity="0.55"/><circle cx="418.2" cy="156.0" r="0.3" fill="#444" fill-opacity="0.55"/><circle cx="435.8" cy="162.0" r="0.3" fill="#444" fill-opacity="0.55"/><circle cx="453.3" cy="156.0" r="0.3" fill="#444" fill-opacity="0.55"/><circle cx="470.9" cy="156.0" r="0.3" fill="#444" fill-opacity="0.55"/><circle cx="488.4" cy="149.0" r="0.3" fill="#444" fill-opacity="0.55"/><circle cx="418.2" cy="140.0" r="0.3" fill="#444" fill-opacity="0.55"/><circle cx="435.8" cy="152.0" r="0.3" fill="#444" fill-opacity="0.55"/><circle cx="453.3" cy="149.0" r="0.3" fill="#444" fill-opacity="0.55"/><circle cx="470.9" cy="136.0" r="0.3" fill="#444" fill-opacity="0.55"/><circle cx="488.4" cy="136.0" r="0.3" fill="#444" fill-opacity="0.55"/><circle cx="418.2" cy="143.0" r="0.3" fill="#444" fill-opacity="0.55"/><circle cx="435.8" cy="136.0" r="0.3" fill="#444" fill-opacity="0.55"/><circle cx="453.3" cy="131.0" r="0.3" fill="#444" fill-opacity="0.55"/><circle cx="470.9" cy="136.0" r="0.3" fill="#444" fill-opacity="0.55"/><circle cx="488.4" cy="131.0" r="0.3" fill="#444" fill-opacity="0.55"/><circle cx="418.2" cy="140.0" r="0.3" fill="#444" fill-opacity="0.55"/><circle cx="435.8" cy="143.0" r="0.3" fill="#444" fill-opacity="0.55"/><circle cx="453.3" cy="152.0" r="0.3" fill="#444" fill-opacity="0.55"/><circle cx="470.9" cy="149.0" r="0.3" fill="#444" fill-opacity="0.55"/><circle cx="488.4" cy="143.0" r="0.3" fill="#444" fill-opacity="0.55"/><circle cx="418.2" cy="143.0" r="0.3" fill="#444" fill-opacity="0.55"/><circle cx="435.8" cy="152.0" r="0.3" fill="#444" fill-opacity="0.55"/><circle cx="453.3" cy="146.0" r="0.3" fill="#444" fill-opacity="0.55"/><circle cx="470.9" cy="156.0" r="0.3" fill="#444" fill-opacity="0.55"/><circle cx="488.4" cy="146.0" r="0.3" fill="#444" fill-opacity="0.55"/><circle cx="418.2" cy="136.0" r="0.3" fill="#444" fill-opacity="0.55"/><circle cx="435.8" cy="140.0" r="0.3" fill="#444" fill-opacity="0.55"/><circle cx="453.3" cy="131.0" r="0.3" fill="#444" fill-opacity="0.55"/><circle cx="470.9" cy="131.0" r="0.3" fill="#444" fill-opacity="0.55"/><circle cx="488.4" cy="136.0" r="0.3" fill="#444" fill-opacity="0.55"/><circle cx="418.2" cy="149.0" r="0.3" fill="#444" fill-opacity="0.55"/><circle cx="435.8" cy="152.0" r="0.3" fill="#444" fill-opacity="0.55"/><circle cx="453.3" cy="149.0" r="0.3" fill="#444" fill-opacity="0.55"/><circle cx="470.9" cy="156.0" r="0.3" fill="#444" fill-opacity="0.55"/><circle cx="488.4" cy="156.0" r="0.3" fill="#444" fill-opacity="0.55"/><circle cx="418.2" cy="143.0" r="0.3" fill="#444" fill-opacity="0.55"/><circle cx="435.8" cy="152.0" r="0.3" fill="#444" fill-opacity="0.55"/><circle cx="453.3" cy="146.0" r="0.3" fill="#444" fill-opacity="0.55"/><circle cx="470.9" cy="146.0" r="0.3" fill="#444" fill-opacity="0.55"/><circle cx="488.4" cy="149.0" r="0.3" fill="#444" fill-opacity="0.55"/><circle cx="418.2" cy="143.0" r="0.3" fill="#444" fill-opacity="0.55"/><circle cx="435.8" cy="143.0" r="0.3" fill="#444" fill-opacity="0.55"/><circle cx="453.3" cy="143.0" r="0.3" fill="#444" fill-opacity="0.55"/><circle cx="470.9" cy="140.0" r="0.3" fill="#444" fill-opacity="0.55"/><circle cx="488.4" cy="136.0" r="0.3" fill="#444" fill-opacity="0.55"/><circle cx="418.2" cy="136.0" r="0.3" fill="#444" fill-opacity="0.55"/><circle cx="435.8" cy="149.0" r="0.3" fill="#444" fill-opacity="0.55"/><circle cx="453.3" cy="143.0" r="0.3" fill="#444" fill-opacity="0.55"/><circle cx="470.9" cy="149.0" r="0.3" fill="#444" fill-opacity="0.55"/><circle cx="488.4" cy="152.0" r="0.3" fill="#444" fill-opacity="0.55"/><circle cx="418.2" cy="143.0" r="0.3" fill="#444" fill-opacity="0.55"/><circle cx="435.8" cy="149.0" r="0.3" fill="#444" fill-opacity="0.55"/><circle cx="453.3" cy="149.0" r="0.3" fill="#444" fill-opacity="0.55"/><circle cx="470.9" cy="149.0" r="0.3" fill="#444" fill-opacity="0.55"/><circle cx="488.4" cy="140.0" r="0.3" fill="#444" fill-opacity="0.55"/><circle cx="418.2" cy="143.0" r="0.3" fill="#444" fill-opacity="0.55"/><circle cx="435.8" cy="152.0" r="0.3" fill="#444" fill-opacity="0.55"/><circle cx="453.3" cy="152.0" r="0.3" fill="#444" fill-opacity="0.55"/><circle cx="470.9" cy="162.0" r="0.3" fill="#444" fill-opacity="0.55"/><circle cx="488.4" cy="170.0" r="0.3" fill="#444" fill-opacity="0.55"/><circle cx="418.2" cy="146.0" r="0.3" fill="#444" fill-opacity="0.55"/><circle cx="435.8" cy="162.0" r="0.3" fill="#444" fill-opacity="0.55"/><circle cx="453.3" cy="149.0" r="0.3" fill="#444" fill-opacity="0.55"/><circle cx="470.9" cy="149.0" r="0.3" fill="#444" fill-opacity="0.55"/><circle cx="488.4" cy="131.0" r="0.3" fill="#444" fill-opacity="0.55"/><circle cx="418.2" cy="149.0" r="0.3" fill="#444" fill-opacity="0.55"/><circle cx="435.8" cy="152.0" r="0.3" fill="#444" fill-opacity="0.55"/><circle cx="453.3" cy="162.0" r="0.3" fill="#444" fill-opacity="0.55"/><circle cx="470.9" cy="156.0" r="0.3" fill="#444" fill-opacity="0.55"/><circle cx="488.4" cy="146.0" r="0.3" fill="#444" fill-opacity="0.55"/><circle cx="418.2" cy="152.0" r="0.3" fill="#444" fill-opacity="0.55"/><circle cx="435.8" cy="146.0" r="0.3" fill="#444" fill-opacity="0.55"/><circle cx="453.3" cy="136.0" r="0.3" fill="#444" fill-opacity="0.55"/><circle cx="470.9" cy="136.0" r="0.3" fill="#444" fill-opacity="0.55"/><circle cx="488.4" cy="140.0" r="0.3" fill="#444" fill-opacity="0.55"/><circle cx="418.2" cy="140.0" r="0.3" fill="#444" fill-opacity="0.55"/><circle cx="435.8" cy="143.0" r="0.3" fill="#444" fill-opacity="0.55"/><circle cx="453.3" cy="131.0" r="0.3" fill="#444" fill-opacity="0.55"/><circle cx="470.9" cy="143.0" r="0.3" fill="#444" fill-opacity="0.55"/><circle cx="488.4" cy="140.0" r="0.3" fill="#444" fill-opacity="0.55"/><circle cx="418.2" cy="146.0" r="0.3" fill="#444" fill-opacity="0.55"/><circle cx="435.8" cy="149.0" r="0.3" fill="#444" fill-opacity="0.55"/><circle cx="453.3" cy="149.0" r="0.3" fill="#444" fill-opacity="0.55"/><circle cx="470.9" cy="152.0" r="0.3" fill="#444" fill-opacity="0.55"/><circle cx="488.4" cy="146.0" r="0.3" fill="#444" fill-opacity="0.55"/><circle cx="418.2" cy="143.0" r="0.3" fill="#444" fill-opacity="0.55"/><circle cx="435.8" cy="149.0" r="0.3" fill="#444" fill-opacity="0.55"/><circle cx="453.3" cy="152.0" r="0.3" fill="#444" fill-opacity="0.55"/><circle cx="470.9" cy="152.0" r="0.3" fill="#444" fill-opacity="0.55"/><circle cx="488.4" cy="152.0" r="0.3" fill="#444" fill-opacity="0.55"/><circle cx="418.2" cy="146.0" r="0.3" fill="#444" fill-opacity="0.55"/><circle cx="435.8" cy="152.0" r="0.3" fill="#444" fill-opacity="0.55"/><circle cx="453.3" cy="152.0" r="0.3" fill="#444" fill-opacity="0.55"/><circle cx="470.9" cy="149.0" r="0.3" fill="#444" fill-opacity="0.55"/><circle cx="488.4" cy="146.0" r="0.3" fill="#444" fill-opacity="0.55"/><circle cx="418.2" cy="152.0" r="0.3" fill="#444" fill-opacity="0.55"/><circle cx="435.8" cy="156.0" r="0.3" fill="#444" fill-opacity="0.55"/><circle cx="453.3" cy="152.0" r="0.3" fill="#444" fill-opacity="0.55"/><circle cx="470.9" cy="170.0" r="0.3" fill="#444" fill-opacity="0.55"/><circle cx="488.4" cy="170.0" r="0.3" fill="#444" fill-opacity="0.55"/><circle cx="418.2" cy="149.0" r="0.3" fill="#444" fill-opacity="0.55"/><circle cx="435.8" cy="152.0" r="0.3" fill="#444" fill-opacity="0.55"/><circle cx="453.3" cy="146.0" r="0.3" fill="#444" fill-opacity="0.55"/><circle cx="470.9" cy="152.0" r="0.3" fill="#444" fill-opacity="0.55"/><circle cx="488.4" cy="149.0" r="0.3" fill="#444" fill-opacity="0.55"/><circle cx="418.2" cy="143.0" r="0.3" fill="#444" fill-opacity="0.55"/><circle cx="435.8" cy="152.0" r="0.3" fill="#444" fill-opacity="0.55"/><circle cx="453.3" cy="156.0" r="0.3" fill="#444" fill-opacity="0.55"/><circle cx="470.9" cy="162.0" r="0.3" fill="#444" fill-opacity="0.55"/><circle cx="488.4" cy="156.0" r="0.3" fill="#444" fill-opacity="0.55"/><circle cx="418.2" cy="156.0" r="0.3" fill="#444" fill-opacity="0.55"/><circle cx="435.8" cy="162.0" r="0.3" fill="#444" fill-opacity="0.55"/><circle cx="453.3" cy="156.0" r="0.3" fill="#444" fill-opacity="0.55"/><circle cx="470.9" cy="162.0" r="0.3" fill="#444" fill-opacity="0.55"/><circle cx="488.4" cy="162.0" r="0.3" fill="#444" fill-opacity="0.55"/><circle cx="418.2" cy="143.0" r="0.3" fill="#444" fill-opacity="0.55"/><circle cx="435.8" cy="149.0" r="0.3" fill="#444" fill-opacity="0.55"/><circle cx="453.3" cy="152.0" r="0.3" fill="#444" fill-opacity="0.55"/><circle cx="470.9" cy="162.0" r="0.3" fill="#444" fill-opacity="0.55"/><circle cx="488.4" cy="162.0" r="0.3" fill="#444" fill-opacity="0.55"/><circle cx="418.2" cy="146.0" r="0.3" fill="#444" fill-opacity="0.55"/><circle cx="435.8" cy="156.0" r="0.3" fill="#444" fill-opacity="0.55"/><circle cx="453.3" cy="149.0" r="0.3" fill="#444" fill-opacity="0.55"/><circle cx="470.9" cy="156.0" r="0.3" fill="#444" fill-opacity="0.55"/><circle cx="488.4" cy="156.0" r="0.3" fill="#444" fill-opacity="0.55"/><circle cx="418.2" cy="152.0" r="0.3" fill="#444" fill-opacity="0.55"/><circle cx="435.8" cy="149.0" r="0.3" fill="#444" fill-opacity="0.55"/><circle cx="453.3" cy="149.0" r="0.3" fill="#444" fill-opacity="0.55"/><circle cx="470.9" cy="140.0" r="0.3" fill="#444" fill-opacity="0.55"/><circle cx="488.4" cy="136.0" r="0.3" fill="#444" fill-opacity="0.55"/><circle cx="418.2" cy="143.0" r="0.3" fill="#444" fill-opacity="0.55"/><circle cx="435.8" cy="149.0" r="0.3" fill="#444" fill-opacity="0.55"/><circle cx="453.3" cy="162.0" r="0.3" fill="#444" fill-opacity="0.55"/><circle cx="470.9" cy="170.0" r="0.3" fill="#444" fill-opacity="0.55"/><circle cx="488.4" cy="162.0" r="0.3" fill="#444" fill-opacity="0.55"/><circle cx="418.2" cy="140.0" r="0.3" fill="#444" fill-opacity="0.55"/><circle cx="435.8" cy="149.0" r="0.3" fill="#444" fill-opacity="0.55"/><circle cx="453.3" cy="152.0" r="0.3" fill="#444" fill-opacity="0.55"/><circle cx="470.9" cy="143.0" r="0.3" fill="#444" fill-opacity="0.55"/><circle cx="488.4" cy="143.0" r="0.3" fill="#444" fill-opacity="0.55"/><circle cx="418.2" cy="136.0" r="0.3" fill="#444" fill-opacity="0.55"/><circle cx="435.8" cy="136.0" r="0.3" fill="#444" fill-opacity="0.55"/><circle cx="453.3" cy="136.0" r="0.3" fill="#444" fill-opacity="0.55"/><circle cx="470.9" cy="136.0" r="0.3" fill="#444" fill-opacity="0.55"/><circle cx="488.4" cy="146.0" r="0.3" fill="#444" fill-opacity="0.55"/><circle cx="418.2" cy="146.0" r="0.3" fill="#444" fill-opacity="0.55"/><circle cx="435.8" cy="149.0" r="0.3" fill="#444" fill-opacity="0.55"/><circle cx="453.3" cy="162.0" r="0.3" fill="#444" fill-opacity="0.55"/><circle cx="470.9" cy="156.0" r="0.3" fill="#444" fill-opacity="0.55"/><circle cx="488.4" cy="156.0" r="0.3" fill="#444" fill-opacity="0.55"/><circle cx="418.2" cy="143.0" r="0.3" fill="#444" fill-opacity="0.55"/><circle cx="435.8" cy="146.0" r="0.3" fill="#444" fill-opacity="0.55"/><circle cx="453.3" cy="143.0" r="0.3" fill="#444" fill-opacity="0.55"/><circle cx="470.9" cy="152.0" r="0.3" fill="#444" fill-opacity="0.55"/><circle cx="488.4" cy="149.0" r="0.3" fill="#444" fill-opacity="0.55"/><circle cx="418.2" cy="146.0" r="0.3" fill="#444" fill-opacity="0.55"/><circle cx="435.8" cy="152.0" r="0.3" fill="#444" fill-opacity="0.55"/><circle cx="453.3" cy="146.0" r="0.3" fill="#444" fill-opacity="0.55"/><circle cx="470.9" cy="140.0" r="0.3" fill="#444" fill-opacity="0.55"/><circle cx="488.4" cy="136.0" r="0.3" fill="#444" fill-opacity="0.55"/><circle cx="418.2" cy="131.0" r="0.3" fill="#444" fill-opacity="0.55"/><circle cx="435.8" cy="136.0" r="0.3" fill="#444" fill-opacity="0.55"/><circle cx="453.3" cy="131.0" r="0.3" fill="#444" fill-opacity="0.55"/><circle cx="470.9" cy="136.0" r="0.3" fill="#444" fill-opacity="0.55"/><circle cx="488.4" cy="131.0" r="0.3" fill="#444" fill-opacity="0.55"/><circle cx="418.2" cy="146.0" r="0.3" fill="#444" fill-opacity="0.55"/><circle cx="435.8" cy="146.0" r="0.3" fill="#444" fill-opacity="0.55"/><circle cx="453.3" cy="149.0" r="0.3" fill="#444" fill-opacity="0.55"/><circle cx="470.9" cy="140.0" r="0.3" fill="#444" fill-opacity="0.55"/><circle cx="488.4" cy="143.0" r="0.3" fill="#444" fill-opacity="0.55"/><circle cx="418.2" cy="140.0" r="0.3" fill="#444" fill-opacity="0.55"/><circle cx="435.8" cy="143.0" r="0.3" fill="#444" fill-opacity="0.55"/><circle cx="453.3" cy="140.0" r="0.3" fill="#444" fill-opacity="0.55"/><circle cx="470.9" cy="136.0" r="0.3" fill="#444" fill-opacity="0.55"/><circle cx="488.4" cy="131.0" r="0.3" fill="#444" fill-opacity="0.55"/><circle cx="418.2" cy="152.0" r="0.3" fill="#444" fill-opacity="0.55"/><circle cx="435.8" cy="149.0" r="0.3" fill="#444" fill-opacity="0.55"/><circle cx="453.3" cy="140.0" r="0.3" fill="#444" fill-opacity="0.55"/><circle cx="470.9" cy="140.0" r="0.3" fill="#444" fill-opacity="0.55"/><circle cx="488.4" cy="140.0" r="0.3" fill="#444" fill-opacity="0.55"/><circle cx="418.2" cy="143.0" r="0.3" fill="#444" fill-opacity="0.55"/><circle cx="435.8" cy="140.0" r="0.3" fill="#444" fill-opacity="0.55"/><circle cx="453.3" cy="136.0" r="0.3" fill="#444" fill-opacity="0.55"/><circle cx="470.9" cy="140.0" r="0.3" fill="#444" fill-opacity="0.55"/><circle cx="488.4" cy="136.0" r="0.3" fill="#444" fill-opacity="0.55"/><circle cx="418.2" cy="149.0" r="0.3" fill="#444" fill-opacity="0.55"/><circle cx="435.8" cy="156.0" r="0.3" fill="#444" fill-opacity="0.55"/><circle cx="453.3" cy="152.0" r="0.3" fill="#444" fill-opacity="0.55"/><circle cx="470.9" cy="146.0" r="0.3" fill="#444" fill-opacity="0.55"/><circle cx="488.4" cy="156.0" r="0.3" fill="#444" fill-opacity="0.55"/><circle cx="418.2" cy="146.0" r="0.3" fill="#444" fill-opacity="0.55"/><circle cx="435.8" cy="149.0" r="0.3" fill="#444" fill-opacity="0.55"/><circle cx="453.3" cy="146.0" r="0.3" fill="#444" fill-opacity="0.55"/><circle cx="470.9" cy="140.0" r="0.3" fill="#444" fill-opacity="0.55"/><circle cx="488.4" cy="136.0" r="0.3" fill="#444" fill-opacity="0.55"/><circle cx="418.2" cy="146.0" r="0.3" fill="#444" fill-opacity="0.55"/><circle cx="435.8" cy="143.0" r="0.3" fill="#444" fill-opacity="0.55"/><circle cx="453.3" cy="143.0" r="0.3" fill="#444" fill-opacity="0.55"/><circle cx="470.9" cy="149.0" r="0.3" fill="#444" fill-opacity="0.55"/><circle cx="488.4" cy="149.0" r="0.3" fill="#444" fill-opacity="0.55"/><circle cx="418.2" cy="143.0" r="0.3" fill="#444" fill-opacity="0.55"/><circle cx="435.8" cy="152.0" r="0.3" fill="#444" fill-opacity="0.55"/><circle cx="453.3" cy="156.0" r="0.3" fill="#444" fill-opacity="0.55"/><circle cx="470.9" cy="162.0" r="0.3" fill="#444" fill-opacity="0.55"/><circle cx="488.4" cy="156.0" r="0.3" fill="#444" fill-opacity="0.55"/><circle cx="418.2" cy="131.0" r="0.3" fill="#444" fill-opacity="0.55"/><circle cx="435.8" cy="140.0" r="0.3" fill="#444" fill-opacity="0.55"/><circle cx="453.3" cy="140.0" r="0.3" fill="#444" fill-opacity="0.55"/><circle cx="470.9" cy="136.0" r="0.3" fill="#444" fill-opacity="0.55"/><circle cx="488.4" cy="140.0" r="0.3" fill="#444" fill-opacity="0.55"/><circle cx="418.2" cy="140.0" r="0.3" fill="#444" fill-opacity="0.55"/><circle cx="435.8" cy="140.0" r="0.3" fill="#444" fill-opacity="0.55"/><circle cx="453.3" cy="149.0" r="0.3" fill="#444" fill-opacity="0.55"/><circle cx="470.9" cy="140.0" r="0.3" fill="#444" fill-opacity="0.55"/><circle cx="488.4" cy="143.0" r="0.3" fill="#444" fill-opacity="0.55"/><circle cx="418.2" cy="149.0" r="0.3" fill="#444" fill-opacity="0.55"/><circle cx="435.8" cy="162.0" r="0.3" fill="#444" fill-opacity="0.55"/><circle cx="453.3" cy="162.0" r="0.3" fill="#444" fill-opacity="0.55"/><circle cx="470.9" cy="170.0" r="0.3" fill="#444" fill-opacity="0.55"/><circle cx="488.4" cy="162.0" r="0.3" fill="#444" fill-opacity="0.55"/><circle cx="418.2" cy="143.0" r="0.3" fill="#444" fill-opacity="0.55"/><circle cx="435.8" cy="136.0" r="0.3" fill="#444" fill-opacity="0.55"/><circle cx="453.3" cy="131.0" r="0.3" fill="#444" fill-opacity="0.55"/><circle cx="470.9" cy="131.0" r="0.3" fill="#444" fill-opacity="0.55"/><circle cx="488.4" cy="131.0" r="0.3" fill="#444" fill-opacity="0.55"/><rect x="448.8" y="205.0" width="9" height="1.0" fill="#bdbdbd"/><rect x="417.4" y="203.6" width="1.6" height="0.8" fill="#c4c4c4"/><rect x="435.0" y="203.6" width="1.6" height="0.8" fill="#c4c4c4"/><rect x="452.5" y="203.6" width="1.6" height="0.8" fill="#c4c4c4"/><rect x="470.1" y="203.6" width="1.6" height="0.8" fill="#c4c4c4"/><rect x="487.6" y="203.6" width="1.6" height="0.8" fill="#c4c4c4"/><rect x="405.8" y="132.5" width="1.6" height="1.0" fill="#b0b0b0"/><rect x="405.8" y="156.6" width="1.6" height="1.0" fill="#b0b0b0"/><rect x="405.8" y="181.6" width="1.6" height="1.0" fill="#b0b0b0"/><rect x="403.4" y="160.4" width="1.0" height="10.6" fill="#b8b8b8"/><rect x="500.8" y="162.0" width="11.0" height="1.0" fill="#a6a6a6"/><rect x="500.8" y="164.7" width="2.4" height="1.9" fill="#c8c8c8"/><rect x="501.1" y="165.0" width="1.8" height="1.3" fill="#e9a6b0"/><rect x="500.8" y="167.4" width="2.4" height="1.9" fill="#c8c8c8"/><rect x="501.1" y="167.7" width="1.8" height="1.3" fill="#6cc0b8"/><rect x="504.0" y="165.2" width="7.8" height="0.9" fill="#c2c2c2"/><rect x="504.0" y="167.9" width="8.8" height="0.9" fill="#c2c2c2"/><rect x="294.5" y="223.5" width="95.0" height="76.0" fill="#fff" stroke="#c4c4c4" stroke-width="0.7"/><polyline points="305.4,261.0 323.7,252.9 342.1,258.0 360.4,254.7 378.7,253.8" fill="none" stroke="#b6b6b6" stroke-width="0.42"/><polyline points="305.4,260.7 323.7,265.2 342.1,262.2 360.4,262.7 378.7,259.3" fill="none" stroke="#b6b6b6" stroke-width="0.42"/><polyline points="305.4,261.7 323.7,265.7 342.1,264.1 360.4,262.8 378.7,261.7" fill="none" stroke="#8a8a8a" stroke-width="0.42"/><polyline points="305.4,273.9 323.7,273.1 342.1,269.8 360.4,269.4 378.7,264.8" fill="none" stroke="#c0c0c0" stroke-width="0.42"/><polyline points="305.4,261.5 323.7,260.7 342.1,261.6 360.4,258.6 378.7,259.7" fill="none" stroke="#8a8a8a" stroke-width="0.42"/><polyline points="305.4,280.4 323.7,276.9 342.1,285.8 360.4,278.9 378.7,275.1" fill="none" stroke="#aaaaaa" stroke-width="0.42"/><polyline points="305.4,246.3 323.7,243.1 342.1,250.4 360.4,247.6 378.7,244.2" fill="none" stroke="#7a7a7a" stroke-width="0.42"/><polyline points="305.4,252.1 323.7,252.0 342.1,252.1 360.4,249.4 378.7,253.9" fill="none" stroke="#7a7a7a" stroke-width="0.42"/><polyline points="305.4,257.6 323.7,253.4 342.1,249.6 360.4,255.5 378.7,249.2" fill="none" stroke="#7a7a7a" stroke-width="0.42"/><polyline points="305.4,260.8 323.7,259.5 342.1,257.1 360.4,257.0 378.7,254.8" fill="none" stroke="#7a7a7a" stroke-width="0.42"/><polyline points="305.4,260.8 323.7,259.2 342.1,259.1 360.4,254.4 378.7,251.8" fill="none" stroke="#8a8a8a" stroke-width="0.42"/><polyline points="305.4,261.3 323.7,264.5 342.1,272.5 360.4,273.7 378.7,279.7" fill="none" stroke="#8a8a8a" stroke-width="0.42"/><polyline points="305.4,274.9 323.7,272.6 342.1,268.6 360.4,271.4 378.7,269.8" fill="none" stroke="#8a8a8a" stroke-width="0.42"/><polyline points="305.4,256.8 323.7,258.1 342.1,249.5 360.4,257.9 378.7,258.7" fill="none" stroke="#7a7a7a" stroke-width="0.42"/><polyline points="305.4,253.8 323.7,257.5 342.1,259.6 360.4,256.8 378.7,260.4" fill="none" stroke="#aaaaaa" stroke-width="0.42"/><polyline points="305.4,255.7 323.7,253.7 342.1,254.9 360.4,255.9 378.7,255.3" fill="none" stroke="#aaaaaa" stroke-width="0.42"/><polyline points="305.4,255.5 323.7,254.4 342.1,264.6 360.4,267.2 378.7,260.2" fill="none" stroke="#c0c0c0" stroke-width="0.42"/><polyline points="305.4,259.7 323.7,252.4 342.1,247.3 360.4,242.2 378.7,241.7" fill="none" stroke="#9a9a9a" stroke-width="0.42"/><polyline points="305.4,259.5 323.7,258.0 342.1,249.4 360.4,248.7 378.7,252.2" fill="none" stroke="#7a7a7a" stroke-width="0.42"/><polyline points="305.4,279.8 323.7,274.0 342.1,267.8 360.4,270.2 378.7,271.5" fill="none" stroke="#aaaaaa" stroke-width="0.42"/><polyline points="305.4,256.8 323.7,253.1 342.1,237.5 360.4,240.9 378.7,247.1" fill="none" stroke="#aaaaaa" stroke-width="0.42"/><polyline points="305.4,237.9 323.7,237.5 342.1,237.0 360.4,237.3 378.7,235.8" fill="none" stroke="#9a9a9a" stroke-width="0.42"/><polyline points="305.4,255.5 323.7,257.6 342.1,266.7 360.4,265.0 378.7,258.9" fill="none" stroke="#b6b6b6" stroke-width="0.42"/><polyline points="305.4,252.7 323.7,254.4 342.1,255.1 360.4,255.7 378.7,243.9" fill="none" stroke="#aaaaaa" stroke-width="0.42"/><polyline points="305.4,257.7 323.7,250.0 342.1,247.0 360.4,240.4 378.7,238.7" fill="none" stroke="#9a9a9a" stroke-width="0.42"/><polyline points="305.4,251.6 323.7,249.7 342.1,253.2 360.4,253.0 378.7,243.4" fill="none" stroke="#aaaaaa" stroke-width="0.42"/><polyline points="305.4,247.0 323.7,244.0 342.1,242.5 360.4,241.2 378.7,235.6" fill="none" stroke="#aaaaaa" stroke-width="0.42"/><polyline points="305.4,259.6 323.7,251.4 342.1,252.1 360.4,246.8 378.7,237.7" fill="none" stroke="#7a7a7a" stroke-width="0.42"/><polyline points="305.4,250.9 323.7,244.7 342.1,245.5 360.4,241.2 378.7,244.8" fill="none" stroke="#8a8a8a" stroke-width="0.42"/><polyline points="305.4,243.5 323.7,252.4 342.1,249.9 360.4,244.0 378.7,241.3" fill="none" stroke="#8a8a8a" stroke-width="0.42"/><polyline points="305.4,248.6 323.7,239.5 342.1,239.5 360.4,239.4 378.7,235.9" fill="none" stroke="#c0c0c0" stroke-width="0.42"/><polyline points="305.4,244.5 323.7,244.5 342.1,238.3 360.4,235.2 378.7,228.7" fill="none" stroke="#8a8a8a" stroke-width="0.42"/><polyline points="305.4,259.6 323.7,253.0 342.1,251.8 360.4,249.8 378.7,250.7" fill="none" stroke="#7a7a7a" stroke-width="0.42"/><polyline points="305.4,252.0 323.7,252.2 342.1,257.1 360.4,255.3 378.7,252.3" fill="none" stroke="#9a9a9a" stroke-width="0.42"/><polyline points="305.4,261.5 323.7,261.8 342.1,263.1 360.4,264.7 378.7,264.1" fill="none" stroke="#aaaaaa" stroke-width="0.42"/><polyline points="305.4,255.4 323.7,250.6 342.1,250.5 360.4,245.4 378.7,239.1" fill="none" stroke="#aaaaaa" stroke-width="0.42"/><polyline points="305.4,261.7 323.7,260.6 342.1,256.9 360.4,257.7 378.7,253.6" fill="none" stroke="#8a8a8a" stroke-width="0.42"/><polyline points="305.4,266.0 323.7,264.2 342.1,264.0 360.4,261.6 378.7,258.2" fill="none" stroke="#b6b6b6" stroke-width="0.42"/><polyline points="305.4,254.3 323.7,257.7 342.1,263.9 360.4,261.0 378.7,251.0" fill="none" stroke="#9a9a9a" stroke-width="0.42"/><polyline points="305.4,252.2 323.7,249.7 342.1,250.3 360.4,245.1 378.7,239.4" fill="none" stroke="#7a7a7a" stroke-width="0.42"/><polyline points="305.4,282.1 323.7,280.0 342.1,274.0 360.4,279.8 378.7,280.2" fill="none" stroke="#9a9a9a" stroke-width="0.42"/><polyline points="305.4,262.0 323.7,259.3 342.1,256.9 360.4,250.1 378.7,240.4" fill="none" stroke="#8a8a8a" stroke-width="0.42"/><polyline points="305.4,254.8 323.7,255.0 342.1,251.3 360.4,260.6 378.7,249.3" fill="none" stroke="#9a9a9a" stroke-width="0.42"/><polyline points="305.4,288.2 323.7,284.7 342.1,281.9 360.4,285.5 378.7,282.8" fill="none" stroke="#c0c0c0" stroke-width="0.42"/><polyline points="305.4,248.7 323.7,258.1 342.1,253.8 360.4,253.0 378.7,248.5" fill="none" stroke="#8a8a8a" stroke-width="0.42"/><polyline points="305.4,261.2 323.7,257.1 342.1,257.2 360.4,257.7 378.7,246.5" fill="none" stroke="#7a7a7a" stroke-width="0.42"/><polyline points="305.4,253.4 323.7,251.7 342.1,257.1 360.4,253.4 378.7,251.5" fill="none" stroke="#aaaaaa" stroke-width="0.42"/><polyline points="305.4,253.3 323.7,255.6 342.1,254.4 360.4,249.9 378.7,244.3" fill="none" stroke="#7a7a7a" stroke-width="0.42"/><polyline points="305.4,247.6 323.7,242.6 342.1,246.6 360.4,250.1 378.7,246.2" fill="none" stroke="#9a9a9a" stroke-width="0.42"/><polyline points="305.4,249.1 323.7,246.7 342.1,250.4 360.4,245.7 378.7,244.7" fill="none" stroke="#9a9a9a" stroke-width="0.42"/><polyline points="305.4,259.5 323.7,257.9 342.1,256.8 360.4,260.2 378.7,267.3" fill="none" stroke="#9a9a9a" stroke-width="0.42"/><polyline points="305.4,250.5 323.7,256.4 342.1,256.0 360.4,250.3 378.7,251.2" fill="none" stroke="#7a7a7a" stroke-width="0.42"/><polyline points="305.4,253.5 323.7,249.1 342.1,251.5 360.4,248.4 378.7,238.8" fill="none" stroke="#c0c0c0" stroke-width="0.42"/><polyline points="305.4,248.5 323.7,245.3 342.1,251.5 360.4,257.5 378.7,259.3" fill="none" stroke="#7a7a7a" stroke-width="0.42"/><polyline points="305.4,253.8 323.7,254.1 342.1,254.8 360.4,245.2 378.7,246.7" fill="none" stroke="#c0c0c0" stroke-width="0.42"/><polyline points="305.4,252.2 323.7,247.6 342.1,246.7 360.4,248.7 378.7,252.1" fill="none" stroke="#aaaaaa" stroke-width="0.42"/><polyline points="305.4,271.9 323.7,272.1 342.1,274.1 360.4,266.6 378.7,264.1" fill="none" stroke="#aaaaaa" stroke-width="0.42"/><polyline points="305.4,259.9 323.7,273.0 342.1,270.1 360.4,268.7 378.7,265.2" fill="none" stroke="#8a8a8a" stroke-width="0.42"/><polyline points="305.4,266.2 323.7,270.8 342.1,275.8 360.4,273.0 378.7,273.7" fill="none" stroke="#7a7a7a" stroke-width="0.42"/><polyline points="305.4,271.3 323.7,273.6 342.1,277.0 360.4,274.0 378.7,273.5" fill="none" stroke="#c0c0c0" stroke-width="0.42"/><polyline points="305.4,256.9 323.7,256.4 342.1,254.3 360.4,254.4 378.7,258.5" fill="none" stroke="#9a9a9a" stroke-width="0.42"/><polyline points="305.4,256.9 323.7,257.5 342.1,255.0 360.4,250.8 378.7,250.6" fill="none" stroke="#9a9a9a" stroke-width="0.42"/><polyline points="305.4,236.1 323.7,235.7 342.1,238.3 360.4,238.2 378.7,235.3" fill="none" stroke="#aaaaaa" stroke-width="0.42"/><polyline points="305.4,256.0 323.7,246.3 342.1,244.9 360.4,238.7 378.7,234.3" fill="none" stroke="#c0c0c0" stroke-width="0.42"/><polyline points="305.4,254.0 323.7,252.0 342.1,251.1 360.4,245.2 378.7,245.7" fill="none" stroke="#8a8a8a" stroke-width="0.42"/><polyline points="305.4,256.0 323.7,254.8 342.1,251.3 360.4,249.0 378.7,239.9" fill="none" stroke="#c0c0c0" stroke-width="0.42"/><polyline points="305.4,259.6 323.7,257.1 342.1,259.9 360.4,262.7 378.7,261.4" fill="none" stroke="#8a8a8a" stroke-width="0.42"/><polyline points="305.4,239.5 323.7,235.4 342.1,240.8 360.4,246.1 378.7,245.6" fill="none" stroke="#7a7a7a" stroke-width="0.42"/><polyline points="305.4,246.2 323.7,253.2 342.1,251.0 360.4,247.4 378.7,255.4" fill="none" stroke="#8a8a8a" stroke-width="0.42"/><polyline points="305.4,242.3 323.7,242.3 342.1,239.3 360.4,235.6 378.7,230.3" fill="none" stroke="#c0c0c0" stroke-width="0.42"/><polyline points="305.4,254.4 323.7,258.2 342.1,254.9 360.4,257.1 378.7,261.3" fill="none" stroke="#7a7a7a" stroke-width="0.42"/><polyline points="305.4,246.3 323.7,246.7 342.1,241.7 360.4,243.6 378.7,236.8" fill="none" stroke="#b6b6b6" stroke-width="0.42"/><polyline points="305.4,238.0 323.7,236.0 342.1,240.0 360.4,238.0 378.7,226.0" fill="none" stroke="#9a9a9a" stroke-width="0.5"/><polyline points="305.4,290.0 323.7,292.0 342.1,290.0 360.4,288.0 378.7,293.0" fill="none" stroke="#9a9a9a" stroke-width="0.5"/><polygon points="305.4,255.1 306.5,255.1 307.9,255.0 309.5,254.9 311.4,254.8 313.4,254.8 315.5,254.7 317.6,254.5 319.7,254.4 321.8,254.3 323.7,254.2 325.5,254.1 327.4,254.0 329.2,253.8 331.1,253.7 332.9,253.6 334.7,253.4 336.6,253.3 338.4,253.2 340.3,253.0 342.1,252.9 343.9,252.8 345.8,252.7 347.6,252.6 349.4,252.5 351.3,252.3 353.1,252.2 354.9,252.1 356.7,252.0 358.6,251.9 360.4,251.7 362.3,251.5 364.4,251.3 366.5,251.1 368.6,250.8 370.7,250.6 372.7,250.4 374.6,250.1 376.2,249.9 377.6,249.7 378.7,249.6 378.7,254.4 377.6,254.4 376.2,254.5 374.6,254.6 372.7,254.7 370.7,254.8 368.6,254.9 366.5,255.0 364.4,255.1 362.3,255.2 360.4,255.3 358.6,255.4 356.7,255.5 354.9,255.5 353.1,255.6 351.3,255.7 349.4,255.7 347.6,255.8 345.8,255.9 343.9,256.0 342.1,256.1 340.3,256.2 338.4,256.4 336.6,256.5 334.7,256.7 332.9,256.9 331.1,257.0 329.2,257.2 327.4,257.4 325.5,257.6 323.7,257.8 321.8,258.0 319.7,258.2 317.6,258.5 315.5,258.7 313.4,258.9 311.4,259.2 309.5,259.4 307.9,259.6 306.5,259.8 305.4,259.9" fill="#eeb4bd" fill-opacity="0.4"/><polyline points="305.4,257.5 306.5,257.4 307.9,257.3 309.5,257.2 311.4,257.0 313.4,256.8 315.5,256.7 317.6,256.5 319.7,256.3 321.8,256.2 323.7,256.0 325.5,255.8 327.4,255.7 329.2,255.5 331.1,255.4 332.9,255.2 334.7,255.1 336.6,254.9 338.4,254.8 340.3,254.6 342.1,254.5 343.9,254.4 345.8,254.3 347.6,254.2 349.4,254.1 351.3,254.0 353.1,253.9 354.9,253.8 356.7,253.7 358.6,253.6 360.4,253.5 362.3,253.4 364.4,253.2 366.5,253.0 368.6,252.9 370.7,252.7 372.7,252.5 374.6,252.4 376.2,252.2 377.6,252.1 378.7,252.0" fill="none" stroke="#d9707f" stroke-width="0.6" stroke-opacity="0.9"/><polygon points="305.4,259.3 306.5,259.2 307.9,259.2 309.5,259.1 311.4,259.0 313.4,258.9 315.5,258.8 317.6,258.6 319.7,258.5 321.8,258.4 323.7,258.2 325.5,258.1 327.4,258.0 329.2,257.9 331.1,257.7 332.9,257.6 334.7,257.5 336.6,257.3 338.4,257.2 340.3,257.0 342.1,256.9 343.9,256.7 345.8,256.6 347.6,256.4 349.4,256.3 351.3,256.1 353.1,255.9 354.9,255.8 356.7,255.6 358.6,255.4 360.4,255.2 362.3,255.1 364.4,254.9 366.5,254.7 368.6,254.5 370.7,254.3 372.7,254.2 374.6,254.0 376.2,253.8 377.6,253.7 378.7,253.6 378.7,258.0 377.6,258.0 376.2,258.1 374.6,258.1 372.7,258.2 370.7,258.3 368.6,258.4 366.5,258.4 364.4,258.5 362.3,258.6 360.4,258.8 358.6,258.9 356.7,259.0 354.9,259.1 353.1,259.2 351.3,259.4 349.4,259.5 347.6,259.7 345.8,259.8 343.9,260.0 342.1,260.1 340.3,260.3 338.4,260.4 336.6,260.6 334.7,260.7 332.9,260.9 331.1,261.1 329.2,261.2 327.4,261.4 325.5,261.6 323.7,261.8 321.8,261.9 319.7,262.1 317.6,262.4 315.5,262.6 313.4,262.8 311.4,263.0 309.5,263.2 307.9,263.4 306.5,263.6 305.4,263.7" fill="#6cc2b9" fill-opacity="0.62"/><polyline points="305.4,261.5 306.5,261.4 307.9,261.3 309.5,261.2 311.4,261.0 313.4,260.8 315.5,260.7 317.6,260.5 319.7,260.3 321.8,260.2 323.7,260.0 325.5,259.9 327.4,259.7 329.2,259.6 331.1,259.4 332.9,259.2 334.7,259.1 336.6,258.9 338.4,258.8 340.3,258.6 342.1,258.5 343.9,258.3 345.8,258.2 347.6,258.0 349.4,257.9 351.3,257.7 353.1,257.6 354.9,257.4 356.7,257.3 358.6,257.1 360.4,257.0 362.3,256.9 364.4,256.7 366.5,256.6 368.6,256.4 370.7,256.3 372.7,256.2 374.6,256.1 376.2,256.0 377.6,255.9 378.7,255.8" fill="none" stroke="#279a90" stroke-width="0.8" stroke-opacity="0.9"/><circle cx="305.4" cy="261.0" r="0.3" fill="#444" fill-opacity="0.55"/><circle cx="323.7" cy="252.9" r="0.3" fill="#444" fill-opacity="0.55"/><circle cx="342.1" cy="258.0" r="0.3" fill="#444" fill-opacity="0.55"/><circle cx="360.4" cy="254.7" r="0.3" fill="#444" fill-opacity="0.55"/><circle cx="378.7" cy="253.8" r="0.3" fill="#444" fill-opacity="0.55"/><circle cx="305.4" cy="260.7" r="0.3" fill="#444" fill-opacity="0.55"/><circle cx="323.7" cy="265.2" r="0.3" fill="#444" fill-opacity="0.55"/><circle cx="342.1" cy="262.2" r="0.3" fill="#444" fill-opacity="0.55"/><circle cx="360.4" cy="262.7" r="0.3" fill="#444" fill-opacity="0.55"/><circle cx="378.7" cy="259.3" r="0.3" fill="#444" fill-opacity="0.55"/><circle cx="305.4" cy="261.7" r="0.3" fill="#444" fill-opacity="0.55"/><circle cx="323.7" cy="265.7" r="0.3" fill="#444" fill-opacity="0.55"/><circle cx="342.1" cy="264.1" r="0.3" fill="#444" fill-opacity="0.55"/><circle cx="360.4" cy="262.8" r="0.3" fill="#444" fill-opacity="0.55"/><circle cx="378.7" cy="261.7" r="0.3" fill="#444" fill-opacity="0.55"/><circle cx="305.4" cy="273.9" r="0.3" fill="#444" fill-opacity="0.55"/><circle cx="323.7" cy="273.1" r="0.3" fill="#444" fill-opacity="0.55"/><circle cx="342.1" cy="269.8" r="0.3" fill="#444" fill-opacity="0.55"/><circle cx="360.4" cy="269.4" r="0.3" fill="#444" fill-opacity="0.55"/><circle cx="378.7" cy="264.8" r="0.3" fill="#444" fill-opacity="0.55"/><circle cx="305.4" cy="261.5" r="0.3" fill="#444" fill-opacity="0.55"/><circle cx="323.7" cy="260.7" r="0.3" fill="#444" fill-opacity="0.55"/><circle cx="342.1" cy="261.6" r="0.3" fill="#444" fill-opacity="0.55"/><circle cx="360.4" cy="258.6" r="0.3" fill="#444" fill-opacity="0.55"/><circle cx="378.7" cy="259.7" r="0.3" fill="#444" fill-opacity="0.55"/><circle cx="305.4" cy="280.4" r="0.3" fill="#444" fill-opacity="0.55"/><circle cx="323.7" cy="276.9" r="0.3" fill="#444" fill-opacity="0.55"/><circle cx="342.1" cy="285.8" r="0.3" fill="#444" fill-opacity="0.55"/><circle cx="360.4" cy="278.9" r="0.3" fill="#444" fill-opacity="0.55"/><circle cx="378.7" cy="275.1" r="0.3" fill="#444" fill-opacity="0.55"/><circle cx="305.4" cy="246.3" r="0.3" fill="#444" fill-opacity="0.55"/><circle cx="323.7" cy="243.1" r="0.3" fill="#444" fill-opacity="0.55"/><circle cx="342.1" cy="250.4" r="0.3" fill="#444" fill-opacity="0.55"/><circle cx="360.4" cy="247.6" r="0.3" fill="#444" fill-opacity="0.55"/><circle cx="378.7" cy="244.2" r="0.3" fill="#444" fill-opacity="0.55"/><circle cx="305.4" cy="252.1" r="0.3" fill="#444" fill-opacity="0.55"/><circle cx="323.7" cy="252.0" r="0.3" fill="#444" fill-opacity="0.55"/><circle cx="342.1" cy="252.1" r="0.3" fill="#444" fill-opacity="0.55"/><circle cx="360.4" cy="249.4" r="0.3" fill="#444" fill-opacity="0.55"/><circle cx="378.7" cy="253.9" r="0.3" fill="#444" fill-opacity="0.55"/><circle cx="305.4" cy="257.6" r="0.3" fill="#444" fill-opacity="0.55"/><circle cx="323.7" cy="253.4" r="0.3" fill="#444" fill-opacity="0.55"/><circle cx="342.1" cy="249.6" r="0.3" fill="#444" fill-opacity="0.55"/><circle cx="360.4" cy="255.5" r="0.3" fill="#444" fill-opacity="0.55"/><circle cx="378.7" cy="249.2" r="0.3" fill="#444" fill-opacity="0.55"/><circle cx="305.4" cy="260.8" r="0.3" fill="#444" fill-opacity="0.55"/><circle cx="323.7" cy="259.5" r="0.3" fill="#444" fill-opacity="0.55"/><circle cx="342.1" cy="257.1" r="0.3" fill="#444" fill-opacity="0.55"/><circle cx="360.4" cy="257.0" r="0.3" fill="#444" fill-opacity="0.55"/><circle cx="378.7" cy="254.8" r="0.3" fill="#444" fill-opacity="0.55"/><circle cx="305.4" cy="260.8" r="0.3" fill="#444" fill-opacity="0.55"/><circle cx="323.7" cy="259.2" r="0.3" fill="#444" fill-opacity="0.55"/><circle cx="342.1" cy="259.1" r="0.3" fill="#444" fill-opacity="0.55"/><circle cx="360.4" cy="254.4" r="0.3" fill="#444" fill-opacity="0.55"/><circle cx="378.7" cy="251.8" r="0.3" fill="#444" fill-opacity="0.55"/><circle cx="305.4" cy="261.3" r="0.3" fill="#444" fill-opacity="0.55"/><circle cx="323.7" cy="264.5" r="0.3" fill="#444" fill-opacity="0.55"/><circle cx="342.1" cy="272.5" r="0.3" fill="#444" fill-opacity="0.55"/><circle cx="360.4" cy="273.7" r="0.3" fill="#444" fill-opacity="0.55"/><circle cx="378.7" cy="279.7" r="0.3" fill="#444" fill-opacity="0.55"/><circle cx="305.4" cy="274.9" r="0.3" fill="#444" fill-opacity="0.55"/><circle cx="323.7" cy="272.6" r="0.3" fill="#444" fill-opacity="0.55"/><circle cx="342.1" cy="268.6" r="0.3" fill="#444" fill-opacity="0.55"/><circle cx="360.4" cy="271.4" r="0.3" fill="#444" fill-opacity="0.55"/><circle cx="378.7" cy="269.8" r="0.3" fill="#444" fill-opacity="0.55"/><circle cx="305.4" cy="256.8" r="0.3" fill="#444" fill-opacity="0.55"/><circle cx="323.7" cy="258.1" r="0.3" fill="#444" fill-opacity="0.55"/><circle cx="342.1" cy="249.5" r="0.3" fill="#444" fill-opacity="0.55"/><circle cx="360.4" cy="257.9" r="0.3" fill="#444" fill-opacity="0.55"/><circle cx="378.7" cy="258.7" r="0.3" fill="#444" fill-opacity="0.55"/><circle cx="305.4" cy="253.8" r="0.3" fill="#444" fill-opacity="0.55"/><circle cx="323.7" cy="257.5" r="0.3" fill="#444" fill-opacity="0.55"/><circle cx="342.1" cy="259.6" r="0.3" fill="#444" fill-opacity="0.55"/><circle cx="360.4" cy="256.8" r="0.3" fill="#444" fill-opacity="0.55"/><circle cx="378.7" cy="260.4" r="0.3" fill="#444" fill-opacity="0.55"/><circle cx="305.4" cy="255.7" r="0.3" fill="#444" fill-opacity="0.55"/><circle cx="323.7" cy="253.7" r="0.3" fill="#444" fill-opacity="0.55"/><circle cx="342.1" cy="254.9" r="0.3" fill="#444" fill-opacity="0.55"/><circle cx="360.4" cy="255.9" r="0.3" fill="#444" fill-opacity="0.55"/><circle cx="378.7" cy="255.3" r="0.3" fill="#444" fill-opacity="0.55"/><circle cx="305.4" cy="255.5" r="0.3" fill="#444" fill-opacity="0.55"/><circle cx="323.7" cy="254.4" r="0.3" fill="#444" fill-opacity="0.55"/><circle cx="342.1" cy="264.6" r="0.3" fill="#444" fill-opacity="0.55"/><circle cx="360.4" cy="267.2" r="0.3" fill="#444" fill-opacity="0.55"/><circle cx="378.7" cy="260.2" r="0.3" fill="#444" fill-opacity="0.55"/><circle cx="305.4" cy="259.7" r="0.3" fill="#444" fill-opacity="0.55"/><circle cx="323.7" cy="252.4" r="0.3" fill="#444" fill-opacity="0.55"/><circle cx="342.1" cy="247.3" r="0.3" fill="#444" fill-opacity="0.55"/><circle cx="360.4" cy="242.2" r="0.3" fill="#444" fill-opacity="0.55"/><circle cx="378.7" cy="241.7" r="0.3" fill="#444" fill-opacity="0.55"/><circle cx="305.4" cy="259.5" r="0.3" fill="#444" fill-opacity="0.55"/><circle cx="323.7" cy="258.0" r="0.3" fill="#444" fill-opacity="0.55"/><circle cx="342.1" cy="249.4" r="0.3" fill="#444" fill-opacity="0.55"/><circle cx="360.4" cy="248.7" r="0.3" fill="#444" fill-opacity="0.55"/><circle cx="378.7" cy="252.2" r="0.3" fill="#444" fill-opacity="0.55"/><circle cx="305.4" cy="279.8" r="0.3" fill="#444" fill-opacity="0.55"/><circle cx="323.7" cy="274.0" r="0.3" fill="#444" fill-opacity="0.55"/><circle cx="342.1" cy="267.8" r="0.3" fill="#444" fill-opacity="0.55"/><circle cx="360.4" cy="270.2" r="0.3" fill="#444" fill-opacity="0.55"/><circle cx="378.7" cy="271.5" r="0.3" fill="#444" fill-opacity="0.55"/><circle cx="305.4" cy="256.8" r="0.3" fill="#444" fill-opacity="0.55"/><circle cx="323.7" cy="253.1" r="0.3" fill="#444" fill-opacity="0.55"/><circle cx="342.1" cy="237.5" r="0.3" fill="#444" fill-opacity="0.55"/><circle cx="360.4" cy="240.9" r="0.3" fill="#444" fill-opacity="0.55"/><circle cx="378.7" cy="247.1" r="0.3" fill="#444" fill-opacity="0.55"/><circle cx="305.4" cy="237.9" r="0.3" fill="#444" fill-opacity="0.55"/><circle cx="323.7" cy="237.5" r="0.3" fill="#444" fill-opacity="0.55"/><circle cx="342.1" cy="237.0" r="0.3" fill="#444" fill-opacity="0.55"/><circle cx="360.4" cy="237.3" r="0.3" fill="#444" fill-opacity="0.55"/><circle cx="378.7" cy="235.8" r="0.3" fill="#444" fill-opacity="0.55"/><circle cx="305.4" cy="255.5" r="0.3" fill="#444" fill-opacity="0.55"/><circle cx="323.7" cy="257.6" r="0.3" fill="#444" fill-opacity="0.55"/><circle cx="342.1" cy="266.7" r="0.3" fill="#444" fill-opacity="0.55"/><circle cx="360.4" cy="265.0" r="0.3" fill="#444" fill-opacity="0.55"/><circle cx="378.7" cy="258.9" r="0.3" fill="#444" fill-opacity="0.55"/><circle cx="305.4" cy="252.7" r="0.3" fill="#444" fill-opacity="0.55"/><circle cx="323.7" cy="254.4" r="0.3" fill="#444" fill-opacity="0.55"/><circle cx="342.1" cy="255.1" r="0.3" fill="#444" fill-opacity="0.55"/><circle cx="360.4" cy="255.7" r="0.3" fill="#444" fill-opacity="0.55"/><circle cx="378.7" cy="243.9" r="0.3" fill="#444" fill-opacity="0.55"/><circle cx="305.4" cy="257.7" r="0.3" fill="#444" fill-opacity="0.55"/><circle cx="323.7" cy="250.0" r="0.3" fill="#444" fill-opacity="0.55"/><circle cx="342.1" cy="247.0" r="0.3" fill="#444" fill-opacity="0.55"/><circle cx="360.4" cy="240.4" r="0.3" fill="#444" fill-opacity="0.55"/><circle cx="378.7" cy="238.7" r="0.3" fill="#444" fill-opacity="0.55"/><circle cx="305.4" cy="251.6" r="0.3" fill="#444" fill-opacity="0.55"/><circle cx="323.7" cy="249.7" r="0.3" fill="#444" fill-opacity="0.55"/><circle cx="342.1" cy="253.2" r="0.3" fill="#444" fill-opacity="0.55"/><circle cx="360.4" cy="253.0" r="0.3" fill="#444" fill-opacity="0.55"/><circle cx="378.7" cy="243.4" r="0.3" fill="#444" fill-opacity="0.55"/><circle cx="305.4" cy="247.0" r="0.3" fill="#444" fill-opacity="0.55"/><circle cx="323.7" cy="244.0" r="0.3" fill="#444" fill-opacity="0.55"/><circle cx="342.1" cy="242.5" r="0.3" fill="#444" fill-opacity="0.55"/><circle cx="360.4" cy="241.2" r="0.3" fill="#444" fill-opacity="0.55"/><circle cx="378.7" cy="235.6" r="0.3" fill="#444" fill-opacity="0.55"/><circle cx="305.4" cy="259.6" r="0.3" fill="#444" fill-opacity="0.55"/><circle cx="323.7" cy="251.4" r="0.3" fill="#444" fill-opacity="0.55"/><circle cx="342.1" cy="252.1" r="0.3" fill="#444" fill-opacity="0.55"/><circle cx="360.4" cy="246.8" r="0.3" fill="#444" fill-opacity="0.55"/><circle cx="378.7" cy="237.7" r="0.3" fill="#444" fill-opacity="0.55"/><circle cx="305.4" cy="250.9" r="0.3" fill="#444" fill-opacity="0.55"/><circle cx="323.7" cy="244.7" r="0.3" fill="#444" fill-opacity="0.55"/><circle cx="342.1" cy="245.5" r="0.3" fill="#444" fill-opacity="0.55"/><circle cx="360.4" cy="241.2" r="0.3" fill="#444" fill-opacity="0.55"/><circle cx="378.7" cy="244.8" r="0.3" fill="#444" fill-opacity="0.55"/><circle cx="305.4" cy="243.5" r="0.3" fill="#444" fill-opacity="0.55"/><circle cx="323.7" cy="252.4" r="0.3" fill="#444" fill-opacity="0.55"/><circle cx="342.1" cy="249.9" r="0.3" fill="#444" fill-opacity="0.55"/><circle cx="360.4" cy="244.0" r="0.3" fill="#444" fill-opacity="0.55"/><circle cx="378.7" cy="241.3" r="0.3" fill="#444" fill-opacity="0.55"/><circle cx="305.4" cy="248.6" r="0.3" fill="#444" fill-opacity="0.55"/><circle cx="323.7" cy="239.5" r="0.3" fill="#444" fill-opacity="0.55"/><circle cx="342.1" cy="239.5" r="0.3" fill="#444" fill-opacity="0.55"/><circle cx="360.4" cy="239.4" r="0.3" fill="#444" fill-opacity="0.55"/><circle cx="378.7" cy="235.9" r="0.3" fill="#444" fill-opacity="0.55"/><circle cx="305.4" cy="244.5" r="0.3" fill="#444" fill-opacity="0.55"/><circle cx="323.7" cy="244.5" r="0.3" fill="#444" fill-opacity="0.55"/><circle cx="342.1" cy="238.3" r="0.3" fill="#444" fill-opacity="0.55"/><circle cx="360.4" cy="235.2" r="0.3" fill="#444" fill-opacity="0.55"/><circle cx="378.7" cy="228.7" r="0.3" fill="#444" fill-opacity="0.55"/><circle cx="305.4" cy="259.6" r="0.3" fill="#444" fill-opacity="0.55"/><circle cx="323.7" cy="253.0" r="0.3" fill="#444" fill-opacity="0.55"/><circle cx="342.1" cy="251.8" r="0.3" fill="#444" fill-opacity="0.55"/><circle cx="360.4" cy="249.8" r="0.3" fill="#444" fill-opacity="0.55"/><circle cx="378.7" cy="250.7" r="0.3" fill="#444" fill-opacity="0.55"/><circle cx="305.4" cy="252.0" r="0.3" fill="#444" fill-opacity="0.55"/><circle cx="323.7" cy="252.2" r="0.3" fill="#444" fill-opacity="0.55"/><circle cx="342.1" cy="257.1" r="0.3" fill="#444" fill-opacity="0.55"/><circle cx="360.4" cy="255.3" r="0.3" fill="#444" fill-opacity="0.55"/><circle cx="378.7" cy="252.3" r="0.3" fill="#444" fill-opacity="0.55"/><circle cx="305.4" cy="261.5" r="0.3" fill="#444" fill-opacity="0.55"/><circle cx="323.7" cy="261.8" r="0.3" fill="#444" fill-opacity="0.55"/><circle cx="342.1" cy="263.1" r="0.3" fill="#444" fill-opacity="0.55"/><circle cx="360.4" cy="264.7" r="0.3" fill="#444" fill-opacity="0.55"/><circle cx="378.7" cy="264.1" r="0.3" fill="#444" fill-opacity="0.55"/><circle cx="305.4" cy="255.4" r="0.3" fill="#444" fill-opacity="0.55"/><circle cx="323.7" cy="250.6" r="0.3" fill="#444" fill-opacity="0.55"/><circle cx="342.1" cy="250.5" r="0.3" fill="#444" fill-opacity="0.55"/><circle cx="360.4" cy="245.4" r="0.3" fill="#444" fill-opacity="0.55"/><circle cx="378.7" cy="239.1" r="0.3" fill="#444" fill-opacity="0.55"/><circle cx="305.4" cy="261.7" r="0.3" fill="#444" fill-opacity="0.55"/><circle cx="323.7" cy="260.6" r="0.3" fill="#444" fill-opacity="0.55"/><circle cx="342.1" cy="256.9" r="0.3" fill="#444" fill-opacity="0.55"/><circle cx="360.4" cy="257.7" r="0.3" fill="#444" fill-opacity="0.55"/><circle cx="378.7" cy="253.6" r="0.3" fill="#444" fill-opacity="0.55"/><circle cx="305.4" cy="266.0" r="0.3" fill="#444" fill-opacity="0.55"/><circle cx="323.7" cy="264.2" r="0.3" fill="#444" fill-opacity="0.55"/><circle cx="342.1" cy="264.0" r="0.3" fill="#444" fill-opacity="0.55"/><circle cx="360.4" cy="261.6" r="0.3" fill="#444" fill-opacity="0.55"/><circle cx="378.7" cy="258.2" r="0.3" fill="#444" fill-opacity="0.55"/><circle cx="305.4" cy="254.3" r="0.3" fill="#444" fill-opacity="0.55"/><circle cx="323.7" cy="257.7" r="0.3" fill="#444" fill-opacity="0.55"/><circle cx="342.1" cy="263.9" r="0.3" fill="#444" fill-opacity="0.55"/><circle cx="360.4" cy="261.0" r="0.3" fill="#444" fill-opacity="0.55"/><circle cx="378.7" cy="251.0" r="0.3" fill="#444" fill-opacity="0.55"/><circle cx="305.4" cy="252.2" r="0.3" fill="#444" fill-opacity="0.55"/><circle cx="323.7" cy="249.7" r="0.3" fill="#444" fill-opacity="0.55"/><circle cx="342.1" cy="250.3" r="0.3" fill="#444" fill-opacity="0.55"/><circle cx="360.4" cy="245.1" r="0.3" fill="#444" fill-opacity="0.55"/><circle cx="378.7" cy="239.4" r="0.3" fill="#444" fill-opacity="0.55"/><circle cx="305.4" cy="282.1" r="0.3" fill="#444" fill-opacity="0.55"/><circle cx="323.7" cy="280.0" r="0.3" fill="#444" fill-opacity="0.55"/><circle cx="342.1" cy="274.0" r="0.3" fill="#444" fill-opacity="0.55"/><circle cx="360.4" cy="279.8" r="0.3" fill="#444" fill-opacity="0.55"/><circle cx="378.7" cy="280.2" r="0.3" fill="#444" fill-opacity="0.55"/><circle cx="305.4" cy="262.0" r="0.3" fill="#444" fill-opacity="0.55"/><circle cx="323.7" cy="259.3" r="0.3" fill="#444" fill-opacity="0.55"/><circle cx="342.1" cy="256.9" r="0.3" fill="#444" fill-opacity="0.55"/><circle cx="360.4" cy="250.1" r="0.3" fill="#444" fill-opacity="0.55"/><circle cx="378.7" cy="240.4" r="0.3" fill="#444" fill-opacity="0.55"/><circle cx="305.4" cy="254.8" r="0.3" fill="#444" fill-opacity="0.55"/><circle cx="323.7" cy="255.0" r="0.3" fill="#444" fill-opacity="0.55"/><circle cx="342.1" cy="251.3" r="0.3" fill="#444" fill-opacity="0.55"/><circle cx="360.4" cy="260.6" r="0.3" fill="#444" fill-opacity="0.55"/><circle cx="378.7" cy="249.3" r="0.3" fill="#444" fill-opacity="0.55"/><circle cx="305.4" cy="288.2" r="0.3" fill="#444" fill-opacity="0.55"/><circle cx="323.7" cy="284.7" r="0.3" fill="#444" fill-opacity="0.55"/><circle cx="342.1" cy="281.9" r="0.3" fill="#444" fill-opacity="0.55"/><circle cx="360.4" cy="285.5" r="0.3" fill="#444" fill-opacity="0.55"/><circle cx="378.7" cy="282.8" r="0.3" fill="#444" fill-opacity="0.55"/><circle cx="305.4" cy="248.7" r="0.3" fill="#444" fill-opacity="0.55"/><circle cx="323.7" cy="258.1" r="0.3" fill="#444" fill-opacity="0.55"/><circle cx="342.1" cy="253.8" r="0.3" fill="#444" fill-opacity="0.55"/><circle cx="360.4" cy="253.0" r="0.3" fill="#444" fill-opacity="0.55"/><circle cx="378.7" cy="248.5" r="0.3" fill="#444" fill-opacity="0.55"/><circle cx="305.4" cy="261.2" r="0.3" fill="#444" fill-opacity="0.55"/><circle cx="323.7" cy="257.1" r="0.3" fill="#444" fill-opacity="0.55"/><circle cx="342.1" cy="257.2" r="0.3" fill="#444" fill-opacity="0.55"/><circle cx="360.4" cy="257.7" r="0.3" fill="#444" fill-opacity="0.55"/><circle cx="378.7" cy="246.5" r="0.3" fill="#444" fill-opacity="0.55"/><circle cx="305.4" cy="253.4" r="0.3" fill="#444" fill-opacity="0.55"/><circle cx="323.7" cy="251.7" r="0.3" fill="#444" fill-opacity="0.55"/><circle cx="342.1" cy="257.1" r="0.3" fill="#444" fill-opacity="0.55"/><circle cx="360.4" cy="253.4" r="0.3" fill="#444" fill-opacity="0.55"/><circle cx="378.7" cy="251.5" r="0.3" fill="#444" fill-opacity="0.55"/><circle cx="305.4" cy="253.3" r="0.3" fill="#444" fill-opacity="0.55"/><circle cx="323.7" cy="255.6" r="0.3" fill="#444" fill-opacity="0.55"/><circle cx="342.1" cy="254.4" r="0.3" fill="#444" fill-opacity="0.55"/><circle cx="360.4" cy="249.9" r="0.3" fill="#444" fill-opacity="0.55"/><circle cx="378.7" cy="244.3" r="0.3" fill="#444" fill-opacity="0.55"/><circle cx="305.4" cy="247.6" r="0.3" fill="#444" fill-opacity="0.55"/><circle cx="323.7" cy="242.6" r="0.3" fill="#444" fill-opacity="0.55"/><circle cx="342.1" cy="246.6" r="0.3" fill="#444" fill-opacity="0.55"/><circle cx="360.4" cy="250.1" r="0.3" fill="#444" fill-opacity="0.55"/><circle cx="378.7" cy="246.2" r="0.3" fill="#444" fill-opacity="0.55"/><circle cx="305.4" cy="249.1" r="0.3" fill="#444" fill-opacity="0.55"/><circle cx="323.7" cy="246.7" r="0.3" fill="#444" fill-opacity="0.55"/><circle cx="342.1" cy="250.4" r="0.3" fill="#444" fill-opacity="0.55"/><circle cx="360.4" cy="245.7" r="0.3" fill="#444" fill-opacity="0.55"/><circle cx="378.7" cy="244.7" r="0.3" fill="#444" fill-opacity="0.55"/><circle cx="305.4" cy="259.5" r="0.3" fill="#444" fill-opacity="0.55"/><circle cx="323.7" cy="257.9" r="0.3" fill="#444" fill-opacity="0.55"/><circle cx="342.1" cy="256.8" r="0.3" fill="#444" fill-opacity="0.55"/><circle cx="360.4" cy="260.2" r="0.3" fill="#444" fill-opacity="0.55"/><circle cx="378.7" cy="267.3" r="0.3" fill="#444" fill-opacity="0.55"/><circle cx="305.4" cy="250.5" r="0.3" fill="#444" fill-opacity="0.55"/><circle cx="323.7" cy="256.4" r="0.3" fill="#444" fill-opacity="0.55"/><circle cx="342.1" cy="256.0" r="0.3" fill="#444" fill-opacity="0.55"/><circle cx="360.4" cy="250.3" r="0.3" fill="#444" fill-opacity="0.55"/><circle cx="378.7" cy="251.2" r="0.3" fill="#444" fill-opacity="0.55"/><circle cx="305.4" cy="253.5" r="0.3" fill="#444" fill-opacity="0.55"/><circle cx="323.7" cy="249.1" r="0.3" fill="#444" fill-opacity="0.55"/><circle cx="342.1" cy="251.5" r="0.3" fill="#444" fill-opacity="0.55"/><circle cx="360.4" cy="248.4" r="0.3" fill="#444" fill-opacity="0.55"/><circle cx="378.7" cy="238.8" r="0.3" fill="#444" fill-opacity="0.55"/><circle cx="305.4" cy="248.5" r="0.3" fill="#444" fill-opacity="0.55"/><circle cx="323.7" cy="245.3" r="0.3" fill="#444" fill-opacity="0.55"/><circle cx="342.1" cy="251.5" r="0.3" fill="#444" fill-opacity="0.55"/><circle cx="360.4" cy="257.5" r="0.3" fill="#444" fill-opacity="0.55"/><circle cx="378.7" cy="259.3" r="0.3" fill="#444" fill-opacity="0.55"/><circle cx="305.4" cy="253.8" r="0.3" fill="#444" fill-opacity="0.55"/><circle cx="323.7" cy="254.1" r="0.3" fill="#444" fill-opacity="0.55"/><circle cx="342.1" cy="254.8" r="0.3" fill="#444" fill-opacity="0.55"/><circle cx="360.4" cy="245.2" r="0.3" fill="#444" fill-opacity="0.55"/><circle cx="378.7" cy="246.7" r="0.3" fill="#444" fill-opacity="0.55"/><circle cx="305.4" cy="252.2" r="0.3" fill="#444" fill-opacity="0.55"/><circle cx="323.7" cy="247.6" r="0.3" fill="#444" fill-opacity="0.55"/><circle cx="342.1" cy="246.7" r="0.3" fill="#444" fill-opacity="0.55"/><circle cx="360.4" cy="248.7" r="0.3" fill="#444" fill-opacity="0.55"/><circle cx="378.7" cy="252.1" r="0.3" fill="#444" fill-opacity="0.55"/><circle cx="305.4" cy="271.9" r="0.3" fill="#444" fill-opacity="0.55"/><circle cx="323.7" cy="272.1" r="0.3" fill="#444" fill-opacity="0.55"/><circle cx="342.1" cy="274.1" r="0.3" fill="#444" fill-opacity="0.55"/><circle cx="360.4" cy="266.6" r="0.3" fill="#444" fill-opacity="0.55"/><circle cx="378.7" cy="264.1" r="0.3" fill="#444" fill-opacity="0.55"/><circle cx="305.4" cy="259.9" r="0.3" fill="#444" fill-opacity="0.55"/><circle cx="323.7" cy="273.0" r="0.3" fill="#444" fill-opacity="0.55"/><circle cx="342.1" cy="270.1" r="0.3" fill="#444" fill-opacity="0.55"/><circle cx="360.4" cy="268.7" r="0.3" fill="#444" fill-opacity="0.55"/><circle cx="378.7" cy="265.2" r="0.3" fill="#444" fill-opacity="0.55"/><circle cx="305.4" cy="266.2" r="0.3" fill="#444" fill-opacity="0.55"/><circle cx="323.7" cy="270.8" r="0.3" fill="#444" fill-opacity="0.55"/><circle cx="342.1" cy="275.8" r="0.3" fill="#444" fill-opacity="0.55"/><circle cx="360.4" cy="273.0" r="0.3" fill="#444" fill-opacity="0.55"/><circle cx="378.7" cy="273.7" r="0.3" fill="#444" fill-opacity="0.55"/><circle cx="305.4" cy="271.3" r="0.3" fill="#444" fill-opacity="0.55"/><circle cx="323.7" cy="273.6" r="0.3" fill="#444" fill-opacity="0.55"/><circle cx="342.1" cy="277.0" r="0.3" fill="#444" fill-opacity="0.55"/><circle cx="360.4" cy="274.0" r="0.3" fill="#444" fill-opacity="0.55"/><circle cx="378.7" cy="273.5" r="0.3" fill="#444" fill-opacity="0.55"/><circle cx="305.4" cy="256.9" r="0.3" fill="#444" fill-opacity="0.55"/><circle cx="323.7" cy="256.4" r="0.3" fill="#444" fill-opacity="0.55"/><circle cx="342.1" cy="254.3" r="0.3" fill="#444" fill-opacity="0.55"/><circle cx="360.4" cy="254.4" r="0.3" fill="#444" fill-opacity="0.55"/><circle cx="378.7" cy="258.5" r="0.3" fill="#444" fill-opacity="0.55"/><circle cx="305.4" cy="256.9" r="0.3" fill="#444" fill-opacity="0.55"/><circle cx="323.7" cy="257.5" r="0.3" fill="#444" fill-opacity="0.55"/><circle cx="342.1" cy="255.0" r="0.3" fill="#444" fill-opacity="0.55"/><circle cx="360.4" cy="250.8" r="0.3" fill="#444" fill-opacity="0.55"/><circle cx="378.7" cy="250.6" r="0.3" fill="#444" fill-opacity="0.55"/><circle cx="305.4" cy="236.1" r="0.3" fill="#444" fill-opacity="0.55"/><circle cx="323.7" cy="235.7" r="0.3" fill="#444" fill-opacity="0.55"/><circle cx="342.1" cy="238.3" r="0.3" fill="#444" fill-opacity="0.55"/><circle cx="360.4" cy="238.2" r="0.3" fill="#444" fill-opacity="0.55"/><circle cx="378.7" cy="235.3" r="0.3" fill="#444" fill-opacity="0.55"/><circle cx="305.4" cy="256.0" r="0.3" fill="#444" fill-opacity="0.55"/><circle cx="323.7" cy="246.3" r="0.3" fill="#444" fill-opacity="0.55"/><circle cx="342.1" cy="244.9" r="0.3" fill="#444" fill-opacity="0.55"/><circle cx="360.4" cy="238.7" r="0.3" fill="#444" fill-opacity="0.55"/><circle cx="378.7" cy="234.3" r="0.3" fill="#444" fill-opacity="0.55"/><circle cx="305.4" cy="254.0" r="0.3" fill="#444" fill-opacity="0.55"/><circle cx="323.7" cy="252.0" r="0.3" fill="#444" fill-opacity="0.55"/><circle cx="342.1" cy="251.1" r="0.3" fill="#444" fill-opacity="0.55"/><circle cx="360.4" cy="245.2" r="0.3" fill="#444" fill-opacity="0.55"/><circle cx="378.7" cy="245.7" r="0.3" fill="#444" fill-opacity="0.55"/><circle cx="305.4" cy="256.0" r="0.3" fill="#444" fill-opacity="0.55"/><circle cx="323.7" cy="254.8" r="0.3" fill="#444" fill-opacity="0.55"/><circle cx="342.1" cy="251.3" r="0.3" fill="#444" fill-opacity="0.55"/><circle cx="360.4" cy="249.0" r="0.3" fill="#444" fill-opacity="0.55"/><circle cx="378.7" cy="239.9" r="0.3" fill="#444" fill-opacity="0.55"/><circle cx="305.4" cy="259.6" r="0.3" fill="#444" fill-opacity="0.55"/><circle cx="323.7" cy="257.1" r="0.3" fill="#444" fill-opacity="0.55"/><circle cx="342.1" cy="259.9" r="0.3" fill="#444" fill-opacity="0.55"/><circle cx="360.4" cy="262.7" r="0.3" fill="#444" fill-opacity="0.55"/><circle cx="378.7" cy="261.4" r="0.3" fill="#444" fill-opacity="0.55"/><circle cx="305.4" cy="239.5" r="0.3" fill="#444" fill-opacity="0.55"/><circle cx="323.7" cy="235.4" r="0.3" fill="#444" fill-opacity="0.55"/><circle cx="342.1" cy="240.8" r="0.3" fill="#444" fill-opacity="0.55"/><circle cx="360.4" cy="246.1" r="0.3" fill="#444" fill-opacity="0.55"/><circle cx="378.7" cy="245.6" r="0.3" fill="#444" fill-opacity="0.55"/><circle cx="305.4" cy="246.2" r="0.3" fill="#444" fill-opacity="0.55"/><circle cx="323.7" cy="253.2" r="0.3" fill="#444" fill-opacity="0.55"/><circle cx="342.1" cy="251.0" r="0.3" fill="#444" fill-opacity="0.55"/><circle cx="360.4" cy="247.4" r="0.3" fill="#444" fill-opacity="0.55"/><circle cx="378.7" cy="255.4" r="0.3" fill="#444" fill-opacity="0.55"/><circle cx="305.4" cy="242.3" r="0.3" fill="#444" fill-opacity="0.55"/><circle cx="323.7" cy="242.3" r="0.3" fill="#444" fill-opacity="0.55"/><circle cx="342.1" cy="239.3" r="0.3" fill="#444" fill-opacity="0.55"/><circle cx="360.4" cy="235.6" r="0.3" fill="#444" fill-opacity="0.55"/><circle cx="378.7" cy="230.3" r="0.3" fill="#444" fill-opacity="0.55"/><circle cx="305.4" cy="254.4" r="0.3" fill="#444" fill-opacity="0.55"/><circle cx="323.7" cy="258.2" r="0.3" fill="#444" fill-opacity="0.55"/><circle cx="342.1" cy="254.9" r="0.3" fill="#444" fill-opacity="0.55"/><circle cx="360.4" cy="257.1" r="0.3" fill="#444" fill-opacity="0.55"/><circle cx="378.7" cy="261.3" r="0.3" fill="#444" fill-opacity="0.55"/><circle cx="305.4" cy="246.3" r="0.3" fill="#444" fill-opacity="0.55"/><circle cx="323.7" cy="246.7" r="0.3" fill="#444" fill-opacity="0.55"/><circle cx="342.1" cy="241.7" r="0.3" fill="#444" fill-opacity="0.55"/><circle cx="360.4" cy="243.6" r="0.3" fill="#444" fill-opacity="0.55"/><circle cx="378.7" cy="236.8" r="0.3" fill="#444" fill-opacity="0.55"/><rect x="337.6" y="302.0" width="9" height="1.0" fill="#bdbdbd"/><rect x="304.6" y="300.6" width="1.6" height="0.8" fill="#c4c4c4"/><rect x="322.9" y="300.6" width="1.6" height="0.8" fill="#c4c4c4"/><rect x="341.3" y="300.6" width="1.6" height="0.8" fill="#c4c4c4"/><rect x="359.6" y="300.6" width="1.6" height="0.8" fill="#c4c4c4"/><rect x="377.9" y="300.6" width="1.6" height="0.8" fill="#c4c4c4"/><rect x="291.5" y="225.5" width="1.6" height="1.0" fill="#b0b0b0"/><rect x="291.5" y="247.2" width="1.6" height="1.0" fill="#b0b0b0"/><rect x="291.5" y="271.5" width="1.6" height="1.0" fill="#b0b0b0"/><rect x="288.4" y="254.6" width="1.0" height="12.4" fill="#b8b8b8"/><rect x="392.3" y="257.7" width="20.8" height="1.0" fill="#a6a6a6"/><rect x="392.3" y="260.4" width="2.4" height="1.9" fill="#c8c8c8"/><rect x="392.6" y="260.7" width="1.8" height="1.3" fill="#e9a6b0"/><rect x="392.3" y="263.1" width="2.4" height="1.9" fill="#c8c8c8"/><rect x="392.6" y="263.4" width="1.8" height="1.3" fill="#6cc0b8"/><rect x="395.5" y="260.9" width="12.4" height="0.9" fill="#c2c2c2"/><rect x="395.5" y="263.6" width="13.4" height="0.9" fill="#c2c2c2"/></svg>
<svg width="520" height="307" viewBox="0 0 520 307" style="filter:grayscale(1)" font-family='"Liberation Sans", sans-serif'><text x="317.7" y="114.05" font-size="3.8" font-weight="bold" fill="#000" textLength="9.5" lengthAdjust="spacingAndGlyphs">p&lt;0.001</text><text x="334.9" y="113.25" font-size="3.8" font-weight="bold" fill="#000" textLength="9.3" lengthAdjust="spacingAndGlyphs">p=0.006</text><text x="354.3" y="109.05" font-size="3.8" font-weight="bold" fill="#000" textLength="9.5" lengthAdjust="spacingAndGlyphs">p=0.008</text><text x="370.8" y="99.45" font-size="3.8" font-weight="bold" fill="#000" textLength="7.7" lengthAdjust="spacingAndGlyphs">p=0.33</text><text x="296.0" y="40.20" font-size="2.9" fill="#333" textLength="10.8" lengthAdjust="spacingAndGlyphs">a. FACT-F</text><text x="431.5" y="96.05" font-size="3.8" font-weight="bold" fill="#000" textLength="8.7" lengthAdjust="spacingAndGlyphs">p=0.77</text><text x="449.8" y="96.05" font-size="3.8" font-weight="bold" fill="#000" textLength="9.1" lengthAdjust="spacingAndGlyphs">p=0.06</text><text x="466.8" y="96.05" font-size="3.8" font-weight="bold" fill="#000" textLength="9.4" lengthAdjust="spacingAndGlyphs">p=0.22</text><text x="482.4" y="96.05" font-size="3.8" font-weight="bold" fill="#000" textLength="8.7" lengthAdjust="spacingAndGlyphs">p=0.70</text><text x="409.0" y="40.00" font-size="2.9" fill="#333" textLength="16.0" lengthAdjust="spacingAndGlyphs">b. FACT-BMT</text><text x="317.7" y="200.85" font-size="3.8" font-weight="bold" fill="#000" textLength="10.0" lengthAdjust="spacingAndGlyphs">p&lt;0.008</text><text x="335.4" y="201.95" font-size="3.8" font-weight="bold" fill="#000" textLength="10.3" lengthAdjust="spacingAndGlyphs">p=0.0026</text><text x="354.6" y="199.65" font-size="3.8" font-weight="bold" fill="#000" textLength="9.2" lengthAdjust="spacingAndGlyphs">p=0.022</text><text x="370.8" y="197.35" font-size="3.8" font-weight="bold" fill="#000" textLength="7.7" lengthAdjust="spacingAndGlyphs">p=0.36</text><text x="295.6" y="127.90" font-size="2.9" fill="#333" textLength="19.6" lengthAdjust="spacingAndGlyphs">c. FWB Subscale</text><text x="430.5" y="170.65" font-size="3.8" font-weight="bold" fill="#000" textLength="8.6" lengthAdjust="spacingAndGlyphs">p=0.30</text><text x="449.2" y="168.55" font-size="3.8" font-weight="bold" fill="#000" textLength="9.7" lengthAdjust="spacingAndGlyphs">p=0.862</text><text x="466.1" y="165.65" font-size="3.8" font-weight="bold" fill="#000" textLength="8.7" lengthAdjust="spacingAndGlyphs">p=0.80</text><text x="482.4" y="162.75" font-size="3.8" font-weight="bold" fill="#000" textLength="9.3" lengthAdjust="spacingAndGlyphs">p=0.37</text><text x="408.9" y="127.80" font-size="2.9" fill="#333" textLength="12.6" lengthAdjust="spacingAndGlyphs">d. EQ5D-3L</text><text x="315.8" y="293.15" font-size="3.8" font-weight="bold" fill="#000" textLength="10.4" lengthAdjust="spacingAndGlyphs">p=0.11</text><text x="335.4" y="291.15" font-size="3.8" font-weight="bold" fill="#000" textLength="10.8" lengthAdjust="spacingAndGlyphs">p=0.43</text><text x="353.1" y="283.15" font-size="3.8" font-weight="bold" fill="#000" textLength="12.3" lengthAdjust="spacingAndGlyphs">p=0.006</text><text x="373.1" y="283.15" font-size="3.8" font-weight="bold" fill="#000" textLength="10.4" lengthAdjust="spacingAndGlyphs">p=0.46</text><text x="294.0" y="221.50" font-size="2.9" fill="#333" textLength="16.0" lengthAdjust="spacingAndGlyphs">e. CQOLC</text></svg>
<div style="position:absolute;left:29px;top:238px;width:1px;height:4px;background:#aaa"></div>
<div style="position:absolute;left:13.5px;top:63.2px;width:22.3px;height:0.8px;background:#e07070;opacity:0.8"></div>
<div style="position:absolute;left:0;top:0;width:520px;height:307px;filter:grayscale(1)">
<span class="t" id="t0" style="top:11.78px;font-size:5.1px;font-weight:bold;left:29.70px;transform:scaleX(0.8989);">Table 1. Changes in QOL scores from baseline (D0) in the overall patient and caregiver populations</span>
<span class="t" id="t1" style="top:33.28px;font-size:5.1px;font-weight:bold;left:118.10px;transform:scaleX(0.9183);">Patient outcomes</span>
<span class="t" id="t2" style="top:29.78px;font-size:5.1px;font-weight:bold;left:244.20px;transform:scaleX(0.9015);">Caregiver</span>
<span class="t" id="t3" style="top:36.98px;font-size:5.1px;font-weight:bold;left:244.80px;transform:scaleX(0.9419);">outcome</span>
<span class="t" id="t4" style="top:58.48px;font-size:5.1px;font-weight:bold;left:13.50px;transform:scaleX(0.9320);">Timepoint</span>
<span class="t" id="t5" style="top:58.68px;font-size:5.1px;font-weight:bold;left:51.50px;transform:scaleX(0.8470);">FACT-F</span>
<span class="t" id="t6" style="top:58.68px;font-size:5.1px;font-weight:bold;left:86.90px;transform:scaleX(0.8932);">FACT-BMT</span>
<span class="t" id="t7" style="top:51.68px;font-size:5.1px;font-weight:bold;left:126.00px;transform:scaleX(0.8932);">FACT-BMT</span>
<span class="t" id="t8" style="top:59.08px;font-size:5.1px;font-style:italic;left:123.40px;transform:scaleX(0.9300);">Physical well-</span>
<span class="t" id="t9" style="top:66.28px;font-size:5.1px;font-style:italic;left:122.20px;transform:scaleX(0.9240);">being subscale</span>
<span class="t" id="t10" style="top:48.28px;font-size:5.1px;font-weight:bold;left:164.90px;transform:scaleX(0.8932);">FACT-BMT</span>
<span class="t" id="t11" style="top:55.28px;font-size:5.1px;font-style:italic;left:165.50px;transform:scaleX(0.9526);">Functional</span>
<span class="t" id="t12" style="top:62.48px;font-size:5.1px;font-style:italic;left:166.25px;transform:scaleX(0.8935);">well-being</span>
<span class="t" id="t13" style="top:69.68px;font-size:5.1px;font-style:italic;left:167.52px;transform:scaleX(0.8935);">subscale</span>
<span class="t" id="t14" style="top:58.98px;font-size:5.1px;font-weight:bold;left:204.30px;transform:scaleX(0.8829);">EQ5D – 3L</span>
<span class="t" id="t15" style="top:58.98px;font-size:5.1px;font-weight:bold;left:247.00px;transform:scaleX(0.8149);">CQOLC</span>
<span class="t" id="t16" style="top:77.38px;font-size:5.1px;left:12.00px;transform:scaleX(0.8935);">D+7</span>
<span class="t" id="t17" style="top:77.38px;font-size:5.1px;left:47.43px;transform:scaleX(0.8935);">-10.4 (1.81)</span>
<span class="t" id="t18" style="top:84.38px;font-size:5.1px;font-weight:bold;left:50.78px;transform:scaleX(0.8935);">p&lt;0.001</span>
<span class="t" id="t19" style="top:77.38px;font-size:5.1px;left:85.17px;transform:scaleX(0.8935);">-13.40 (3.39)</span>
<span class="t" id="t20" style="top:84.38px;font-size:5.1px;font-weight:bold;left:89.78px;transform:scaleX(0.8935);">p&lt;0.001</span>
<span class="t" id="t21" style="top:77.38px;font-size:5.1px;left:125.53px;transform:scaleX(0.8935);">-8.45 (0.96)</span>
<span class="t" id="t22" style="top:84.38px;font-size:5.1px;font-weight:bold;left:128.88px;transform:scaleX(0.8935);">p&lt;0.001</span>
<span class="t" id="t23" style="top:77.38px;font-size:5.1px;left:164.53px;transform:scaleX(0.8935);">-3.09 (0.91)</span>
<span class="t" id="t24" style="top:84.38px;font-size:5.1px;font-weight:bold;left:167.88px;transform:scaleX(0.8935);">p&lt;0.001</span>
<span class="t" id="t25" style="top:77.38px;font-size:5.1px;left:201.00px;transform:scaleX(0.8935);">-0.064 (0.029)</span>
<span class="t" id="t26" style="top:84.38px;font-size:5.1px;font-weight:bold;left:206.87px;transform:scaleX(0.8935);"><i>p</i>=0.035</span>
<span class="t" id="t27" style="top:77.38px;font-size:5.1px;left:243.29px;transform:scaleX(0.8935);">4.61 (3.82)</span>
<span class="t" id="t28" style="top:84.38px;font-size:5.1px;left:247.27px;transform:scaleX(0.8935);"><i>p</i>=0.23</span>
<span class="t" id="t29" style="top:92.88px;font-size:5.1px;left:12.00px;transform:scaleX(0.8935);">D+14</span>
<span class="t" id="t30" style="top:92.88px;font-size:5.1px;left:47.43px;transform:scaleX(0.8935);">-6.91 (1.88)</span>
<span class="t" id="t31" style="top:99.88px;font-size:5.1px;font-weight:bold;left:50.78px;transform:scaleX(0.8935);">p&lt;0.001</span>
<span class="t" id="t32" style="top:92.88px;font-size:5.1px;left:86.43px;transform:scaleX(0.8935);">-5.68 (3.52)</span>
<span class="t" id="t33" style="top:99.88px;font-size:5.1px;left:90.70px;transform:scaleX(0.8935);"><i>p</i>= 0.11</span>
<span class="t" id="t34" style="top:92.88px;font-size:5.1px;left:125.53px;transform:scaleX(0.8935);">-3.64 (1.00)</span>
<span class="t" id="t35" style="top:99.88px;font-size:5.1px;font-weight:bold;left:128.88px;transform:scaleX(0.8935);">p&lt;0.001</span>
<span class="t" id="t36" style="top:92.88px;font-size:5.1px;left:164.53px;transform:scaleX(0.8935);">-2.04 (0.94)</span>
<span class="t" id="t37" style="top:99.88px;font-size:5.1px;font-weight:bold;left:167.87px;transform:scaleX(0.8935);"><i>p</i>=0.035</span>
<span class="t" id="t38" style="top:92.88px;font-size:5.1px;left:201.76px;transform:scaleX(0.8935);">0.040 (0.030)</span>
<span class="t" id="t39" style="top:99.88px;font-size:5.1px;left:208.27px;transform:scaleX(0.8935);"><i>p</i>=0.18</span>
<span class="t" id="t40" style="top:92.88px;font-size:5.1px;left:243.29px;transform:scaleX(0.8935);">1.72 (4.41)</span>
<span class="t" id="t41" style="top:99.88px;font-size:5.1px;left:247.27px;transform:scaleX(0.8935);"><i>p</i>=0.70</span>
<span class="t" id="t42" style="top:108.58px;font-size:5.1px;left:12.00px;transform:scaleX(0.8935);">D+28</span>
<span class="t" id="t43" style="top:108.58px;font-size:5.1px;left:47.43px;transform:scaleX(0.8935);">-4.41 (1.85)</span>
<span class="t" id="t44" style="top:115.58px;font-size:5.1px;font-weight:bold;left:50.77px;transform:scaleX(0.8935);"><i>p</i>=0.017</span>
<span class="t" id="t45" style="top:108.58px;font-size:5.1px;left:87.19px;transform:scaleX(0.8935);">2.44 (3.48)</span>
<span class="t" id="t46" style="top:115.58px;font-size:5.1px;left:91.17px;transform:scaleX(0.8935);"><i>p</i>=0.48</span>
<span class="t" id="t47" style="top:108.58px;font-size:5.1px;left:125.53px;transform:scaleX(0.8935);">-0.63 (0.99)</span>
<span class="t" id="t48" style="top:115.58px;font-size:5.1px;left:130.27px;transform:scaleX(0.8935);"><i>p</i>=0.52</span>
<span class="t" id="t49" style="top:108.58px;font-size:5.1px;left:164.53px;transform:scaleX(0.8935);">-1.29 (0.92)</span>
<span class="t" id="t50" style="top:115.58px;font-size:5.1px;left:169.27px;transform:scaleX(0.8935);"><i>p</i>=0.16</span>
<span class="t" id="t51" style="top:108.58px;font-size:5.1px;left:201.76px;transform:scaleX(0.8935);">0.021 (0.030)</span>
<span class="t" id="t52" style="top:115.58px;font-size:5.1px;left:208.27px;transform:scaleX(0.8935);"><i>p</i>=0.48</span>
<span class="t" id="t53" style="top:108.58px;font-size:5.1px;left:243.29px;transform:scaleX(0.8935);">5.95 (3.74)</span>
<span class="t" id="t54" style="top:115.58px;font-size:5.1px;left:247.44px;transform:scaleX(0.8935);"><i>p</i>=0.11</span>
<span class="t" id="t55" style="top:124.28px;font-size:5.1px;left:12.00px;transform:scaleX(0.8935);">D+100</span>
<span class="t" id="t56" style="top:124.28px;font-size:5.1px;left:48.19px;transform:scaleX(0.8935);">3.23 (1.88)</span>
<span class="t" id="t57" style="top:131.28px;font-size:5.1px;left:50.90px;transform:scaleX(0.8935);"><i>p</i>=0.084</span>
<span class="t" id="t58" style="top:124.28px;font-size:5.1px;left:87.19px;transform:scaleX(0.8935);">9.32 (3.49)</span>
<span class="t" id="t59" style="top:131.28px;font-size:5.1px;font-weight:bold;left:88.51px;transform:scaleX(0.8935);"><i>p</i>=0.0079</span>
<span class="t" id="t60" style="top:124.28px;font-size:5.1px;left:126.29px;transform:scaleX(0.8935);">1.46 (0.99)</span>
<span class="t" id="t61" style="top:131.28px;font-size:5.1px;left:130.27px;transform:scaleX(0.8935);"><i>p</i>=0.14</span>
<span class="t" id="t62" style="top:124.28px;font-size:5.1px;left:165.29px;transform:scaleX(0.8935);">1.18 (0.93)</span>
<span class="t" id="t63" style="top:131.28px;font-size:5.1px;left:169.27px;transform:scaleX(0.8935);"><i>p</i>=0.22</span>
<span class="t" id="t64" style="top:124.28px;font-size:5.1px;left:201.76px;transform:scaleX(0.8935);">0.052 (0.030)</span>
<span class="t" id="t65" style="top:131.28px;font-size:5.1px;left:207.00px;transform:scaleX(0.8935);"><i>p</i>=0.073</span>
<span class="t" id="t66" style="top:124.28px;font-size:5.1px;left:242.03px;transform:scaleX(0.8935);">10.27 (3.82)</span>
<span class="t" id="t67" style="top:131.28px;font-size:5.1px;font-weight:bold;left:245.87px;transform:scaleX(0.8935);"><i>p</i>=0.008</span>
<span class="t" id="t68" style="top:139.28px;font-size:5.1px;font-style:italic;left:51.50px;transform:scaleX(0.9171);">Values are mean (SE)</span>
<span class="t" id="t69" style="top:167.68px;font-size:5.1px;font-weight:bold;left:29.50px;transform:scaleX(0.9023);">Table 2 Indirect costs to the overall caregiver population (Canadian dollars)</span>
<span class="t" id="t70" style="top:182.48px;font-size:5.1px;font-weight:bold;left:79.50px;transform:scaleX(0.8797);">All caregivers</span>
<span class="t" id="t71" style="top:189.28px;font-size:5.1px;font-weight:bold;left:86.53px;transform:scaleX(0.8935);">(n=65)</span>
<span class="t" id="t72" style="top:182.48px;font-size:5.1px;font-weight:bold;left:131.71px;transform:scaleX(0.8935);">Inpatient</span>
<span class="t" id="t73" style="top:189.78px;font-size:5.1px;font-weight:bold;left:122.20px;transform:scaleX(0.9010);">caregivers (n=22)</span>
<span class="t" id="t74" style="top:182.48px;font-size:5.1px;font-weight:bold;left:177.52px;transform:scaleX(0.8935);">Outpatient</span>
<span class="t" id="t75" style="top:189.78px;font-size:5.1px;font-weight:bold;left:170.11px;transform:scaleX(0.8935);">caregivers (n=43)</span>
<span class="t" id="t76" style="top:186.48px;font-size:5.1px;font-weight:bold;left:235.90px;transform:scaleX(0.9527);">p-value</span>
<span class="t" id="t77" style="top:197.58px;font-size:5.1px;font-weight:bold;left:18.10px;transform:scaleX(0.8935);">Total indirect costs</span>
<span class="t" id="t78" style="top:204.48px;font-size:5.1px;font-weight:bold;left:27.67px;transform:scaleX(0.8935);">Mean (SD)</span>
<span class="t" id="t79" style="top:211.78px;font-size:5.1px;font-weight:bold;left:17.30px;transform:scaleX(0.8935);">Out-of-pocket costs</span>
<span class="t" id="t80" style="top:218.68px;font-size:5.1px;font-weight:bold;left:27.67px;transform:scaleX(0.8935);">Mean (SD)</span>
<span class="t" id="t81" style="top:201.18px;font-size:5.1px;left:73.00px;transform:scaleX(0.9445);">$1658.10 (2127.70)</span>
<span class="t" id="t82" style="top:201.18px;font-size:5.1px;left:120.10px;transform:scaleX(0.9602);">$1068.90 (1654.30)</span>
<span class="t" id="t83" style="top:201.18px;font-size:5.1px;left:169.03px;transform:scaleX(0.8935);">$1959.50 (2292.50)</span>
<span class="t" id="t84" style="top:200.68px;font-size:5.1px;font-weight:bold;left:239.17px;transform:scaleX(0.8935);">0.03</span>
<span class="t" id="t85" style="top:215.78px;font-size:5.1px;left:73.60px;transform:scaleX(0.8935);">$1166.60 (1482.00)</span>
<span class="t" id="t86" style="top:215.78px;font-size:5.1px;left:122.60px;transform:scaleX(0.8935);">$789.20 (1357.50)</span>
<span class="t" id="t87" style="top:215.78px;font-size:5.1px;left:169.03px;transform:scaleX(0.8935);">$1359.60 (1620.80)</span>
<span class="t" id="t88" style="top:215.38px;font-size:5.1px;font-weight:bold;left:237.90px;transform:scaleX(0.8935);">0.025</span>
<span class="t" id="t89" style="top:11.18px;font-size:5.1px;font-weight:bold;left:288.10px;transform:scaleX(0.8984);">Figure 1. Serial trends in QOL scores for patients and caregivers (including outpatients vs. inpatients)*</span>
<span class="t" id="t90" style="top:26.18px;font-size:5.1px;left:288.10px;transform:scaleX(0.8790);">*p-values represent comparisons of change from baseline in outpatients vs. inpatients at the respective timepoints</span>
</div>
</body></html>
